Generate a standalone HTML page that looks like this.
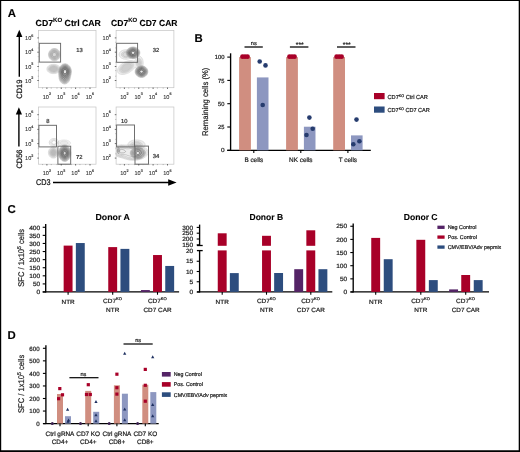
<!DOCTYPE html>
<html><head><meta charset="utf-8"><style>
html,body{margin:0;padding:0;background:#fff;}
body{width:520px;height:452px;overflow:hidden;}
svg{display:block;font-family:"Liberation Sans", sans-serif;text-rendering:geometricPrecision;will-change:transform;}
</style></head><body>
<svg width="520" height="452" viewBox="0 0 520 452" font-family='"Liberation Sans", sans-serif' fill="#1f1f1f">
<defs><filter id="soft" x="-2%" y="-2%" width="104%" height="104%" color-interpolation-filters="sRGB"><feGaussianBlur stdDeviation="0.3"/></filter></defs>
<g filter="url(#soft)">
<rect x="0" y="0" width="520" height="452" fill="#fff"/>
<text x="7.8" y="17.46" font-size="11.4" font-weight="bold" fill="#000" stroke="#000" stroke-width="0.1">A</text>
<text x="194.4" y="41.86" font-size="11.4" font-weight="bold" fill="#000" stroke="#000" stroke-width="0.1">B</text>
<text x="7.6" y="213.16" font-size="11.4" font-weight="bold" fill="#000" stroke="#000" stroke-width="0.1">C</text>
<text x="7.6" y="339.16" font-size="11.4" font-weight="bold" fill="#000" stroke="#000" stroke-width="0.1">D</text>
<text x="35.6" y="25.5" font-size="8.8" font-weight="bold" fill="#000" stroke="#000" stroke-width="0.1" textLength="65.3" lengthAdjust="spacingAndGlyphs">CD7<tspan font-size="6.16" dy="-3.52">KO</tspan><tspan dy="3.52"> Ctrl CAR</tspan></text>
<text x="111.1" y="25.5" font-size="8.8" font-weight="bold" fill="#000" stroke="#000" stroke-width="0.1" textLength="66.4" lengthAdjust="spacingAndGlyphs">CD7<tspan font-size="6.16" dy="-3.52">KO</tspan><tspan dy="3.52"> CD7 CAR</tspan></text>
<g fill="none" stroke-width="0.55" stroke-linejoin="round">
<path stroke="none" fill="#000" fill-opacity="0.09" d="M54.2 73.6 53.8 73.6 53.4 73.6 53.0 73.6 52.6 73.6 52.2 73.5 51.8 73.5 51.5 73.4 51.2 73.3 50.8 73.2 50.4 73.1 50.0 72.9 49.8 72.8 49.4 72.6 49.1 72.4 48.8 72.2 48.5 72.0 48.3 71.8 48.1 71.6 47.9 71.4 47.7 71.2 47.4 70.8 47.2 70.4 47.1 70.0 47.0 69.6 46.9 69.2 46.9 68.8 47.0 68.4 47.1 68.0 47.2 67.6 47.3 67.4 47.6 67.0 47.8 66.7 48.0 66.5 48.2 66.3 48.4 66.1 48.6 65.9 49.0 65.6 49.4 65.4 49.8 65.2 50.0 65.1 50.4 64.9 50.8 64.8 51.2 64.7 51.5 64.6 51.8 64.5 52.2 64.5 52.6 64.4 53.0 64.4 53.4 64.4 53.8 64.4 54.2 64.4 54.6 64.4 55.0 64.5 55.4 64.5 55.7 64.6 56.0 64.7 56.4 64.8 56.8 64.9 57.2 65.1 57.4 65.2 57.8 65.4 58.1 65.6 58.4 65.8 58.7 66.0 58.9 66.2 59.1 66.4 59.3 66.6 59.5 66.8 59.8 67.2 60.0 67.6 60.1 68.0 60.2 68.4 60.3 68.8 60.3 69.2 60.2 69.6 60.1 70.0 60.0 70.4 59.9 70.6 59.6 71.0 59.4 71.3 59.2 71.5 59.0 71.7 58.8 71.9 58.6 72.1 58.2 72.4 57.8 72.6 57.4 72.8 57.2 72.9 56.8 73.1 56.4 73.2 56.0 73.3 55.7 73.4 55.4 73.5 55.0 73.5 54.6 73.6Z"/>
<path stroke="none" fill="#000" fill-opacity="0.07" d="M54.2 72.6 53.8 72.6 53.4 72.6 53.0 72.6 52.6 72.6 52.2 72.5 51.8 72.4 51.4 72.3 51.1 72.2 50.8 72.1 50.4 71.9 50.0 71.6 49.7 71.4 49.4 71.2 49.2 71.0 49.0 70.8 48.9 70.6 48.6 70.2 48.5 69.8 48.4 69.5 48.4 69.2 48.4 68.8 48.4 68.5 48.5 68.2 48.6 67.9 48.8 67.6 49.0 67.2 49.2 67.0 49.4 66.8 49.6 66.6 49.8 66.5 50.2 66.2 50.6 66.0 51.0 65.8 51.4 65.7 51.7 65.6 52.0 65.5 52.4 65.5 52.8 65.4 53.2 65.4 53.6 65.4 54.0 65.4 54.3 65.4 54.6 65.4 55.0 65.5 55.4 65.6 55.8 65.7 56.1 65.8 56.4 65.9 56.8 66.1 57.2 66.4 57.5 66.6 57.8 66.8 58.0 67.0 58.2 67.2 58.3 67.4 58.6 67.8 58.7 68.2 58.8 68.5 58.8 68.8 58.8 69.2 58.8 69.5 58.7 69.8 58.6 70.1 58.4 70.4 58.2 70.8 58.0 71.0 57.8 71.2 57.6 71.4 57.4 71.5 57.0 71.8 56.6 72.0 56.2 72.2 55.8 72.3 55.5 72.4 55.2 72.5 54.8 72.5 54.4 72.6Z"/>
<path stroke="none" fill="#000" fill-opacity="0.06" d="M54.0 72.0 53.6 72.0 53.2 72.0 52.8 72.0 52.4 71.9 52.0 71.8 51.6 71.7 51.4 71.6 51.0 71.4 50.6 71.2 50.3 71.0 50.1 70.8 49.9 70.6 49.7 70.4 49.5 70.0 49.3 69.6 49.2 69.2 49.2 68.8 49.3 68.4 49.5 68.0 49.6 67.8 49.8 67.5 50.0 67.3 50.2 67.1 50.4 66.9 50.8 66.7 51.2 66.5 51.6 66.3 51.9 66.2 52.2 66.1 52.6 66.1 53.0 66.0 53.4 66.0 53.8 66.0 54.2 66.0 54.6 66.1 55.0 66.1 55.3 66.2 55.6 66.3 55.8 66.4 56.2 66.6 56.6 66.8 56.9 67.0 57.1 67.2 57.3 67.4 57.5 67.6 57.7 68.0 57.9 68.4 58.0 68.8 58.0 69.2 57.9 69.6 57.7 70.0 57.6 70.2 57.4 70.5 57.2 70.7 57.0 70.9 56.8 71.1 56.4 71.3 56.0 71.5 55.6 71.7 55.3 71.8 55.0 71.9 54.6 71.9 54.2 72.0Z"/>
<path stroke="none" fill="#000" fill-opacity="0.04" d="M54.0 71.4 53.6 71.4 53.2 71.4 52.8 71.4 52.4 71.3 52.1 71.2 51.8 71.1 51.4 70.9 51.0 70.6 50.8 70.5 50.6 70.3 50.4 70.0 50.2 69.6 50.1 69.2 50.1 68.8 50.2 68.4 50.4 68.0 50.5 67.8 50.7 67.6 51.0 67.4 51.2 67.2 51.6 67.0 52.0 66.8 52.4 66.7 52.8 66.6 53.1 66.6 53.4 66.6 53.8 66.6 54.1 66.6 54.4 66.6 54.8 66.7 55.1 66.8 55.4 66.9 55.8 67.1 56.2 67.4 56.4 67.5 56.6 67.7 56.8 68.0 57.0 68.4 57.1 68.8 57.1 69.2 57.0 69.6 56.8 70.0 56.7 70.2 56.5 70.4 56.2 70.6 56.0 70.8 55.6 71.0 55.2 71.2 54.8 71.3 54.4 71.4 54.1 71.4Z"/>
<path stroke="#c6c6c6" d="M54.2 73.6 53.8 73.6 53.4 73.6 53.0 73.6 52.6 73.6 52.2 73.5 51.8 73.5 51.5 73.4 51.2 73.3 50.8 73.2 50.4 73.1 50.0 72.9 49.8 72.8 49.4 72.6 49.1 72.4 48.8 72.2 48.5 72.0 48.3 71.8 48.1 71.6 47.9 71.4 47.7 71.2 47.4 70.8 47.2 70.4 47.1 70.0 47.0 69.6 46.9 69.2 46.9 68.8 47.0 68.4 47.1 68.0 47.2 67.6 47.3 67.4 47.6 67.0 47.8 66.7 48.0 66.5 48.2 66.3 48.4 66.1 48.6 65.9 49.0 65.6 49.4 65.4 49.8 65.2 50.0 65.1 50.4 64.9 50.8 64.8 51.2 64.7 51.5 64.6 51.8 64.5 52.2 64.5 52.6 64.4 53.0 64.4 53.4 64.4 53.8 64.4 54.2 64.4 54.6 64.4 55.0 64.5 55.4 64.5 55.7 64.6 56.0 64.7 56.4 64.8 56.8 64.9 57.2 65.1 57.4 65.2 57.8 65.4 58.1 65.6 58.4 65.8 58.7 66.0 58.9 66.2 59.1 66.4 59.3 66.6 59.5 66.8 59.8 67.2 60.0 67.6 60.1 68.0 60.2 68.4 60.3 68.8 60.3 69.2 60.2 69.6 60.1 70.0 60.0 70.4 59.9 70.6 59.6 71.0 59.4 71.3 59.2 71.5 59.0 71.7 58.8 71.9 58.6 72.1 58.2 72.4 57.8 72.6 57.4 72.8 57.2 72.9 56.8 73.1 56.4 73.2 56.0 73.3 55.7 73.4 55.4 73.5 55.0 73.5 54.6 73.6Z"/>
<path stroke="#c3c3c3" d="M54.2 72.6 53.8 72.6 53.4 72.6 53.0 72.6 52.6 72.6 52.2 72.5 51.8 72.4 51.4 72.3 51.1 72.2 50.8 72.1 50.4 71.9 50.0 71.6 49.7 71.4 49.4 71.2 49.2 71.0 49.0 70.8 48.9 70.6 48.6 70.2 48.5 69.8 48.4 69.5 48.4 69.2 48.4 68.8 48.4 68.5 48.5 68.2 48.6 67.9 48.8 67.6 49.0 67.2 49.2 67.0 49.4 66.8 49.6 66.6 49.8 66.5 50.2 66.2 50.6 66.0 51.0 65.8 51.4 65.7 51.7 65.6 52.0 65.5 52.4 65.5 52.8 65.4 53.2 65.4 53.6 65.4 54.0 65.4 54.3 65.4 54.6 65.4 55.0 65.5 55.4 65.6 55.8 65.7 56.1 65.8 56.4 65.9 56.8 66.1 57.2 66.4 57.5 66.6 57.8 66.8 58.0 67.0 58.2 67.2 58.3 67.4 58.6 67.8 58.7 68.2 58.8 68.5 58.8 68.8 58.8 69.2 58.8 69.5 58.7 69.8 58.6 70.1 58.4 70.4 58.2 70.8 58.0 71.0 57.8 71.2 57.6 71.4 57.4 71.5 57.0 71.8 56.6 72.0 56.2 72.2 55.8 72.3 55.5 72.4 55.2 72.5 54.8 72.5 54.4 72.6Z"/>
<path stroke="#c1c1c1" d="M54.0 72.0 53.6 72.0 53.2 72.0 52.8 72.0 52.4 71.9 52.0 71.8 51.6 71.7 51.4 71.6 51.0 71.4 50.6 71.2 50.3 71.0 50.1 70.8 49.9 70.6 49.7 70.4 49.5 70.0 49.3 69.6 49.2 69.2 49.2 68.8 49.3 68.4 49.5 68.0 49.6 67.8 49.8 67.5 50.0 67.3 50.2 67.1 50.4 66.9 50.8 66.7 51.2 66.5 51.6 66.3 51.9 66.2 52.2 66.1 52.6 66.1 53.0 66.0 53.4 66.0 53.8 66.0 54.2 66.0 54.6 66.1 55.0 66.1 55.3 66.2 55.6 66.3 55.8 66.4 56.2 66.6 56.6 66.8 56.9 67.0 57.1 67.2 57.3 67.4 57.5 67.6 57.7 68.0 57.9 68.4 58.0 68.8 58.0 69.2 57.9 69.6 57.7 70.0 57.6 70.2 57.4 70.5 57.2 70.7 57.0 70.9 56.8 71.1 56.4 71.3 56.0 71.5 55.6 71.7 55.3 71.8 55.0 71.9 54.6 71.9 54.2 72.0Z"/>
<path stroke="#bebebe" d="M54.0 71.4 53.6 71.4 53.2 71.4 52.8 71.4 52.4 71.3 52.1 71.2 51.8 71.1 51.4 70.9 51.0 70.6 50.8 70.5 50.6 70.3 50.4 70.0 50.2 69.6 50.1 69.2 50.1 68.8 50.2 68.4 50.4 68.0 50.5 67.8 50.7 67.6 51.0 67.4 51.2 67.2 51.6 67.0 52.0 66.8 52.4 66.7 52.8 66.6 53.1 66.6 53.4 66.6 53.8 66.6 54.1 66.6 54.4 66.6 54.8 66.7 55.1 66.8 55.4 66.9 55.8 67.1 56.2 67.4 56.4 67.5 56.6 67.7 56.8 68.0 57.0 68.4 57.1 68.8 57.1 69.2 57.0 69.6 56.8 70.0 56.7 70.2 56.5 70.4 56.2 70.6 56.0 70.8 55.6 71.0 55.2 71.2 54.8 71.3 54.4 71.4 54.1 71.4Z"/>
<path stroke="none" fill="#000" fill-opacity="0.06" d="M55.4 60.6 55.0 60.7 54.6 60.7 54.2 60.7 53.8 60.7 53.4 60.6 53.0 60.5 52.6 60.4 52.2 60.3 51.8 60.1 51.4 59.9 51.0 59.6 50.8 59.4 50.6 59.3 50.4 59.1 50.2 58.9 50.0 58.7 49.8 58.4 49.6 58.2 49.4 57.8 49.2 57.4 49.1 57.2 48.9 56.8 48.8 56.4 48.7 56.2 48.6 55.8 48.6 55.4 48.5 55.0 48.5 54.6 48.5 54.2 48.6 53.8 48.6 53.4 48.7 53.0 48.8 52.8 48.9 52.4 49.1 52.0 49.2 51.8 49.4 51.4 49.6 51.1 49.8 50.8 50.0 50.6 50.1 50.4 50.3 50.2 50.5 50.0 50.8 49.8 51.0 49.6 51.3 49.4 51.6 49.2 52.0 49.0 52.4 48.8 52.8 48.7 53.2 48.6 53.6 48.5 54.0 48.5 54.4 48.5 54.8 48.5 55.2 48.5 55.6 48.6 55.8 48.7 56.2 48.8 56.6 48.9 57.0 49.1 57.4 49.3 57.8 49.6 58.0 49.8 58.2 49.9 58.4 50.1 58.6 50.3 58.8 50.5 59.0 50.8 59.2 51.0 59.4 51.4 59.6 51.8 59.7 52.0 59.9 52.4 60.0 52.8 60.1 53.0 60.2 53.4 60.2 53.8 60.3 54.2 60.3 54.6 60.3 55.0 60.2 55.4 60.2 55.8 60.1 56.2 60.0 56.4 59.9 56.8 59.7 57.2 59.6 57.4 59.4 57.8 59.2 58.1 59.0 58.4 58.8 58.6 58.7 58.8 58.5 59.0 58.3 59.2 58.0 59.4 57.8 59.6 57.5 59.8 57.2 60.0 56.8 60.2 56.4 60.4 56.0 60.5 55.6 60.6Z"/>
<path stroke="none" fill="#000" fill-opacity="0.06" d="M55.6 60.0 55.2 60.1 54.8 60.1 54.4 60.2 54.0 60.1 53.6 60.1 53.2 60.0 52.8 59.9 52.5 59.8 52.2 59.7 51.8 59.5 51.4 59.2 51.2 59.0 51.0 58.9 50.8 58.7 50.6 58.5 50.4 58.3 50.2 58.0 50.0 57.8 49.8 57.4 49.6 57.0 49.4 56.6 49.3 56.2 49.2 55.8 49.1 55.4 49.1 55.0 49.1 54.6 49.1 54.2 49.1 53.8 49.2 53.4 49.3 53.0 49.4 52.7 49.5 52.4 49.7 52.0 49.9 51.6 50.2 51.2 50.3 51.0 50.5 50.8 50.7 50.6 50.9 50.4 51.1 50.2 51.4 50.0 51.7 49.8 52.0 49.6 52.4 49.4 52.8 49.3 53.2 49.2 53.4 49.1 53.8 49.1 54.2 49.0 54.6 49.0 55.0 49.1 55.4 49.1 55.6 49.2 56.0 49.3 56.3 49.4 56.6 49.5 57.0 49.7 57.4 50.0 57.6 50.2 57.8 50.3 58.0 50.5 58.2 50.7 58.4 50.9 58.6 51.2 58.8 51.4 59.0 51.8 59.2 52.2 59.4 52.6 59.5 53.0 59.6 53.4 59.7 53.8 59.7 54.2 59.7 54.6 59.7 55.0 59.7 55.4 59.6 55.8 59.5 56.2 59.4 56.5 59.3 56.8 59.1 57.2 58.9 57.6 58.6 58.0 58.5 58.2 58.3 58.4 58.1 58.6 57.9 58.8 57.7 59.0 57.4 59.2 57.1 59.4 56.8 59.6 56.4 59.8 56.0 59.9 55.6 60.0Z"/>
<path stroke="none" fill="#000" fill-opacity="0.06" d="M55.4 59.4 55.0 59.5 54.6 59.5 54.2 59.5 53.8 59.5 53.4 59.4 53.0 59.3 52.7 59.2 52.4 59.1 52.0 58.8 51.6 58.6 51.4 58.4 51.2 58.2 51.0 58.0 50.8 57.8 50.6 57.6 50.4 57.2 50.3 57.0 50.1 56.6 49.9 56.2 49.8 55.8 49.7 55.4 49.7 55.0 49.7 54.6 49.7 54.2 49.7 53.8 49.8 53.5 49.9 53.2 50.0 52.8 50.2 52.4 50.4 52.0 50.6 51.7 50.8 51.4 51.0 51.2 51.2 51.0 51.4 50.8 51.6 50.6 51.9 50.4 52.2 50.2 52.6 50.0 53.0 49.9 53.3 49.8 53.6 49.7 54.0 49.7 54.4 49.7 54.8 49.7 55.2 49.7 55.5 49.8 55.8 49.9 56.1 50.0 56.4 50.1 56.8 50.4 57.2 50.6 57.4 50.8 57.6 51.0 57.8 51.2 58.0 51.4 58.2 51.6 58.4 52.0 58.5 52.2 58.7 52.6 58.9 53.0 59.0 53.4 59.1 53.8 59.1 54.2 59.1 54.6 59.1 55.0 59.1 55.4 59.0 55.7 58.9 56.0 58.8 56.4 58.6 56.8 58.4 57.2 58.2 57.5 58.0 57.8 57.8 58.0 57.6 58.2 57.4 58.4 57.2 58.6 56.9 58.8 56.6 59.0 56.2 59.2 55.8 59.3 55.5 59.4Z"/>
<path stroke="none" fill="#000" fill-opacity="0.05" d="M54.4 58.8 54.0 58.8 53.6 58.7 53.2 58.6 52.8 58.5 52.4 58.2 52.0 58.0 51.8 57.8 51.6 57.6 51.4 57.4 51.2 57.2 51.0 56.9 50.9 56.6 50.7 56.2 50.5 55.8 50.4 55.4 50.4 55.1 50.4 54.8 50.4 54.4 50.4 54.1 50.4 53.8 50.5 53.4 50.7 53.0 50.8 52.7 51.0 52.4 51.2 52.0 51.4 51.8 51.6 51.6 51.8 51.4 52.0 51.2 52.3 51.0 52.6 50.8 53.0 50.7 53.4 50.5 53.8 50.4 54.2 50.4 54.5 50.4 54.8 50.4 55.2 50.5 55.6 50.6 56.0 50.7 56.4 51.0 56.8 51.2 57.0 51.4 57.2 51.6 57.4 51.8 57.6 52.0 57.8 52.3 57.9 52.6 58.1 53.0 58.3 53.4 58.4 53.8 58.4 54.1 58.4 54.4 58.4 54.8 58.4 55.1 58.4 55.4 58.3 55.8 58.1 56.2 58.0 56.5 57.8 56.8 57.6 57.2 57.4 57.4 57.2 57.6 57.0 57.8 56.8 58.0 56.5 58.2 56.2 58.4 55.8 58.5 55.4 58.7 55.0 58.8 54.6 58.8Z"/>
<path stroke="none" fill="#fff" fill-opacity="0.3" d="M54.8 56.4 54.4 56.5 54.0 56.4 53.6 56.3 53.2 56.0 53.0 55.8 52.8 55.4 52.7 55.0 52.6 54.6 52.7 54.2 52.8 53.8 53.0 53.5 53.2 53.2 53.4 53.1 53.8 52.9 54.2 52.8 54.6 52.8 55.0 52.9 55.3 53.0 55.6 53.2 55.8 53.4 56.0 53.8 56.1 54.2 56.2 54.6 56.1 55.0 56.0 55.4 55.8 55.7 55.6 56.0 55.4 56.1 55.0 56.3Z"/>
<path stroke="#b8b8b8" d="M55.4 60.6 55.0 60.7 54.6 60.7 54.2 60.7 53.8 60.7 53.4 60.6 53.0 60.5 52.6 60.4 52.2 60.3 51.8 60.1 51.4 59.9 51.0 59.6 50.8 59.4 50.6 59.3 50.4 59.1 50.2 58.9 50.0 58.7 49.8 58.4 49.6 58.2 49.4 57.8 49.2 57.4 49.1 57.2 48.9 56.8 48.8 56.4 48.7 56.2 48.6 55.8 48.6 55.4 48.5 55.0 48.5 54.6 48.5 54.2 48.6 53.8 48.6 53.4 48.7 53.0 48.8 52.8 48.9 52.4 49.1 52.0 49.2 51.8 49.4 51.4 49.6 51.1 49.8 50.8 50.0 50.6 50.1 50.4 50.3 50.2 50.5 50.0 50.8 49.8 51.0 49.6 51.3 49.4 51.6 49.2 52.0 49.0 52.4 48.8 52.8 48.7 53.2 48.6 53.6 48.5 54.0 48.5 54.4 48.5 54.8 48.5 55.2 48.5 55.6 48.6 55.8 48.7 56.2 48.8 56.6 48.9 57.0 49.1 57.4 49.3 57.8 49.6 58.0 49.8 58.2 49.9 58.4 50.1 58.6 50.3 58.8 50.5 59.0 50.8 59.2 51.0 59.4 51.4 59.6 51.8 59.7 52.0 59.9 52.4 60.0 52.8 60.1 53.0 60.2 53.4 60.2 53.8 60.3 54.2 60.3 54.6 60.3 55.0 60.2 55.4 60.2 55.8 60.1 56.2 60.0 56.4 59.9 56.8 59.7 57.2 59.6 57.4 59.4 57.8 59.2 58.1 59.0 58.4 58.8 58.6 58.7 58.8 58.5 59.0 58.3 59.2 58.0 59.4 57.8 59.6 57.5 59.8 57.2 60.0 56.8 60.2 56.4 60.4 56.0 60.5 55.6 60.6Z"/>
<path stroke="#b0b0b0" d="M55.6 60.0 55.2 60.1 54.8 60.1 54.4 60.2 54.0 60.1 53.6 60.1 53.2 60.0 52.8 59.9 52.5 59.8 52.2 59.7 51.8 59.5 51.4 59.2 51.2 59.0 51.0 58.9 50.8 58.7 50.6 58.5 50.4 58.3 50.2 58.0 50.0 57.8 49.8 57.4 49.6 57.0 49.4 56.6 49.3 56.2 49.2 55.8 49.1 55.4 49.1 55.0 49.1 54.6 49.1 54.2 49.1 53.8 49.2 53.4 49.3 53.0 49.4 52.7 49.5 52.4 49.7 52.0 49.9 51.6 50.2 51.2 50.3 51.0 50.5 50.8 50.7 50.6 50.9 50.4 51.1 50.2 51.4 50.0 51.7 49.8 52.0 49.6 52.4 49.4 52.8 49.3 53.2 49.2 53.4 49.1 53.8 49.1 54.2 49.0 54.6 49.0 55.0 49.1 55.4 49.1 55.6 49.2 56.0 49.3 56.3 49.4 56.6 49.5 57.0 49.7 57.4 50.0 57.6 50.2 57.8 50.3 58.0 50.5 58.2 50.7 58.4 50.9 58.6 51.2 58.8 51.4 59.0 51.8 59.2 52.2 59.4 52.6 59.5 53.0 59.6 53.4 59.7 53.8 59.7 54.2 59.7 54.6 59.7 55.0 59.7 55.4 59.6 55.8 59.5 56.2 59.4 56.5 59.3 56.8 59.1 57.2 58.9 57.6 58.6 58.0 58.5 58.2 58.3 58.4 58.1 58.6 57.9 58.8 57.7 59.0 57.4 59.2 57.1 59.4 56.8 59.6 56.4 59.8 56.0 59.9 55.6 60.0Z"/>
<path stroke="#a8a8a8" d="M55.4 59.4 55.0 59.5 54.6 59.5 54.2 59.5 53.8 59.5 53.4 59.4 53.0 59.3 52.7 59.2 52.4 59.1 52.0 58.8 51.6 58.6 51.4 58.4 51.2 58.2 51.0 58.0 50.8 57.8 50.6 57.6 50.4 57.2 50.3 57.0 50.1 56.6 49.9 56.2 49.8 55.8 49.7 55.4 49.7 55.0 49.7 54.6 49.7 54.2 49.7 53.8 49.8 53.5 49.9 53.2 50.0 52.8 50.2 52.4 50.4 52.0 50.6 51.7 50.8 51.4 51.0 51.2 51.2 51.0 51.4 50.8 51.6 50.6 51.9 50.4 52.2 50.2 52.6 50.0 53.0 49.9 53.3 49.8 53.6 49.7 54.0 49.7 54.4 49.7 54.8 49.7 55.2 49.7 55.5 49.8 55.8 49.9 56.1 50.0 56.4 50.1 56.8 50.4 57.2 50.6 57.4 50.8 57.6 51.0 57.8 51.2 58.0 51.4 58.2 51.6 58.4 52.0 58.5 52.2 58.7 52.6 58.9 53.0 59.0 53.4 59.1 53.8 59.1 54.2 59.1 54.6 59.1 55.0 59.1 55.4 59.0 55.7 58.9 56.0 58.8 56.4 58.6 56.8 58.4 57.2 58.2 57.5 58.0 57.8 57.8 58.0 57.6 58.2 57.4 58.4 57.2 58.6 56.9 58.8 56.6 59.0 56.2 59.2 55.8 59.3 55.5 59.4Z"/>
<path stroke="#a0a0a0" d="M54.4 58.8 54.0 58.8 53.6 58.7 53.2 58.6 52.8 58.5 52.4 58.2 52.0 58.0 51.8 57.8 51.6 57.6 51.4 57.4 51.2 57.2 51.0 56.9 50.9 56.6 50.7 56.2 50.5 55.8 50.4 55.4 50.4 55.1 50.4 54.8 50.4 54.4 50.4 54.1 50.4 53.8 50.5 53.4 50.7 53.0 50.8 52.7 51.0 52.4 51.2 52.0 51.4 51.8 51.6 51.6 51.8 51.4 52.0 51.2 52.3 51.0 52.6 50.8 53.0 50.7 53.4 50.5 53.8 50.4 54.2 50.4 54.5 50.4 54.8 50.4 55.2 50.5 55.6 50.6 56.0 50.7 56.4 51.0 56.8 51.2 57.0 51.4 57.2 51.6 57.4 51.8 57.6 52.0 57.8 52.3 57.9 52.6 58.1 53.0 58.3 53.4 58.4 53.8 58.4 54.1 58.4 54.4 58.4 54.8 58.4 55.1 58.4 55.4 58.3 55.8 58.1 56.2 58.0 56.5 57.8 56.8 57.6 57.2 57.4 57.4 57.2 57.6 57.0 57.8 56.8 58.0 56.5 58.2 56.2 58.4 55.8 58.5 55.4 58.7 55.0 58.8 54.6 58.8Z"/>
<path stroke="#989898" d="M55.2 57.8 54.8 57.9 54.4 57.9 54.0 57.9 53.6 57.8 53.2 57.7 52.8 57.5 52.4 57.2 52.2 57.0 52.0 56.8 51.8 56.6 51.6 56.2 51.4 55.8 51.3 55.4 51.2 55.0 51.2 54.6 51.2 54.2 51.3 53.8 51.4 53.5 51.5 53.2 51.7 52.8 52.0 52.4 52.2 52.2 52.4 52.0 52.6 51.9 53.0 51.6 53.4 51.4 53.8 51.3 54.2 51.3 54.6 51.3 55.0 51.3 55.3 51.4 55.6 51.5 56.0 51.7 56.4 52.0 56.6 52.2 56.8 52.4 57.0 52.6 57.2 53.0 57.4 53.4 57.5 53.8 57.6 54.2 57.6 54.6 57.6 55.0 57.5 55.4 57.4 55.7 57.3 56.0 57.1 56.4 56.8 56.8 56.6 57.0 56.4 57.2 56.2 57.3 55.8 57.6 55.4 57.8Z"/>
<path stroke="#909090" d="M55.0 56.6 54.6 56.7 54.2 56.7 53.8 56.6 53.4 56.4 53.1 56.2 52.9 56.0 52.7 55.8 52.6 55.6 52.5 55.2 52.4 54.9 52.4 54.6 52.4 54.3 52.5 54.0 52.6 53.6 52.7 53.4 52.9 53.2 53.1 53.0 53.3 52.8 53.6 52.7 54.0 52.5 54.4 52.5 54.8 52.5 55.0 52.6 55.4 52.8 55.7 53.0 55.9 53.2 56.1 53.4 56.2 53.6 56.3 54.0 56.4 54.3 56.4 54.6 56.4 54.9 56.3 55.2 56.2 55.6 56.1 55.8 55.9 56.0 55.7 56.2 55.5 56.4 55.2 56.5Z"/>
<path stroke="none" fill="#000" fill-opacity="0.04" d="M65.8 83.8 65.4 83.9 65.0 84.0 64.6 84.0 64.2 84.0 63.8 83.9 63.4 83.8 63.0 83.7 62.7 83.6 62.4 83.4 62.0 83.2 61.8 83.1 61.6 82.9 61.4 82.7 61.2 82.6 61.0 82.4 60.8 82.1 60.6 81.9 60.4 81.6 60.3 81.4 60.0 81.0 59.8 80.6 59.6 80.2 59.5 79.8 59.4 79.5 59.3 79.2 59.2 78.8 59.1 78.4 59.1 78.0 59.0 77.6 59.0 77.2 58.9 76.8 58.9 76.4 58.9 76.0 58.8 75.6 58.8 75.3 58.8 75.0 58.7 74.6 58.7 74.2 58.7 73.8 58.6 73.4 58.6 73.0 58.6 72.6 58.6 72.2 58.6 71.9 58.6 71.6 58.6 71.2 58.7 70.8 58.7 70.4 58.8 70.0 58.8 69.6 58.9 69.2 59.0 68.8 59.2 68.4 59.3 68.0 59.5 67.6 59.7 67.2 60.0 66.8 60.2 66.4 60.4 66.2 60.5 66.0 60.7 65.8 60.9 65.6 61.1 65.4 61.3 65.2 61.6 65.0 61.8 64.8 62.1 64.6 62.4 64.4 62.8 64.2 63.2 64.1 63.5 64.0 63.8 63.9 64.2 63.8 64.6 63.8 65.0 63.8 65.4 63.8 65.8 63.8 66.2 63.9 66.5 64.0 66.8 64.1 67.1 64.2 67.4 64.3 67.8 64.6 68.2 64.8 68.4 65.0 68.6 65.1 68.8 65.3 69.0 65.5 69.2 65.7 69.4 65.9 69.6 66.2 69.8 66.4 70.0 66.7 70.2 67.0 70.4 67.4 70.6 67.8 70.7 68.2 70.9 68.6 71.0 69.0 71.1 69.4 71.2 69.8 71.3 70.2 71.3 70.6 71.3 71.0 71.4 71.4 71.4 71.8 71.3 72.2 71.3 72.6 71.3 73.0 71.2 73.4 71.2 73.8 71.1 74.2 71.0 74.6 70.9 75.0 70.8 75.4 70.8 75.8 70.7 76.2 70.6 76.5 70.5 76.8 70.4 77.2 70.4 77.6 70.3 78.0 70.2 78.3 70.1 78.6 70.0 79.0 69.9 79.4 69.8 79.6 69.7 80.0 69.5 80.4 69.3 80.8 69.1 81.2 68.8 81.6 68.6 81.9 68.4 82.1 68.2 82.4 68.0 82.6 67.8 82.7 67.6 82.9 67.4 83.1 67.0 83.3 66.6 83.5 66.2 83.7 65.9 83.8Z"/>
<path stroke="none" fill="#000" fill-opacity="0.05" d="M65.8 83.2 65.4 83.3 65.0 83.4 64.6 83.4 64.2 83.4 63.8 83.3 63.4 83.2 63.0 83.1 62.6 82.9 62.2 82.7 61.9 82.4 61.6 82.2 61.4 82.0 61.2 81.8 61.1 81.6 60.9 81.4 60.6 81.0 60.4 80.6 60.2 80.2 60.0 79.8 59.9 79.4 59.8 79.1 59.7 78.8 59.6 78.4 59.5 78.0 59.5 77.6 59.4 77.2 59.4 76.8 59.3 76.4 59.3 76.0 59.3 75.6 59.2 75.2 59.2 74.8 59.1 74.4 59.1 74.0 59.1 73.6 59.0 73.2 59.0 72.8 59.0 72.4 59.0 72.0 59.0 71.6 59.0 71.2 59.0 70.8 59.1 70.4 59.2 70.0 59.2 69.6 59.3 69.2 59.5 68.8 59.6 68.4 59.8 68.0 60.0 67.6 60.2 67.2 60.4 66.9 60.6 66.6 60.7 66.4 60.9 66.2 61.1 66.0 61.3 65.8 61.5 65.6 61.8 65.4 62.0 65.2 62.3 65.0 62.6 64.8 63.0 64.7 63.4 64.5 63.7 64.4 64.0 64.3 64.4 64.3 64.8 64.2 65.2 64.2 65.6 64.3 66.0 64.3 66.3 64.4 66.6 64.5 66.9 64.6 67.2 64.7 67.6 65.0 68.0 65.2 68.2 65.4 68.4 65.5 68.6 65.7 68.8 65.9 69.0 66.1 69.2 66.3 69.4 66.6 69.6 66.8 69.8 67.2 70.0 67.5 70.1 67.8 70.3 68.2 70.5 68.6 70.6 69.0 70.7 69.4 70.8 69.8 70.9 70.2 70.9 70.6 71.0 71.0 71.0 71.4 71.0 71.8 71.0 72.2 70.9 72.6 70.9 73.0 70.8 73.4 70.8 73.8 70.7 74.2 70.6 74.6 70.5 75.0 70.4 75.4 70.3 75.8 70.2 76.2 70.1 76.6 70.0 77.0 69.9 77.4 69.8 77.8 69.7 78.2 69.6 78.6 69.5 79.0 69.4 79.3 69.3 79.6 69.2 79.8 69.0 80.2 68.8 80.6 68.6 81.0 68.4 81.3 68.2 81.6 68.0 81.8 67.8 82.0 67.6 82.2 67.4 82.4 67.2 82.5 66.8 82.8 66.4 83.0 66.0 83.2Z"/>
<path stroke="none" fill="#000" fill-opacity="0.06" d="M65.6 82.6 65.2 82.7 64.8 82.7 64.4 82.7 64.0 82.7 63.6 82.6 63.2 82.5 62.8 82.3 62.4 82.0 62.1 81.8 61.9 81.6 61.7 81.4 61.5 81.2 61.3 81.0 61.0 80.6 60.8 80.2 60.6 79.8 60.5 79.4 60.3 79.0 60.2 78.6 60.1 78.2 60.0 77.8 60.0 77.4 59.9 77.0 59.8 76.6 59.8 76.2 59.7 75.8 59.7 75.4 59.7 75.0 59.6 74.6 59.6 74.2 59.5 73.8 59.5 73.4 59.4 73.0 59.4 72.6 59.4 72.2 59.4 71.8 59.4 71.4 59.4 71.0 59.5 70.6 59.5 70.2 59.6 69.9 59.7 69.6 59.8 69.2 59.9 68.8 60.0 68.6 60.1 68.2 60.3 67.8 60.6 67.4 60.8 67.1 61.0 66.8 61.2 66.6 61.3 66.4 61.5 66.2 61.8 66.0 62.0 65.8 62.2 65.7 62.6 65.4 63.0 65.2 63.2 65.1 63.5 65.0 63.8 64.9 64.2 64.8 64.6 64.7 65.0 64.7 65.4 64.7 65.8 64.8 66.2 64.9 66.5 65.0 66.8 65.1 67.0 65.2 67.4 65.4 67.7 65.6 68.0 65.8 68.2 66.0 68.4 66.1 68.6 66.3 68.8 66.6 69.0 66.8 69.1 67.0 69.4 67.4 69.5 67.6 69.8 68.0 69.9 68.4 70.1 68.8 70.2 69.1 70.3 69.4 70.4 69.8 70.4 70.2 70.5 70.6 70.5 71.0 70.6 71.4 70.6 71.8 70.5 72.2 70.5 72.6 70.5 73.0 70.4 73.4 70.3 73.8 70.3 74.2 70.2 74.6 70.1 75.0 70.0 75.2 69.9 75.6 69.8 76.0 69.7 76.4 69.6 76.8 69.5 77.2 69.4 77.5 69.3 77.8 69.2 78.2 69.1 78.6 69.0 78.9 68.9 79.2 68.7 79.6 68.6 79.8 68.4 80.2 68.2 80.6 68.0 80.8 67.8 81.1 67.6 81.3 67.4 81.5 67.2 81.7 67.0 81.9 66.6 82.2 66.2 82.4 65.8 82.5Z"/>
<path stroke="none" fill="#000" fill-opacity="0.07" d="M65.6 81.8 65.2 81.9 64.8 82.0 64.4 82.0 64.0 81.9 63.6 81.8 63.2 81.7 62.8 81.4 62.5 81.2 62.2 81.0 62.0 80.8 61.9 80.6 61.7 80.4 61.4 80.0 61.2 79.6 61.0 79.2 60.9 78.8 60.8 78.5 60.7 78.2 60.6 77.8 60.5 77.4 60.5 77.0 60.4 76.6 60.3 76.2 60.3 75.8 60.2 75.4 60.1 75.0 60.1 74.6 60.0 74.2 60.0 73.9 60.0 73.6 59.9 73.2 59.9 72.8 59.9 72.4 59.8 72.0 59.8 71.6 59.9 71.2 59.9 70.8 60.0 70.4 60.0 70.0 60.1 69.6 60.2 69.4 60.3 69.0 60.5 68.6 60.6 68.3 60.8 68.0 61.0 67.6 61.2 67.4 61.4 67.1 61.6 66.8 61.8 66.6 62.0 66.5 62.2 66.3 62.4 66.1 62.8 65.9 63.2 65.7 63.6 65.5 64.0 65.4 64.4 65.3 64.8 65.3 65.2 65.3 65.6 65.3 66.0 65.4 66.4 65.5 66.6 65.6 67.0 65.8 67.4 66.0 67.7 66.2 67.9 66.4 68.2 66.6 68.4 66.8 68.5 67.0 68.7 67.2 69.0 67.6 69.2 68.0 69.3 68.2 69.5 68.6 69.7 69.0 69.8 69.4 69.9 69.8 70.0 70.2 70.1 70.6 70.1 71.0 70.1 71.4 70.1 71.8 70.1 72.2 70.1 72.6 70.0 73.0 69.9 73.4 69.9 73.8 69.8 74.1 69.7 74.4 69.6 74.8 69.5 75.2 69.4 75.6 69.3 76.0 69.2 76.3 69.1 76.6 69.0 77.0 68.9 77.4 68.8 77.6 68.7 78.0 68.6 78.3 68.5 78.6 68.3 79.0 68.2 79.3 68.0 79.6 67.8 80.0 67.6 80.3 67.4 80.6 67.2 80.8 67.0 81.0 66.8 81.2 66.6 81.3 66.2 81.6 65.8 81.8Z"/>
<path stroke="none" fill="#000" fill-opacity="0.07" d="M65.2 81.0 64.8 81.1 64.4 81.1 64.0 81.0 63.6 80.9 63.2 80.7 62.8 80.4 62.6 80.2 62.4 80.0 62.2 79.8 62.0 79.5 61.8 79.2 61.6 78.8 61.5 78.4 61.4 78.1 61.3 77.8 61.2 77.4 61.1 77.0 61.0 76.6 60.9 76.2 60.9 75.8 60.8 75.5 60.7 75.2 60.7 74.8 60.6 74.4 60.5 74.0 60.5 73.6 60.4 73.2 60.4 72.8 60.3 72.4 60.3 72.0 60.3 71.6 60.4 71.2 60.4 70.8 60.5 70.4 60.5 70.0 60.6 69.8 60.7 69.4 60.8 69.1 60.9 68.8 61.1 68.4 61.4 68.0 61.6 67.7 61.8 67.4 62.0 67.2 62.2 67.0 62.4 66.8 62.6 66.7 63.0 66.4 63.4 66.2 63.8 66.1 64.2 65.9 64.6 65.9 65.0 65.9 65.4 65.9 65.8 65.9 66.2 66.1 66.6 66.2 67.0 66.4 67.2 66.5 67.6 66.8 67.8 67.0 68.0 67.2 68.2 67.4 68.3 67.6 68.6 68.0 68.7 68.2 69.0 68.6 69.1 69.0 69.3 69.4 69.4 69.8 69.5 70.2 69.6 70.6 69.6 71.0 69.6 71.4 69.6 71.8 69.6 72.2 69.6 72.6 69.5 73.0 69.4 73.4 69.4 73.8 69.3 74.2 69.1 74.6 69.0 75.0 68.9 75.4 68.8 75.7 68.7 76.0 68.6 76.3 68.5 76.6 68.4 76.9 68.3 77.2 68.2 77.5 68.1 77.8 67.9 78.2 67.8 78.5 67.6 78.8 67.4 79.2 67.2 79.6 67.0 79.8 66.9 80.0 66.7 80.2 66.4 80.4 66.2 80.6 65.8 80.8 65.6 80.9 65.3 81.0Z"/>
<path stroke="none" fill="#000" fill-opacity="0.08" d="M65.4 79.8 65.0 79.9 64.6 80.0 64.2 79.9 63.8 79.8 63.5 79.6 63.2 79.4 63.0 79.2 62.8 79.0 62.6 78.7 62.4 78.4 62.2 78.0 62.1 77.6 61.9 77.2 61.8 76.8 61.7 76.4 61.6 76.0 61.5 75.6 61.4 75.2 61.3 74.8 61.2 74.4 61.1 74.0 61.0 73.6 61.0 73.3 61.0 73.0 60.9 72.6 60.9 72.2 60.9 71.8 60.9 71.4 60.9 71.0 61.0 70.6 61.1 70.2 61.2 69.8 61.3 69.4 61.4 69.2 61.6 68.8 61.8 68.4 61.9 68.2 62.1 68.0 62.3 67.8 62.5 67.6 62.7 67.4 62.9 67.2 63.2 67.0 63.6 66.8 64.0 66.7 64.3 66.6 64.6 66.5 65.0 66.5 65.4 66.5 65.7 66.6 66.0 66.7 66.3 66.8 66.6 66.9 67.0 67.2 67.3 67.4 67.5 67.6 67.7 67.8 67.9 68.0 68.0 68.2 68.2 68.4 68.4 68.8 68.5 69.0 68.7 69.4 68.8 69.7 68.9 70.0 69.0 70.4 69.0 70.8 69.1 71.2 69.1 71.6 69.1 72.0 69.0 72.4 69.0 72.7 69.0 73.0 68.9 73.4 68.8 73.7 68.7 74.0 68.6 74.4 68.5 74.8 68.3 75.2 68.2 75.5 68.1 75.8 67.9 76.2 67.8 76.5 67.7 76.8 67.5 77.2 67.3 77.6 67.2 77.8 67.0 78.2 66.8 78.5 66.6 78.8 66.5 79.0 66.3 79.2 66.1 79.4 65.8 79.6 65.4 79.8Z"/>
<path stroke="none" fill="#000" fill-opacity="0.09" d="M65.2 78.2 64.8 78.3 64.4 78.3 64.1 78.2 63.8 78.0 63.6 77.9 63.4 77.7 63.2 77.4 63.0 77.1 62.9 76.8 62.7 76.4 62.5 76.0 62.4 75.7 62.3 75.4 62.1 75.0 62.0 74.6 61.9 74.2 61.8 73.9 61.7 73.6 61.6 73.2 61.6 72.8 61.5 72.4 61.5 72.0 61.5 71.6 61.5 71.2 61.6 70.8 61.7 70.4 61.8 70.0 61.9 69.6 62.1 69.2 62.4 68.8 62.6 68.5 62.8 68.3 63.0 68.1 63.2 67.9 63.6 67.7 64.0 67.5 64.4 67.4 64.8 67.3 65.2 67.3 65.6 67.4 66.0 67.5 66.3 67.6 66.6 67.8 66.9 68.0 67.1 68.2 67.3 68.4 67.5 68.6 67.8 69.0 68.0 69.4 68.1 69.8 68.3 70.2 68.4 70.6 68.4 71.0 68.5 71.4 68.5 71.8 68.4 72.2 68.4 72.5 68.3 72.8 68.3 73.2 68.2 73.6 68.0 74.0 67.9 74.4 67.7 74.8 67.5 75.2 67.4 75.4 67.2 75.8 67.0 76.2 66.9 76.4 66.6 76.8 66.4 77.1 66.2 77.4 66.0 77.6 65.8 77.8 65.6 78.0 65.4 78.1Z"/>
<path stroke="none" fill="#fff" fill-opacity="0.75" d="M65.4 73.4 65.0 73.5 64.6 73.5 64.2 73.2 64.1 73.0 63.8 72.6 63.7 72.2 63.7 71.8 63.7 71.4 63.8 71.0 64.0 70.6 64.2 70.3 64.4 70.1 64.7 70.0 65.0 70.0 65.3 70.0 65.6 70.1 65.8 70.3 66.0 70.6 66.1 70.8 66.3 71.2 66.3 71.6 66.3 72.0 66.2 72.3 66.1 72.6 65.9 73.0 65.7 73.2 65.4 73.4Z"/>
<path stroke="#b8b8b8" d="M65.8 83.8 65.4 83.9 65.0 84.0 64.6 84.0 64.2 84.0 63.8 83.9 63.4 83.8 63.0 83.7 62.7 83.6 62.4 83.4 62.0 83.2 61.8 83.1 61.6 82.9 61.4 82.7 61.2 82.6 61.0 82.4 60.8 82.1 60.6 81.9 60.4 81.6 60.3 81.4 60.0 81.0 59.8 80.6 59.6 80.2 59.5 79.8 59.4 79.5 59.3 79.2 59.2 78.8 59.1 78.4 59.1 78.0 59.0 77.6 59.0 77.2 58.9 76.8 58.9 76.4 58.9 76.0 58.8 75.6 58.8 75.3 58.8 75.0 58.7 74.6 58.7 74.2 58.7 73.8 58.6 73.4 58.6 73.0 58.6 72.6 58.6 72.2 58.6 71.9 58.6 71.6 58.6 71.2 58.7 70.8 58.7 70.4 58.8 70.0 58.8 69.6 58.9 69.2 59.0 68.8 59.2 68.4 59.3 68.0 59.5 67.6 59.7 67.2 60.0 66.8 60.2 66.4 60.4 66.2 60.5 66.0 60.7 65.8 60.9 65.6 61.1 65.4 61.3 65.2 61.6 65.0 61.8 64.8 62.1 64.6 62.4 64.4 62.8 64.2 63.2 64.1 63.5 64.0 63.8 63.9 64.2 63.8 64.6 63.8 65.0 63.8 65.4 63.8 65.8 63.8 66.2 63.9 66.5 64.0 66.8 64.1 67.1 64.2 67.4 64.3 67.8 64.6 68.2 64.8 68.4 65.0 68.6 65.1 68.8 65.3 69.0 65.5 69.2 65.7 69.4 65.9 69.6 66.2 69.8 66.4 70.0 66.7 70.2 67.0 70.4 67.4 70.6 67.8 70.7 68.2 70.9 68.6 71.0 69.0 71.1 69.4 71.2 69.8 71.3 70.2 71.3 70.6 71.3 71.0 71.4 71.4 71.4 71.8 71.3 72.2 71.3 72.6 71.3 73.0 71.2 73.4 71.2 73.8 71.1 74.2 71.0 74.6 70.9 75.0 70.8 75.4 70.8 75.8 70.7 76.2 70.6 76.5 70.5 76.8 70.4 77.2 70.4 77.6 70.3 78.0 70.2 78.3 70.1 78.6 70.0 79.0 69.9 79.4 69.8 79.6 69.7 80.0 69.5 80.4 69.3 80.8 69.1 81.2 68.8 81.6 68.6 81.9 68.4 82.1 68.2 82.4 68.0 82.6 67.8 82.7 67.6 82.9 67.4 83.1 67.0 83.3 66.6 83.5 66.2 83.7 65.9 83.8Z"/>
<path stroke="#a8a8a8" d="M65.8 83.2 65.4 83.3 65.0 83.4 64.6 83.4 64.2 83.4 63.8 83.3 63.4 83.2 63.0 83.1 62.6 82.9 62.2 82.7 61.9 82.4 61.6 82.2 61.4 82.0 61.2 81.8 61.1 81.6 60.9 81.4 60.6 81.0 60.4 80.6 60.2 80.2 60.0 79.8 59.9 79.4 59.8 79.1 59.7 78.8 59.6 78.4 59.5 78.0 59.5 77.6 59.4 77.2 59.4 76.8 59.3 76.4 59.3 76.0 59.3 75.6 59.2 75.2 59.2 74.8 59.1 74.4 59.1 74.0 59.1 73.6 59.0 73.2 59.0 72.8 59.0 72.4 59.0 72.0 59.0 71.6 59.0 71.2 59.0 70.8 59.1 70.4 59.2 70.0 59.2 69.6 59.3 69.2 59.5 68.8 59.6 68.4 59.8 68.0 60.0 67.6 60.2 67.2 60.4 66.9 60.6 66.6 60.7 66.4 60.9 66.2 61.1 66.0 61.3 65.8 61.5 65.6 61.8 65.4 62.0 65.2 62.3 65.0 62.6 64.8 63.0 64.7 63.4 64.5 63.7 64.4 64.0 64.3 64.4 64.3 64.8 64.2 65.2 64.2 65.6 64.3 66.0 64.3 66.3 64.4 66.6 64.5 66.9 64.6 67.2 64.7 67.6 65.0 68.0 65.2 68.2 65.4 68.4 65.5 68.6 65.7 68.8 65.9 69.0 66.1 69.2 66.3 69.4 66.6 69.6 66.8 69.8 67.2 70.0 67.5 70.1 67.8 70.3 68.2 70.5 68.6 70.6 69.0 70.7 69.4 70.8 69.8 70.9 70.2 70.9 70.6 71.0 71.0 71.0 71.4 71.0 71.8 71.0 72.2 70.9 72.6 70.9 73.0 70.8 73.4 70.8 73.8 70.7 74.2 70.6 74.6 70.5 75.0 70.4 75.4 70.3 75.8 70.2 76.2 70.1 76.6 70.0 77.0 69.9 77.4 69.8 77.8 69.7 78.2 69.6 78.6 69.5 79.0 69.4 79.3 69.3 79.6 69.2 79.8 69.0 80.2 68.8 80.6 68.6 81.0 68.4 81.3 68.2 81.6 68.0 81.8 67.8 82.0 67.6 82.2 67.4 82.4 67.2 82.5 66.8 82.8 66.4 83.0 66.0 83.2Z"/>
<path stroke="#999999" d="M65.6 82.6 65.2 82.7 64.8 82.7 64.4 82.7 64.0 82.7 63.6 82.6 63.2 82.5 62.8 82.3 62.4 82.0 62.1 81.8 61.9 81.6 61.7 81.4 61.5 81.2 61.3 81.0 61.0 80.6 60.8 80.2 60.6 79.8 60.5 79.4 60.3 79.0 60.2 78.6 60.1 78.2 60.0 77.8 60.0 77.4 59.9 77.0 59.8 76.6 59.8 76.2 59.7 75.8 59.7 75.4 59.7 75.0 59.6 74.6 59.6 74.2 59.5 73.8 59.5 73.4 59.4 73.0 59.4 72.6 59.4 72.2 59.4 71.8 59.4 71.4 59.4 71.0 59.5 70.6 59.5 70.2 59.6 69.9 59.7 69.6 59.8 69.2 59.9 68.8 60.0 68.6 60.1 68.2 60.3 67.8 60.6 67.4 60.8 67.1 61.0 66.8 61.2 66.6 61.3 66.4 61.5 66.2 61.8 66.0 62.0 65.8 62.2 65.7 62.6 65.4 63.0 65.2 63.2 65.1 63.5 65.0 63.8 64.9 64.2 64.8 64.6 64.7 65.0 64.7 65.4 64.7 65.8 64.8 66.2 64.9 66.5 65.0 66.8 65.1 67.0 65.2 67.4 65.4 67.7 65.6 68.0 65.8 68.2 66.0 68.4 66.1 68.6 66.3 68.8 66.6 69.0 66.8 69.1 67.0 69.4 67.4 69.5 67.6 69.8 68.0 69.9 68.4 70.1 68.8 70.2 69.1 70.3 69.4 70.4 69.8 70.4 70.2 70.5 70.6 70.5 71.0 70.6 71.4 70.6 71.8 70.5 72.2 70.5 72.6 70.5 73.0 70.4 73.4 70.3 73.8 70.3 74.2 70.2 74.6 70.1 75.0 70.0 75.2 69.9 75.6 69.8 76.0 69.7 76.4 69.6 76.8 69.5 77.2 69.4 77.5 69.3 77.8 69.2 78.2 69.1 78.6 69.0 78.9 68.9 79.2 68.7 79.6 68.6 79.8 68.4 80.2 68.2 80.6 68.0 80.8 67.8 81.1 67.6 81.3 67.4 81.5 67.2 81.7 67.0 81.9 66.6 82.2 66.2 82.4 65.8 82.5Z"/>
<path stroke="#8a8a8a" d="M65.6 81.8 65.2 81.9 64.8 82.0 64.4 82.0 64.0 81.9 63.6 81.8 63.2 81.7 62.8 81.4 62.5 81.2 62.2 81.0 62.0 80.8 61.9 80.6 61.7 80.4 61.4 80.0 61.2 79.6 61.0 79.2 60.9 78.8 60.8 78.5 60.7 78.2 60.6 77.8 60.5 77.4 60.5 77.0 60.4 76.6 60.3 76.2 60.3 75.8 60.2 75.4 60.1 75.0 60.1 74.6 60.0 74.2 60.0 73.9 60.0 73.6 59.9 73.2 59.9 72.8 59.9 72.4 59.8 72.0 59.8 71.6 59.9 71.2 59.9 70.8 60.0 70.4 60.0 70.0 60.1 69.6 60.2 69.4 60.3 69.0 60.5 68.6 60.6 68.3 60.8 68.0 61.0 67.6 61.2 67.4 61.4 67.1 61.6 66.8 61.8 66.6 62.0 66.5 62.2 66.3 62.4 66.1 62.8 65.9 63.2 65.7 63.6 65.5 64.0 65.4 64.4 65.3 64.8 65.3 65.2 65.3 65.6 65.3 66.0 65.4 66.4 65.5 66.6 65.6 67.0 65.8 67.4 66.0 67.7 66.2 67.9 66.4 68.2 66.6 68.4 66.8 68.5 67.0 68.7 67.2 69.0 67.6 69.2 68.0 69.3 68.2 69.5 68.6 69.7 69.0 69.8 69.4 69.9 69.8 70.0 70.2 70.1 70.6 70.1 71.0 70.1 71.4 70.1 71.8 70.1 72.2 70.1 72.6 70.0 73.0 69.9 73.4 69.9 73.8 69.8 74.1 69.7 74.4 69.6 74.8 69.5 75.2 69.4 75.6 69.3 76.0 69.2 76.3 69.1 76.6 69.0 77.0 68.9 77.4 68.8 77.6 68.7 78.0 68.6 78.3 68.5 78.6 68.3 79.0 68.2 79.3 68.0 79.6 67.8 80.0 67.6 80.3 67.4 80.6 67.2 80.8 67.0 81.0 66.8 81.2 66.6 81.3 66.2 81.6 65.8 81.8Z"/>
<path stroke="#7a7a7a" d="M65.2 81.0 64.8 81.1 64.4 81.1 64.0 81.0 63.6 80.9 63.2 80.7 62.8 80.4 62.6 80.2 62.4 80.0 62.2 79.8 62.0 79.5 61.8 79.2 61.6 78.8 61.5 78.4 61.4 78.1 61.3 77.8 61.2 77.4 61.1 77.0 61.0 76.6 60.9 76.2 60.9 75.8 60.8 75.5 60.7 75.2 60.7 74.8 60.6 74.4 60.5 74.0 60.5 73.6 60.4 73.2 60.4 72.8 60.3 72.4 60.3 72.0 60.3 71.6 60.4 71.2 60.4 70.8 60.5 70.4 60.5 70.0 60.6 69.8 60.7 69.4 60.8 69.1 60.9 68.8 61.1 68.4 61.4 68.0 61.6 67.7 61.8 67.4 62.0 67.2 62.2 67.0 62.4 66.8 62.6 66.7 63.0 66.4 63.4 66.2 63.8 66.1 64.2 65.9 64.6 65.9 65.0 65.9 65.4 65.9 65.8 65.9 66.2 66.1 66.6 66.2 67.0 66.4 67.2 66.5 67.6 66.8 67.8 67.0 68.0 67.2 68.2 67.4 68.3 67.6 68.6 68.0 68.7 68.2 69.0 68.6 69.1 69.0 69.3 69.4 69.4 69.8 69.5 70.2 69.6 70.6 69.6 71.0 69.6 71.4 69.6 71.8 69.6 72.2 69.6 72.6 69.5 73.0 69.4 73.4 69.4 73.8 69.3 74.2 69.1 74.6 69.0 75.0 68.9 75.4 68.8 75.7 68.7 76.0 68.6 76.3 68.5 76.6 68.4 76.9 68.3 77.2 68.2 77.5 68.1 77.8 67.9 78.2 67.8 78.5 67.6 78.8 67.4 79.2 67.2 79.6 67.0 79.8 66.9 80.0 66.7 80.2 66.4 80.4 66.2 80.6 65.8 80.8 65.6 80.9 65.3 81.0Z"/>
<path stroke="#6a6a6a" d="M65.4 79.8 65.0 79.9 64.6 80.0 64.2 79.9 63.8 79.8 63.5 79.6 63.2 79.4 63.0 79.2 62.8 79.0 62.6 78.7 62.4 78.4 62.2 78.0 62.1 77.6 61.9 77.2 61.8 76.8 61.7 76.4 61.6 76.0 61.5 75.6 61.4 75.2 61.3 74.8 61.2 74.4 61.1 74.0 61.0 73.6 61.0 73.3 61.0 73.0 60.9 72.6 60.9 72.2 60.9 71.8 60.9 71.4 60.9 71.0 61.0 70.6 61.1 70.2 61.2 69.8 61.3 69.4 61.4 69.2 61.6 68.8 61.8 68.4 61.9 68.2 62.1 68.0 62.3 67.8 62.5 67.6 62.7 67.4 62.9 67.2 63.2 67.0 63.6 66.8 64.0 66.7 64.3 66.6 64.6 66.5 65.0 66.5 65.4 66.5 65.7 66.6 66.0 66.7 66.3 66.8 66.6 66.9 67.0 67.2 67.3 67.4 67.5 67.6 67.7 67.8 67.9 68.0 68.0 68.2 68.2 68.4 68.4 68.8 68.5 69.0 68.7 69.4 68.8 69.7 68.9 70.0 69.0 70.4 69.0 70.8 69.1 71.2 69.1 71.6 69.1 72.0 69.0 72.4 69.0 72.7 69.0 73.0 68.9 73.4 68.8 73.7 68.7 74.0 68.6 74.4 68.5 74.8 68.3 75.2 68.2 75.5 68.1 75.8 67.9 76.2 67.8 76.5 67.7 76.8 67.5 77.2 67.3 77.6 67.2 77.8 67.0 78.2 66.8 78.5 66.6 78.8 66.5 79.0 66.3 79.2 66.1 79.4 65.8 79.6 65.4 79.8Z"/>
<path stroke="#5b5b5b" d="M65.2 78.2 64.8 78.3 64.4 78.3 64.1 78.2 63.8 78.0 63.6 77.9 63.4 77.7 63.2 77.4 63.0 77.1 62.9 76.8 62.7 76.4 62.5 76.0 62.4 75.7 62.3 75.4 62.1 75.0 62.0 74.6 61.9 74.2 61.8 73.9 61.7 73.6 61.6 73.2 61.6 72.8 61.5 72.4 61.5 72.0 61.5 71.6 61.5 71.2 61.6 70.8 61.7 70.4 61.8 70.0 61.9 69.6 62.1 69.2 62.4 68.8 62.6 68.5 62.8 68.3 63.0 68.1 63.2 67.9 63.6 67.7 64.0 67.5 64.4 67.4 64.8 67.3 65.2 67.3 65.6 67.4 66.0 67.5 66.3 67.6 66.6 67.8 66.9 68.0 67.1 68.2 67.3 68.4 67.5 68.6 67.8 69.0 68.0 69.4 68.1 69.8 68.3 70.2 68.4 70.6 68.4 71.0 68.5 71.4 68.5 71.8 68.4 72.2 68.4 72.5 68.3 72.8 68.3 73.2 68.2 73.6 68.0 74.0 67.9 74.4 67.7 74.8 67.5 75.2 67.4 75.4 67.2 75.8 67.0 76.2 66.9 76.4 66.6 76.8 66.4 77.1 66.2 77.4 66.0 77.6 65.8 77.8 65.6 78.0 65.4 78.1Z"/>
<path stroke="#4c4c4c" d="M65.2 76.1 64.8 76.1 64.4 76.1 64.0 75.8 63.8 75.7 63.6 75.5 63.4 75.2 63.3 75.0 63.0 74.6 62.8 74.2 62.7 73.8 62.5 73.4 62.4 73.0 62.3 72.6 62.3 72.2 62.3 71.8 62.3 71.4 62.3 71.0 62.4 70.7 62.5 70.4 62.6 70.0 62.7 69.8 62.9 69.4 63.1 69.2 63.3 69.0 63.5 68.8 63.8 68.6 64.0 68.5 64.4 68.3 64.8 68.2 65.2 68.2 65.6 68.3 66.0 68.5 66.2 68.6 66.5 68.8 66.7 69.0 66.9 69.2 67.0 69.4 67.2 69.7 67.4 70.0 67.5 70.4 67.6 70.7 67.6 71.0 67.7 71.4 67.7 71.8 67.7 72.2 67.6 72.6 67.5 73.0 67.4 73.3 67.3 73.6 67.1 74.0 66.9 74.4 66.6 74.8 66.4 75.1 66.2 75.3 66.0 75.6 65.8 75.7 65.4 76.0Z"/>
<path stroke="#3c3c3c" d="M65.4 73.9 65.0 74.0 64.6 73.9 64.4 73.8 64.1 73.6 63.9 73.4 63.7 73.0 63.5 72.6 63.4 72.2 63.4 71.8 63.4 71.4 63.5 71.0 63.6 70.6 63.7 70.4 64.0 70.0 64.2 69.9 64.6 69.7 65.0 69.6 65.4 69.7 65.7 69.8 65.9 70.0 66.1 70.2 66.4 70.6 66.5 71.0 66.6 71.4 66.6 71.8 66.5 72.2 66.4 72.6 66.2 73.0 66.0 73.4 65.8 73.6 65.6 73.7Z"/>
<path stroke="none" fill="#000" fill-opacity="0.07" d="M123.5 74.4 123.1 74.5 122.7 74.5 122.3 74.5 121.9 74.5 121.5 74.4 121.1 74.4 120.7 74.3 120.3 74.2 119.9 74.1 119.5 73.9 119.3 73.8 118.9 73.6 118.7 73.4 118.5 73.2 118.3 73.0 118.1 72.8 118.0 72.6 117.7 72.2 117.6 71.8 117.5 71.4 117.4 71.0 117.4 70.6 117.5 70.2 117.5 69.9 117.6 69.6 117.7 69.2 117.8 68.8 117.9 68.6 118.1 68.2 118.3 67.8 118.5 67.4 118.7 67.1 118.9 66.8 119.1 66.5 119.3 66.3 119.5 66.0 119.7 65.8 119.9 65.6 120.1 65.4 120.2 65.2 120.5 65.0 120.7 64.8 120.9 64.6 121.1 64.4 121.3 64.2 121.5 64.1 121.7 63.9 121.9 63.8 122.1 63.6 122.4 63.4 122.7 63.2 123.0 63.0 123.3 62.8 123.7 62.6 123.9 62.5 124.3 62.2 124.7 62.0 125.1 61.9 125.5 61.7 125.9 61.5 126.2 61.4 126.5 61.3 126.8 61.2 127.1 61.1 127.4 61.0 127.7 60.9 128.1 60.8 128.5 60.7 128.9 60.7 129.3 60.6 129.7 60.6 130.1 60.5 130.5 60.5 130.9 60.5 131.3 60.5 131.7 60.6 132.1 60.6 132.5 60.7 132.9 60.8 133.3 60.9 133.7 61.0 134.1 61.0 134.5 60.9 134.7 60.7 134.9 60.4 135.0 60.2 135.2 59.8 135.4 59.4 135.5 59.1 135.7 58.8 135.9 58.4 136.1 58.0 136.3 57.7 136.5 57.4 136.7 57.2 136.9 57.0 137.1 56.8 137.3 56.6 137.7 56.4 137.9 56.3 138.3 56.1 138.7 56.1 139.1 56.0 139.5 56.1 139.9 56.2 140.3 56.4 140.6 56.6 140.9 56.8 141.1 57.0 141.3 57.2 141.5 57.4 141.6 57.6 141.9 58.0 142.1 58.3 142.2 58.6 142.4 59.0 142.6 59.4 142.7 59.8 142.8 60.2 142.9 60.5 143.0 60.8 143.0 61.2 143.1 61.6 143.1 62.0 143.2 62.4 143.2 62.8 143.2 63.2 143.2 63.6 143.1 64.0 143.1 64.3 143.1 64.6 143.0 65.0 142.9 65.4 142.8 65.8 142.7 66.2 142.6 66.6 142.4 67.0 142.3 67.3 142.1 67.6 141.9 68.0 141.7 68.3 141.5 68.6 141.3 68.8 141.1 69.0 140.9 69.2 140.7 69.4 140.3 69.6 140.1 69.7 139.7 69.9 139.3 69.9 138.9 70.0 138.5 69.9 138.1 69.8 137.7 69.6 137.4 69.4 137.1 69.2 136.9 69.0 136.7 68.8 136.5 68.6 136.3 68.4 136.2 68.2 136.0 68.0 135.8 67.8 135.6 67.6 135.3 67.5 134.9 67.6 134.6 67.8 134.4 68.0 134.2 68.2 134.0 68.4 133.9 68.6 133.7 68.8 133.5 69.0 133.3 69.2 133.1 69.4 133.0 69.6 132.8 69.8 132.6 70.0 132.3 70.2 132.1 70.4 131.9 70.6 131.7 70.8 131.5 70.9 131.3 71.1 131.1 71.2 130.9 71.4 130.6 71.6 130.3 71.8 130.0 72.0 129.7 72.2 129.3 72.4 129.1 72.5 128.7 72.8 128.3 73.0 127.9 73.1 127.5 73.3 127.1 73.5 126.8 73.6 126.5 73.7 126.2 73.8 125.9 73.9 125.6 74.0 125.3 74.1 124.9 74.2 124.5 74.3 124.1 74.3 123.7 74.4Z"/>
<path stroke="none" fill="#000" fill-opacity="0.06" d="M139.7 67.5 139.3 67.6 138.9 67.6 138.5 67.5 138.2 67.4 137.9 67.2 137.7 67.1 137.5 66.9 137.3 66.6 137.1 66.4 136.9 66.1 136.8 65.8 136.6 65.4 136.4 65.0 136.3 64.6 136.2 64.4 136.2 64.0 136.1 63.6 136.1 63.2 136.1 62.8 136.2 62.4 136.2 62.0 136.3 61.7 136.4 61.4 136.5 61.0 136.6 60.6 136.8 60.2 137.0 59.8 137.3 59.4 137.4 59.2 137.6 59.0 137.9 58.8 138.1 58.6 138.5 58.5 138.9 58.4 139.3 58.4 139.7 58.5 140.1 58.8 140.3 58.9 140.5 59.1 140.7 59.4 140.9 59.6 141.1 60.0 141.3 60.4 141.4 60.8 141.5 61.0 141.6 61.4 141.7 61.8 141.7 62.2 141.8 62.6 141.8 63.0 141.8 63.4 141.7 63.8 141.7 64.2 141.6 64.6 141.5 65.0 141.4 65.2 141.3 65.5 141.2 65.8 141.0 66.2 140.7 66.6 140.6 66.8 140.4 67.0 140.1 67.2 139.9 67.4Z"/>
<path stroke="none" fill="#000" fill-opacity="0.06" d="M124.9 72.8 124.5 72.9 124.1 72.9 123.7 73.0 123.3 73.0 122.9 73.0 122.5 72.9 122.1 72.9 121.7 72.8 121.3 72.7 120.9 72.5 120.5 72.2 120.3 72.1 120.1 71.9 119.9 71.7 119.7 71.4 119.5 71.0 119.4 70.6 119.4 70.2 119.4 69.8 119.4 69.4 119.5 69.1 119.6 68.8 119.7 68.4 119.8 68.2 120.0 67.8 120.2 67.4 120.5 67.0 120.7 66.7 120.9 66.5 121.1 66.2 121.3 66.0 121.5 65.8 121.7 65.6 121.9 65.4 122.1 65.2 122.3 65.0 122.5 64.9 122.7 64.7 122.9 64.6 123.1 64.4 123.4 64.2 123.7 64.0 124.0 63.8 124.3 63.6 124.7 63.4 125.1 63.2 125.5 63.0 125.9 62.9 126.3 62.7 126.6 62.6 126.9 62.5 127.2 62.4 127.5 62.3 127.9 62.2 128.3 62.1 128.7 62.1 129.1 62.0 129.5 62.0 129.9 62.0 130.3 62.0 130.7 62.1 131.1 62.2 131.5 62.3 131.9 62.4 132.1 62.5 132.5 62.7 132.7 62.9 132.9 63.1 133.1 63.3 133.3 63.6 133.4 63.8 133.6 64.2 133.7 64.6 133.7 65.0 133.6 65.4 133.6 65.8 133.5 66.2 133.3 66.6 133.1 67.0 132.9 67.4 132.7 67.7 132.5 68.0 132.3 68.3 132.1 68.5 131.9 68.8 131.7 69.0 131.5 69.2 131.3 69.4 131.1 69.6 130.9 69.8 130.7 70.0 130.5 70.1 130.3 70.3 130.1 70.4 129.9 70.6 129.6 70.8 129.3 71.0 129.0 71.2 128.7 71.4 128.3 71.6 127.9 71.8 127.5 72.0 127.1 72.1 126.7 72.3 126.4 72.4 126.1 72.5 125.8 72.6 125.5 72.7 125.1 72.8Z"/>
<path stroke="none" fill="#000" fill-opacity="0.04" d="M139.3 66.2 138.9 66.3 138.6 66.2 138.3 66.1 138.0 65.8 137.8 65.6 137.5 65.2 137.3 64.8 137.2 64.4 137.1 64.1 137.1 63.8 137.0 63.4 137.0 63.0 137.0 62.6 137.1 62.2 137.1 61.8 137.3 61.4 137.4 61.0 137.7 60.6 137.9 60.3 138.1 60.1 138.5 59.8 138.9 59.7 139.3 59.8 139.7 59.9 140.0 60.2 140.2 60.4 140.5 60.8 140.6 61.2 140.8 61.6 140.9 62.0 140.9 62.4 141.0 62.8 141.0 63.2 140.9 63.6 140.9 63.9 140.8 64.2 140.7 64.6 140.6 65.0 140.3 65.4 140.1 65.7 139.9 65.9 139.5 66.2Z"/>
<path stroke="none" fill="#000" fill-opacity="0.04" d="M124.7 72.0 124.3 72.0 123.9 72.1 123.5 72.1 123.1 72.0 122.7 72.0 122.3 71.8 121.9 71.7 121.5 71.4 121.3 71.3 121.1 71.1 120.9 70.8 120.7 70.4 120.6 70.0 120.6 69.6 120.6 69.2 120.7 68.8 120.8 68.4 120.9 68.1 121.1 67.8 121.3 67.4 121.5 67.1 121.7 66.8 121.9 66.6 122.0 66.4 122.2 66.2 122.4 66.0 122.6 65.8 122.8 65.6 123.1 65.4 123.3 65.2 123.5 65.1 123.9 64.8 124.1 64.6 124.5 64.4 124.7 64.3 125.1 64.1 125.5 63.9 125.9 63.7 126.3 63.5 126.6 63.4 126.9 63.3 127.3 63.2 127.7 63.1 128.1 63.0 128.5 63.0 128.9 62.9 129.3 62.9 129.7 63.0 130.0 63.0 130.3 63.0 130.7 63.2 131.1 63.3 131.5 63.6 131.7 63.7 131.9 63.9 132.1 64.2 132.3 64.6 132.4 65.0 132.4 65.4 132.4 65.8 132.3 66.2 132.2 66.6 132.1 66.9 131.9 67.2 131.7 67.6 131.5 67.9 131.3 68.2 131.1 68.4 131.0 68.6 130.8 68.8 130.6 69.0 130.4 69.2 130.2 69.4 129.9 69.6 129.7 69.8 129.5 69.9 129.1 70.2 128.9 70.4 128.5 70.6 128.3 70.7 127.9 70.9 127.5 71.1 127.1 71.3 126.7 71.5 126.4 71.6 126.1 71.7 125.7 71.8 125.3 71.9 124.9 72.0Z"/>
<path stroke="none" fill="#000" fill-opacity="0.03" d="M139.1 65.1 138.7 65.0 138.4 64.8 138.2 64.6 138.0 64.2 137.9 63.8 137.8 63.4 137.8 63.0 137.8 62.6 137.9 62.2 138.0 61.8 138.2 61.4 138.4 61.2 138.7 61.0 139.1 60.9 139.5 61.1 139.7 61.3 139.9 61.6 140.1 62.0 140.2 62.4 140.2 62.8 140.2 63.2 140.2 63.6 140.1 63.9 140.0 64.2 139.8 64.6 139.6 64.8 139.3 65.0Z"/>
<path stroke="none" fill="#000" fill-opacity="0.03" d="M125.5 71.0 125.1 71.1 124.7 71.1 124.3 71.2 123.9 71.1 123.5 71.1 123.2 71.0 122.9 70.9 122.5 70.7 122.3 70.5 122.1 70.3 121.9 70.0 121.8 69.6 121.7 69.2 121.8 68.8 121.9 68.4 122.0 68.0 122.2 67.6 122.5 67.2 122.7 66.9 122.9 66.6 123.1 66.4 123.3 66.2 123.5 66.0 123.7 65.9 123.9 65.7 124.1 65.5 124.5 65.3 124.9 65.0 125.2 64.8 125.5 64.7 125.9 64.5 126.3 64.3 126.6 64.2 126.9 64.1 127.3 64.0 127.7 63.9 128.1 63.9 128.5 63.8 128.9 63.8 129.3 63.9 129.7 64.0 130.1 64.1 130.5 64.3 130.7 64.5 130.9 64.7 131.1 65.0 131.2 65.4 131.3 65.8 131.2 66.2 131.1 66.6 131.0 67.0 130.8 67.4 130.5 67.8 130.3 68.1 130.1 68.4 129.9 68.6 129.7 68.8 129.5 69.0 129.3 69.1 129.1 69.3 128.9 69.5 128.5 69.7 128.1 70.0 127.8 70.2 127.5 70.3 127.1 70.5 126.7 70.7 126.4 70.8 126.1 70.9 125.7 71.0Z"/>
<path stroke="#cccccc" d="M123.5 74.4 123.1 74.5 122.7 74.5 122.3 74.5 121.9 74.5 121.5 74.4 121.1 74.4 120.7 74.3 120.3 74.2 119.9 74.1 119.5 73.9 119.3 73.8 118.9 73.6 118.7 73.4 118.5 73.2 118.3 73.0 118.1 72.8 118.0 72.6 117.7 72.2 117.6 71.8 117.5 71.4 117.4 71.0 117.4 70.6 117.5 70.2 117.5 69.9 117.6 69.6 117.7 69.2 117.8 68.8 117.9 68.6 118.1 68.2 118.3 67.8 118.5 67.4 118.7 67.1 118.9 66.8 119.1 66.5 119.3 66.3 119.5 66.0 119.7 65.8 119.9 65.6 120.1 65.4 120.2 65.2 120.5 65.0 120.7 64.8 120.9 64.6 121.1 64.4 121.3 64.2 121.5 64.1 121.7 63.9 121.9 63.8 122.1 63.6 122.4 63.4 122.7 63.2 123.0 63.0 123.3 62.8 123.7 62.6 123.9 62.5 124.3 62.2 124.7 62.0 125.1 61.9 125.5 61.7 125.9 61.5 126.2 61.4 126.5 61.3 126.8 61.2 127.1 61.1 127.4 61.0 127.7 60.9 128.1 60.8 128.5 60.7 128.9 60.7 129.3 60.6 129.7 60.6 130.1 60.5 130.5 60.5 130.9 60.5 131.3 60.5 131.7 60.6 132.1 60.6 132.5 60.7 132.9 60.8 133.3 60.9 133.7 61.0 134.1 61.0 134.5 60.9 134.7 60.7 134.9 60.4 135.0 60.2 135.2 59.8 135.4 59.4 135.5 59.1 135.7 58.8 135.9 58.4 136.1 58.0 136.3 57.7 136.5 57.4 136.7 57.2 136.9 57.0 137.1 56.8 137.3 56.6 137.7 56.4 137.9 56.3 138.3 56.1 138.7 56.1 139.1 56.0 139.5 56.1 139.9 56.2 140.3 56.4 140.6 56.6 140.9 56.8 141.1 57.0 141.3 57.2 141.5 57.4 141.6 57.6 141.9 58.0 142.1 58.3 142.2 58.6 142.4 59.0 142.6 59.4 142.7 59.8 142.8 60.2 142.9 60.5 143.0 60.8 143.0 61.2 143.1 61.6 143.1 62.0 143.2 62.4 143.2 62.8 143.2 63.2 143.2 63.6 143.1 64.0 143.1 64.3 143.1 64.6 143.0 65.0 142.9 65.4 142.8 65.8 142.7 66.2 142.6 66.6 142.4 67.0 142.3 67.3 142.1 67.6 141.9 68.0 141.7 68.3 141.5 68.6 141.3 68.8 141.1 69.0 140.9 69.2 140.7 69.4 140.3 69.6 140.1 69.7 139.7 69.9 139.3 69.9 138.9 70.0 138.5 69.9 138.1 69.8 137.7 69.6 137.4 69.4 137.1 69.2 136.9 69.0 136.7 68.8 136.5 68.6 136.3 68.4 136.2 68.2 136.0 68.0 135.8 67.8 135.6 67.6 135.3 67.5 134.9 67.6 134.6 67.8 134.4 68.0 134.2 68.2 134.0 68.4 133.9 68.6 133.7 68.8 133.5 69.0 133.3 69.2 133.1 69.4 133.0 69.6 132.8 69.8 132.6 70.0 132.3 70.2 132.1 70.4 131.9 70.6 131.7 70.8 131.5 70.9 131.3 71.1 131.1 71.2 130.9 71.4 130.6 71.6 130.3 71.8 130.0 72.0 129.7 72.2 129.3 72.4 129.1 72.5 128.7 72.8 128.3 73.0 127.9 73.1 127.5 73.3 127.1 73.5 126.8 73.6 126.5 73.7 126.2 73.8 125.9 73.9 125.6 74.0 125.3 74.1 124.9 74.2 124.5 74.3 124.1 74.3 123.7 74.4Z"/>
<path stroke="#c9c9c9" d="M139.7 67.5 139.3 67.6 138.9 67.6 138.5 67.5 138.2 67.4 137.9 67.2 137.7 67.1 137.5 66.9 137.3 66.6 137.1 66.4 136.9 66.1 136.8 65.8 136.6 65.4 136.4 65.0 136.3 64.6 136.2 64.4 136.2 64.0 136.1 63.6 136.1 63.2 136.1 62.8 136.2 62.4 136.2 62.0 136.3 61.7 136.4 61.4 136.5 61.0 136.6 60.6 136.8 60.2 137.0 59.8 137.3 59.4 137.4 59.2 137.6 59.0 137.9 58.8 138.1 58.6 138.5 58.5 138.9 58.4 139.3 58.4 139.7 58.5 140.1 58.8 140.3 58.9 140.5 59.1 140.7 59.4 140.9 59.6 141.1 60.0 141.3 60.4 141.4 60.8 141.5 61.0 141.6 61.4 141.7 61.8 141.7 62.2 141.8 62.6 141.8 63.0 141.8 63.4 141.7 63.8 141.7 64.2 141.6 64.6 141.5 65.0 141.4 65.2 141.3 65.5 141.2 65.8 141.0 66.2 140.7 66.6 140.6 66.8 140.4 67.0 140.1 67.2 139.9 67.4Z"/>
<path stroke="#c9c9c9" d="M124.9 72.8 124.5 72.9 124.1 72.9 123.7 73.0 123.3 73.0 122.9 73.0 122.5 72.9 122.1 72.9 121.7 72.8 121.3 72.7 120.9 72.5 120.5 72.2 120.3 72.1 120.1 71.9 119.9 71.7 119.7 71.4 119.5 71.0 119.4 70.6 119.4 70.2 119.4 69.8 119.4 69.4 119.5 69.1 119.6 68.8 119.7 68.4 119.8 68.2 120.0 67.8 120.2 67.4 120.5 67.0 120.7 66.7 120.9 66.5 121.1 66.2 121.3 66.0 121.5 65.8 121.7 65.6 121.9 65.4 122.1 65.2 122.3 65.0 122.5 64.9 122.7 64.7 122.9 64.6 123.1 64.4 123.4 64.2 123.7 64.0 124.0 63.8 124.3 63.6 124.7 63.4 125.1 63.2 125.5 63.0 125.9 62.9 126.3 62.7 126.6 62.6 126.9 62.5 127.2 62.4 127.5 62.3 127.9 62.2 128.3 62.1 128.7 62.1 129.1 62.0 129.5 62.0 129.9 62.0 130.3 62.0 130.7 62.1 131.1 62.2 131.5 62.3 131.9 62.4 132.1 62.5 132.5 62.7 132.7 62.9 132.9 63.1 133.1 63.3 133.3 63.6 133.4 63.8 133.6 64.2 133.7 64.6 133.7 65.0 133.6 65.4 133.6 65.8 133.5 66.2 133.3 66.6 133.1 67.0 132.9 67.4 132.7 67.7 132.5 68.0 132.3 68.3 132.1 68.5 131.9 68.8 131.7 69.0 131.5 69.2 131.3 69.4 131.1 69.6 130.9 69.8 130.7 70.0 130.5 70.1 130.3 70.3 130.1 70.4 129.9 70.6 129.6 70.8 129.3 71.0 129.0 71.2 128.7 71.4 128.3 71.6 127.9 71.8 127.5 72.0 127.1 72.1 126.7 72.3 126.4 72.4 126.1 72.5 125.8 72.6 125.5 72.7 125.1 72.8Z"/>
<path stroke="#c7c7c7" d="M139.3 66.2 138.9 66.3 138.6 66.2 138.3 66.1 138.0 65.8 137.8 65.6 137.5 65.2 137.3 64.8 137.2 64.4 137.1 64.1 137.1 63.8 137.0 63.4 137.0 63.0 137.0 62.6 137.1 62.2 137.1 61.8 137.3 61.4 137.4 61.0 137.7 60.6 137.9 60.3 138.1 60.1 138.5 59.8 138.9 59.7 139.3 59.8 139.7 59.9 140.0 60.2 140.2 60.4 140.5 60.8 140.6 61.2 140.8 61.6 140.9 62.0 140.9 62.4 141.0 62.8 141.0 63.2 140.9 63.6 140.9 63.9 140.8 64.2 140.7 64.6 140.6 65.0 140.3 65.4 140.1 65.7 139.9 65.9 139.5 66.2Z"/>
<path stroke="#c7c7c7" d="M124.7 72.0 124.3 72.0 123.9 72.1 123.5 72.1 123.1 72.0 122.7 72.0 122.3 71.8 121.9 71.7 121.5 71.4 121.3 71.3 121.1 71.1 120.9 70.8 120.7 70.4 120.6 70.0 120.6 69.6 120.6 69.2 120.7 68.8 120.8 68.4 120.9 68.1 121.1 67.8 121.3 67.4 121.5 67.1 121.7 66.8 121.9 66.6 122.0 66.4 122.2 66.2 122.4 66.0 122.6 65.8 122.8 65.6 123.1 65.4 123.3 65.2 123.5 65.1 123.9 64.8 124.1 64.6 124.5 64.4 124.7 64.3 125.1 64.1 125.5 63.9 125.9 63.7 126.3 63.5 126.6 63.4 126.9 63.3 127.3 63.2 127.7 63.1 128.1 63.0 128.5 63.0 128.9 62.9 129.3 62.9 129.7 63.0 130.0 63.0 130.3 63.0 130.7 63.2 131.1 63.3 131.5 63.6 131.7 63.7 131.9 63.9 132.1 64.2 132.3 64.6 132.4 65.0 132.4 65.4 132.4 65.8 132.3 66.2 132.2 66.6 132.1 66.9 131.9 67.2 131.7 67.6 131.5 67.9 131.3 68.2 131.1 68.4 131.0 68.6 130.8 68.8 130.6 69.0 130.4 69.2 130.2 69.4 129.9 69.6 129.7 69.8 129.5 69.9 129.1 70.2 128.9 70.4 128.5 70.6 128.3 70.7 127.9 70.9 127.5 71.1 127.1 71.3 126.7 71.5 126.4 71.6 126.1 71.7 125.7 71.8 125.3 71.9 124.9 72.0Z"/>
<path stroke="#c4c4c4" d="M139.1 65.1 138.7 65.0 138.4 64.8 138.2 64.6 138.0 64.2 137.9 63.8 137.8 63.4 137.8 63.0 137.8 62.6 137.9 62.2 138.0 61.8 138.2 61.4 138.4 61.2 138.7 61.0 139.1 60.9 139.5 61.1 139.7 61.3 139.9 61.6 140.1 62.0 140.2 62.4 140.2 62.8 140.2 63.2 140.2 63.6 140.1 63.9 140.0 64.2 139.8 64.6 139.6 64.8 139.3 65.0Z"/>
<path stroke="#c4c4c4" d="M125.5 71.0 125.1 71.1 124.7 71.1 124.3 71.2 123.9 71.1 123.5 71.1 123.2 71.0 122.9 70.9 122.5 70.7 122.3 70.5 122.1 70.3 121.9 70.0 121.8 69.6 121.7 69.2 121.8 68.8 121.9 68.4 122.0 68.0 122.2 67.6 122.5 67.2 122.7 66.9 122.9 66.6 123.1 66.4 123.3 66.2 123.5 66.0 123.7 65.9 123.9 65.7 124.1 65.5 124.5 65.3 124.9 65.0 125.2 64.8 125.5 64.7 125.9 64.5 126.3 64.3 126.6 64.2 126.9 64.1 127.3 64.0 127.7 63.9 128.1 63.9 128.5 63.8 128.9 63.8 129.3 63.9 129.7 64.0 130.1 64.1 130.5 64.3 130.7 64.5 130.9 64.7 131.1 65.0 131.2 65.4 131.3 65.8 131.2 66.2 131.1 66.6 131.0 67.0 130.8 67.4 130.5 67.8 130.3 68.1 130.1 68.4 129.9 68.6 129.7 68.8 129.5 69.0 129.3 69.1 129.1 69.3 128.9 69.5 128.5 69.7 128.1 70.0 127.8 70.2 127.5 70.3 127.1 70.5 126.7 70.7 126.4 70.8 126.1 70.9 125.7 71.0Z"/>
<path stroke="none" fill="#000" fill-opacity="0.06" d="M126.5 59.2 126.1 59.2 125.7 59.2 125.3 59.2 124.9 59.2 124.5 59.1 124.1 59.0 123.7 59.0 123.3 58.8 122.9 58.7 122.6 58.6 122.3 58.5 121.9 58.3 121.5 58.1 121.1 57.8 120.8 57.6 120.6 57.4 120.4 57.2 120.2 57.0 120.0 56.8 119.8 56.6 119.7 56.4 119.5 56.0 119.4 55.8 119.3 55.5 119.2 55.2 119.1 54.8 119.1 54.4 119.2 54.0 119.3 53.6 119.4 53.2 119.5 53.0 119.7 52.6 119.8 52.4 120.0 52.2 120.2 52.0 120.4 51.8 120.6 51.6 120.8 51.4 121.1 51.2 121.3 51.1 121.7 50.8 122.1 50.6 122.5 50.4 122.9 50.3 123.2 50.2 123.5 50.1 123.9 50.0 124.3 49.9 124.7 49.9 125.1 49.8 125.5 49.8 125.9 49.8 126.3 49.8 126.7 49.8 127.1 49.8 127.5 49.9 127.9 50.0 128.3 50.0 128.7 50.2 129.1 50.3 129.4 50.4 129.7 50.5 130.1 50.7 130.5 50.9 130.9 51.2 131.2 51.4 131.4 51.6 131.6 51.8 131.8 52.0 132.0 52.2 132.2 52.4 132.3 52.6 132.5 53.0 132.6 53.2 132.7 53.5 132.8 53.8 132.9 54.2 132.9 54.6 132.8 55.0 132.7 55.4 132.6 55.8 132.5 56.0 132.3 56.4 132.2 56.6 132.0 56.8 131.8 57.0 131.6 57.2 131.4 57.4 131.2 57.6 130.9 57.8 130.7 57.9 130.3 58.2 129.9 58.4 129.5 58.6 129.1 58.7 128.8 58.8 128.5 58.9 128.1 59.0 127.7 59.1 127.3 59.1 126.9 59.2Z"/>
<path stroke="none" fill="#000" fill-opacity="0.05" d="M126.9 57.6 126.5 57.7 126.1 57.7 125.7 57.7 125.3 57.7 124.9 57.6 124.5 57.5 124.1 57.4 123.7 57.3 123.3 57.1 122.9 56.9 122.5 56.6 122.3 56.4 122.1 56.2 121.9 56.0 121.7 55.7 121.5 55.4 121.4 55.0 121.4 54.6 121.4 54.2 121.5 53.8 121.6 53.4 121.9 53.0 122.1 52.8 122.3 52.6 122.5 52.4 122.8 52.2 123.1 52.0 123.5 51.8 123.9 51.7 124.3 51.5 124.7 51.4 125.1 51.4 125.5 51.3 125.9 51.3 126.3 51.3 126.7 51.3 127.1 51.4 127.5 51.5 127.9 51.6 128.3 51.7 128.7 51.9 129.1 52.1 129.5 52.4 129.7 52.6 129.9 52.8 130.1 53.0 130.3 53.3 130.5 53.6 130.6 54.0 130.6 54.4 130.6 54.8 130.5 55.2 130.4 55.6 130.1 56.0 129.9 56.2 129.7 56.4 129.5 56.6 129.2 56.8 128.9 57.0 128.5 57.2 128.1 57.3 127.7 57.5 127.3 57.6Z"/>
<path stroke="none" fill="#000" fill-opacity="0.04" d="M126.9 56.6 126.5 56.7 126.1 56.7 125.7 56.7 125.3 56.7 124.9 56.6 124.5 56.5 124.1 56.3 123.7 56.1 123.5 55.9 123.3 55.7 123.1 55.5 122.9 55.2 122.8 54.8 122.8 54.4 122.8 54.0 123.0 53.6 123.3 53.3 123.5 53.1 123.7 52.9 124.1 52.7 124.5 52.5 124.9 52.4 125.3 52.3 125.7 52.3 126.1 52.3 126.5 52.3 126.9 52.4 127.3 52.5 127.7 52.6 128.1 52.8 128.4 53.0 128.6 53.2 128.8 53.4 129.1 53.8 129.2 54.2 129.2 54.6 129.2 55.0 129.0 55.4 128.7 55.7 128.5 55.9 128.3 56.1 127.9 56.3 127.5 56.5 127.1 56.6Z"/>
<path stroke="#c4c4c4" d="M126.5 59.2 126.1 59.2 125.7 59.2 125.3 59.2 124.9 59.2 124.5 59.1 124.1 59.0 123.7 59.0 123.3 58.8 122.9 58.7 122.6 58.6 122.3 58.5 121.9 58.3 121.5 58.1 121.1 57.8 120.8 57.6 120.6 57.4 120.4 57.2 120.2 57.0 120.0 56.8 119.8 56.6 119.7 56.4 119.5 56.0 119.4 55.8 119.3 55.5 119.2 55.2 119.1 54.8 119.1 54.4 119.2 54.0 119.3 53.6 119.4 53.2 119.5 53.0 119.7 52.6 119.8 52.4 120.0 52.2 120.2 52.0 120.4 51.8 120.6 51.6 120.8 51.4 121.1 51.2 121.3 51.1 121.7 50.8 122.1 50.6 122.5 50.4 122.9 50.3 123.2 50.2 123.5 50.1 123.9 50.0 124.3 49.9 124.7 49.9 125.1 49.8 125.5 49.8 125.9 49.8 126.3 49.8 126.7 49.8 127.1 49.8 127.5 49.9 127.9 50.0 128.3 50.0 128.7 50.2 129.1 50.3 129.4 50.4 129.7 50.5 130.1 50.7 130.5 50.9 130.9 51.2 131.2 51.4 131.4 51.6 131.6 51.8 131.8 52.0 132.0 52.2 132.2 52.4 132.3 52.6 132.5 53.0 132.6 53.2 132.7 53.5 132.8 53.8 132.9 54.2 132.9 54.6 132.8 55.0 132.7 55.4 132.6 55.8 132.5 56.0 132.3 56.4 132.2 56.6 132.0 56.8 131.8 57.0 131.6 57.2 131.4 57.4 131.2 57.6 130.9 57.8 130.7 57.9 130.3 58.2 129.9 58.4 129.5 58.6 129.1 58.7 128.8 58.8 128.5 58.9 128.1 59.0 127.7 59.1 127.3 59.1 126.9 59.2Z"/>
<path stroke="#bcbcbc" d="M126.9 57.6 126.5 57.7 126.1 57.7 125.7 57.7 125.3 57.7 124.9 57.6 124.5 57.5 124.1 57.4 123.7 57.3 123.3 57.1 122.9 56.9 122.5 56.6 122.3 56.4 122.1 56.2 121.9 56.0 121.7 55.7 121.5 55.4 121.4 55.0 121.4 54.6 121.4 54.2 121.5 53.8 121.6 53.4 121.9 53.0 122.1 52.8 122.3 52.6 122.5 52.4 122.8 52.2 123.1 52.0 123.5 51.8 123.9 51.7 124.3 51.5 124.7 51.4 125.1 51.4 125.5 51.3 125.9 51.3 126.3 51.3 126.7 51.3 127.1 51.4 127.5 51.5 127.9 51.6 128.3 51.7 128.7 51.9 129.1 52.1 129.5 52.4 129.7 52.6 129.9 52.8 130.1 53.0 130.3 53.3 130.5 53.6 130.6 54.0 130.6 54.4 130.6 54.8 130.5 55.2 130.4 55.6 130.1 56.0 129.9 56.2 129.7 56.4 129.5 56.6 129.2 56.8 128.9 57.0 128.5 57.2 128.1 57.3 127.7 57.5 127.3 57.6Z"/>
<path stroke="#b4b4b4" d="M126.9 56.6 126.5 56.7 126.1 56.7 125.7 56.7 125.3 56.7 124.9 56.6 124.5 56.5 124.1 56.3 123.7 56.1 123.5 55.9 123.3 55.7 123.1 55.5 122.9 55.2 122.8 54.8 122.8 54.4 122.8 54.0 123.0 53.6 123.3 53.3 123.5 53.1 123.7 52.9 124.1 52.7 124.5 52.5 124.9 52.4 125.3 52.3 125.7 52.3 126.1 52.3 126.5 52.3 126.9 52.4 127.3 52.5 127.7 52.6 128.1 52.8 128.4 53.0 128.6 53.2 128.8 53.4 129.1 53.8 129.2 54.2 129.2 54.6 129.2 55.0 129.0 55.4 128.7 55.7 128.5 55.9 128.3 56.1 127.9 56.3 127.5 56.5 127.1 56.6Z"/>
<path stroke="none" fill="#000" fill-opacity="0.05" d="M133.7 58.6 133.3 58.6 132.9 58.6 132.5 58.6 132.2 58.6 131.9 58.6 131.5 58.5 131.1 58.4 130.7 58.3 130.4 58.2 130.1 58.1 129.7 57.9 129.5 57.8 129.1 57.6 128.8 57.4 128.5 57.2 128.3 57.0 128.1 56.9 127.9 56.7 127.7 56.5 127.5 56.3 127.3 56.0 127.1 55.8 126.9 55.5 126.8 55.2 126.6 54.8 126.4 54.4 126.3 54.0 126.2 53.6 126.2 53.2 126.1 52.8 126.2 52.4 126.2 52.0 126.3 51.6 126.4 51.2 126.5 51.0 126.7 50.6 126.9 50.2 127.1 49.8 127.3 49.6 127.4 49.4 127.6 49.2 127.8 49.0 128.0 48.8 128.2 48.6 128.5 48.4 128.8 48.2 129.1 48.0 129.5 47.8 129.7 47.7 130.1 47.5 130.4 47.4 130.7 47.3 131.1 47.2 131.5 47.1 131.9 47.0 132.2 47.0 132.5 47.0 132.9 47.0 133.3 47.0 133.7 47.0 134.1 47.0 134.5 47.1 134.9 47.2 135.3 47.3 135.6 47.4 135.9 47.5 136.3 47.7 136.5 47.8 136.9 48.0 137.2 48.2 137.5 48.4 137.7 48.6 137.9 48.7 138.1 48.9 138.3 49.1 138.5 49.3 138.7 49.6 138.9 49.8 139.1 50.1 139.2 50.4 139.4 50.8 139.6 51.2 139.7 51.6 139.8 52.0 139.8 52.4 139.9 52.8 139.8 53.2 139.8 53.6 139.7 54.0 139.6 54.4 139.5 54.6 139.3 55.0 139.1 55.4 138.9 55.8 138.7 56.0 138.6 56.2 138.4 56.4 138.2 56.6 138.0 56.8 137.8 57.0 137.5 57.2 137.2 57.4 136.9 57.6 136.5 57.8 136.3 57.9 135.9 58.1 135.6 58.2 135.3 58.3 134.9 58.4 134.5 58.5 134.1 58.6 133.8 58.6Z"/>
<path stroke="none" fill="#000" fill-opacity="0.06" d="M133.7 58.2 133.3 58.2 132.9 58.2 132.5 58.2 132.1 58.2 131.7 58.1 131.3 58.0 130.9 57.9 130.5 57.8 130.1 57.6 129.7 57.5 129.3 57.2 129.0 57.0 128.7 56.8 128.5 56.7 128.3 56.5 128.1 56.3 127.9 56.1 127.7 55.8 127.5 55.6 127.3 55.2 127.2 55.0 127.0 54.6 126.8 54.2 126.7 53.8 126.7 53.4 126.6 53.0 126.6 52.6 126.7 52.2 126.7 51.9 126.8 51.6 126.9 51.2 127.1 50.8 127.3 50.4 127.5 50.0 127.7 49.8 127.8 49.6 128.0 49.4 128.2 49.2 128.4 49.0 128.7 48.8 128.9 48.6 129.3 48.4 129.5 48.3 129.9 48.0 130.3 47.9 130.7 47.7 131.1 47.6 131.5 47.5 131.9 47.4 132.3 47.4 132.7 47.4 133.1 47.4 133.5 47.4 133.9 47.4 134.3 47.5 134.7 47.6 135.1 47.7 135.5 47.8 135.9 48.0 136.3 48.1 136.7 48.4 137.0 48.6 137.3 48.8 137.5 48.9 137.7 49.1 137.9 49.3 138.1 49.5 138.3 49.8 138.5 50.0 138.7 50.4 138.8 50.6 139.0 51.0 139.2 51.4 139.3 51.8 139.3 52.2 139.4 52.6 139.4 53.0 139.3 53.4 139.3 53.7 139.2 54.0 139.1 54.4 138.9 54.8 138.7 55.2 138.5 55.6 138.3 55.8 138.2 56.0 138.0 56.2 137.8 56.4 137.6 56.6 137.3 56.8 137.1 57.0 136.7 57.2 136.5 57.3 136.1 57.6 135.7 57.7 135.3 57.9 134.9 58.0 134.5 58.1 134.1 58.2 133.7 58.2Z"/>
<path stroke="none" fill="#000" fill-opacity="0.06" d="M133.1 57.8 132.7 57.8 132.3 57.8 131.9 57.7 131.5 57.6 131.1 57.5 130.7 57.4 130.3 57.2 129.9 57.0 129.5 56.8 129.2 56.6 128.9 56.4 128.7 56.2 128.5 56.0 128.3 55.8 128.1 55.6 128.0 55.4 127.7 55.0 127.5 54.6 127.4 54.2 127.2 53.8 127.2 53.4 127.1 53.0 127.1 52.6 127.2 52.2 127.2 51.8 127.4 51.4 127.5 51.1 127.6 50.8 127.8 50.4 128.1 50.0 128.3 49.8 128.5 49.6 128.7 49.4 128.9 49.2 129.1 49.1 129.5 48.8 129.7 48.7 130.1 48.4 130.5 48.3 130.9 48.1 131.3 48.0 131.7 47.9 132.1 47.9 132.5 47.8 132.9 47.8 133.3 47.8 133.7 47.8 134.1 47.9 134.5 48.0 134.9 48.1 135.3 48.2 135.7 48.4 136.1 48.6 136.5 48.8 136.8 49.0 137.1 49.2 137.3 49.4 137.5 49.6 137.7 49.8 137.9 50.0 138.0 50.2 138.3 50.6 138.5 51.0 138.6 51.4 138.8 51.8 138.8 52.2 138.9 52.6 138.9 53.0 138.8 53.4 138.8 53.8 138.6 54.2 138.5 54.5 138.4 54.8 138.2 55.2 137.9 55.6 137.7 55.8 137.5 56.0 137.3 56.2 137.1 56.4 136.9 56.5 136.5 56.8 136.3 56.9 135.9 57.2 135.5 57.3 135.1 57.5 134.7 57.6 134.3 57.7 133.9 57.7 133.5 57.8 133.1 57.8Z"/>
<path stroke="none" fill="#000" fill-opacity="0.07" d="M134.1 57.2 133.7 57.3 133.3 57.3 132.9 57.3 132.5 57.3 132.1 57.3 131.8 57.2 131.5 57.1 131.1 57.0 130.7 56.9 130.3 56.7 129.9 56.5 129.5 56.2 129.3 56.0 129.1 55.9 128.9 55.7 128.7 55.5 128.5 55.2 128.4 55.0 128.1 54.6 127.9 54.2 127.8 53.8 127.7 53.4 127.7 53.1 127.7 52.8 127.7 52.5 127.7 52.2 127.8 51.8 127.9 51.5 128.0 51.2 128.2 50.8 128.5 50.4 128.7 50.2 128.8 50.0 129.0 49.8 129.2 49.6 129.5 49.4 129.7 49.3 130.1 49.0 130.5 48.8 130.9 48.6 131.3 48.5 131.7 48.4 132.1 48.3 132.5 48.3 132.9 48.3 133.3 48.3 133.7 48.3 134.1 48.4 134.5 48.5 134.9 48.6 135.3 48.7 135.7 48.9 136.1 49.1 136.5 49.4 136.7 49.6 136.9 49.7 137.1 49.9 137.3 50.1 137.5 50.4 137.6 50.6 137.9 51.0 138.1 51.4 138.2 51.8 138.3 52.2 138.3 52.5 138.3 52.8 138.3 53.1 138.3 53.4 138.2 53.8 138.1 54.1 138.0 54.4 137.8 54.8 137.5 55.2 137.3 55.4 137.2 55.6 137.0 55.8 136.8 56.0 136.5 56.2 136.3 56.3 135.9 56.6 135.5 56.8 135.1 57.0 134.7 57.1 134.3 57.2Z"/>
<path stroke="none" fill="#000" fill-opacity="0.08" d="M134.3 56.6 133.9 56.7 133.5 56.8 133.1 56.8 132.7 56.8 132.3 56.8 131.9 56.7 131.6 56.6 131.3 56.5 131.0 56.4 130.7 56.3 130.3 56.1 129.9 55.8 129.7 55.6 129.5 55.5 129.3 55.3 129.1 55.0 128.9 54.8 128.7 54.4 128.5 54.0 128.4 53.6 128.3 53.2 128.3 52.8 128.3 52.4 128.4 52.0 128.5 51.7 128.6 51.4 128.8 51.0 129.1 50.6 129.3 50.4 129.4 50.2 129.7 50.0 129.9 49.8 130.2 49.6 130.5 49.4 130.9 49.2 131.3 49.1 131.6 49.0 131.9 48.9 132.3 48.8 132.7 48.8 133.1 48.8 133.5 48.8 133.9 48.9 134.3 49.0 134.7 49.1 135.0 49.2 135.3 49.3 135.7 49.5 136.1 49.8 136.3 50.0 136.5 50.1 136.7 50.3 136.9 50.6 137.1 50.8 137.3 51.2 137.5 51.6 137.6 52.0 137.7 52.4 137.7 52.8 137.7 53.2 137.6 53.6 137.5 53.9 137.4 54.2 137.2 54.6 136.9 55.0 136.7 55.2 136.6 55.4 136.3 55.6 136.1 55.8 135.8 56.0 135.5 56.2 135.1 56.4 134.7 56.5 134.4 56.6Z"/>
<path stroke="none" fill="#000" fill-opacity="0.09" d="M134.1 56.0 133.7 56.1 133.3 56.2 132.9 56.2 132.5 56.2 132.1 56.1 131.7 56.0 131.3 55.9 130.9 55.7 130.5 55.4 130.2 55.2 130.0 55.0 129.8 54.8 129.6 54.6 129.5 54.4 129.3 54.0 129.1 53.6 129.1 53.2 129.0 52.8 129.1 52.4 129.1 52.0 129.3 51.6 129.5 51.2 129.6 51.0 129.8 50.8 130.0 50.6 130.2 50.4 130.5 50.2 130.7 50.0 131.1 49.8 131.5 49.7 131.9 49.6 132.3 49.5 132.7 49.4 133.1 49.4 133.5 49.4 133.9 49.5 134.3 49.6 134.7 49.7 135.1 49.9 135.5 50.2 135.8 50.4 136.0 50.6 136.2 50.8 136.4 51.0 136.5 51.2 136.7 51.6 136.9 52.0 136.9 52.4 137.0 52.8 136.9 53.2 136.9 53.6 136.7 54.0 136.5 54.4 136.4 54.6 136.2 54.8 136.0 55.0 135.8 55.2 135.5 55.4 135.3 55.6 134.9 55.8 134.5 55.9Z"/>
<path stroke="none" fill="#fff" fill-opacity="0.75" d="M133.3 54.0 132.9 54.1 132.5 54.0 132.1 53.8 131.9 53.6 131.7 53.4 131.5 53.0 131.5 52.6 131.7 52.2 131.9 52.0 132.1 51.8 132.5 51.6 132.9 51.5 133.3 51.6 133.7 51.7 134.1 52.0 134.3 52.2 134.5 52.6 134.5 53.0 134.3 53.4 134.1 53.6 133.9 53.8 133.5 54.0Z"/>
<path stroke="#b4b4b4" d="M133.7 58.6 133.3 58.6 132.9 58.6 132.5 58.6 132.2 58.6 131.9 58.6 131.5 58.5 131.1 58.4 130.7 58.3 130.4 58.2 130.1 58.1 129.7 57.9 129.5 57.8 129.1 57.6 128.8 57.4 128.5 57.2 128.3 57.0 128.1 56.9 127.9 56.7 127.7 56.5 127.5 56.3 127.3 56.0 127.1 55.8 126.9 55.5 126.8 55.2 126.6 54.8 126.4 54.4 126.3 54.0 126.2 53.6 126.2 53.2 126.1 52.8 126.2 52.4 126.2 52.0 126.3 51.6 126.4 51.2 126.5 51.0 126.7 50.6 126.9 50.2 127.1 49.8 127.3 49.6 127.4 49.4 127.6 49.2 127.8 49.0 128.0 48.8 128.2 48.6 128.5 48.4 128.8 48.2 129.1 48.0 129.5 47.8 129.7 47.7 130.1 47.5 130.4 47.4 130.7 47.3 131.1 47.2 131.5 47.1 131.9 47.0 132.2 47.0 132.5 47.0 132.9 47.0 133.3 47.0 133.7 47.0 134.1 47.0 134.5 47.1 134.9 47.2 135.3 47.3 135.6 47.4 135.9 47.5 136.3 47.7 136.5 47.8 136.9 48.0 137.2 48.2 137.5 48.4 137.7 48.6 137.9 48.7 138.1 48.9 138.3 49.1 138.5 49.3 138.7 49.6 138.9 49.8 139.1 50.1 139.2 50.4 139.4 50.8 139.6 51.2 139.7 51.6 139.8 52.0 139.8 52.4 139.9 52.8 139.8 53.2 139.8 53.6 139.7 54.0 139.6 54.4 139.5 54.6 139.3 55.0 139.1 55.4 138.9 55.8 138.7 56.0 138.6 56.2 138.4 56.4 138.2 56.6 138.0 56.8 137.8 57.0 137.5 57.2 137.2 57.4 136.9 57.6 136.5 57.8 136.3 57.9 135.9 58.1 135.6 58.2 135.3 58.3 134.9 58.4 134.5 58.5 134.1 58.6 133.8 58.6Z"/>
<path stroke="#a3a3a3" d="M133.7 58.2 133.3 58.2 132.9 58.2 132.5 58.2 132.1 58.2 131.7 58.1 131.3 58.0 130.9 57.9 130.5 57.8 130.1 57.6 129.7 57.5 129.3 57.2 129.0 57.0 128.7 56.8 128.5 56.7 128.3 56.5 128.1 56.3 127.9 56.1 127.7 55.8 127.5 55.6 127.3 55.2 127.2 55.0 127.0 54.6 126.8 54.2 126.7 53.8 126.7 53.4 126.6 53.0 126.6 52.6 126.7 52.2 126.7 51.9 126.8 51.6 126.9 51.2 127.1 50.8 127.3 50.4 127.5 50.0 127.7 49.8 127.8 49.6 128.0 49.4 128.2 49.2 128.4 49.0 128.7 48.8 128.9 48.6 129.3 48.4 129.5 48.3 129.9 48.0 130.3 47.9 130.7 47.7 131.1 47.6 131.5 47.5 131.9 47.4 132.3 47.4 132.7 47.4 133.1 47.4 133.5 47.4 133.9 47.4 134.3 47.5 134.7 47.6 135.1 47.7 135.5 47.8 135.9 48.0 136.3 48.1 136.7 48.4 137.0 48.6 137.3 48.8 137.5 48.9 137.7 49.1 137.9 49.3 138.1 49.5 138.3 49.8 138.5 50.0 138.7 50.4 138.8 50.6 139.0 51.0 139.2 51.4 139.3 51.8 139.3 52.2 139.4 52.6 139.4 53.0 139.3 53.4 139.3 53.7 139.2 54.0 139.1 54.4 138.9 54.8 138.7 55.2 138.5 55.6 138.3 55.8 138.2 56.0 138.0 56.2 137.8 56.4 137.6 56.6 137.3 56.8 137.1 57.0 136.7 57.2 136.5 57.3 136.1 57.6 135.7 57.7 135.3 57.9 134.9 58.0 134.5 58.1 134.1 58.2 133.7 58.2Z"/>
<path stroke="#939393" d="M133.1 57.8 132.7 57.8 132.3 57.8 131.9 57.7 131.5 57.6 131.1 57.5 130.7 57.4 130.3 57.2 129.9 57.0 129.5 56.8 129.2 56.6 128.9 56.4 128.7 56.2 128.5 56.0 128.3 55.8 128.1 55.6 128.0 55.4 127.7 55.0 127.5 54.6 127.4 54.2 127.2 53.8 127.2 53.4 127.1 53.0 127.1 52.6 127.2 52.2 127.2 51.8 127.4 51.4 127.5 51.1 127.6 50.8 127.8 50.4 128.1 50.0 128.3 49.8 128.5 49.6 128.7 49.4 128.9 49.2 129.1 49.1 129.5 48.8 129.7 48.7 130.1 48.4 130.5 48.3 130.9 48.1 131.3 48.0 131.7 47.9 132.1 47.9 132.5 47.8 132.9 47.8 133.3 47.8 133.7 47.8 134.1 47.9 134.5 48.0 134.9 48.1 135.3 48.2 135.7 48.4 136.1 48.6 136.5 48.8 136.8 49.0 137.1 49.2 137.3 49.4 137.5 49.6 137.7 49.8 137.9 50.0 138.0 50.2 138.3 50.6 138.5 51.0 138.6 51.4 138.8 51.8 138.8 52.2 138.9 52.6 138.9 53.0 138.8 53.4 138.8 53.8 138.6 54.2 138.5 54.5 138.4 54.8 138.2 55.2 137.9 55.6 137.7 55.8 137.5 56.0 137.3 56.2 137.1 56.4 136.9 56.5 136.5 56.8 136.3 56.9 135.9 57.2 135.5 57.3 135.1 57.5 134.7 57.6 134.3 57.7 133.9 57.7 133.5 57.8 133.1 57.8Z"/>
<path stroke="#828282" d="M134.1 57.2 133.7 57.3 133.3 57.3 132.9 57.3 132.5 57.3 132.1 57.3 131.8 57.2 131.5 57.1 131.1 57.0 130.7 56.9 130.3 56.7 129.9 56.5 129.5 56.2 129.3 56.0 129.1 55.9 128.9 55.7 128.7 55.5 128.5 55.2 128.4 55.0 128.1 54.6 127.9 54.2 127.8 53.8 127.7 53.4 127.7 53.1 127.7 52.8 127.7 52.5 127.7 52.2 127.8 51.8 127.9 51.5 128.0 51.2 128.2 50.8 128.5 50.4 128.7 50.2 128.8 50.0 129.0 49.8 129.2 49.6 129.5 49.4 129.7 49.3 130.1 49.0 130.5 48.8 130.9 48.6 131.3 48.5 131.7 48.4 132.1 48.3 132.5 48.3 132.9 48.3 133.3 48.3 133.7 48.3 134.1 48.4 134.5 48.5 134.9 48.6 135.3 48.7 135.7 48.9 136.1 49.1 136.5 49.4 136.7 49.6 136.9 49.7 137.1 49.9 137.3 50.1 137.5 50.4 137.6 50.6 137.9 51.0 138.1 51.4 138.2 51.8 138.3 52.2 138.3 52.5 138.3 52.8 138.3 53.1 138.3 53.4 138.2 53.8 138.1 54.1 138.0 54.4 137.8 54.8 137.5 55.2 137.3 55.4 137.2 55.6 137.0 55.8 136.8 56.0 136.5 56.2 136.3 56.3 135.9 56.6 135.5 56.8 135.1 57.0 134.7 57.1 134.3 57.2Z"/>
<path stroke="#727272" d="M134.3 56.6 133.9 56.7 133.5 56.8 133.1 56.8 132.7 56.8 132.3 56.8 131.9 56.7 131.6 56.6 131.3 56.5 131.0 56.4 130.7 56.3 130.3 56.1 129.9 55.8 129.7 55.6 129.5 55.5 129.3 55.3 129.1 55.0 128.9 54.8 128.7 54.4 128.5 54.0 128.4 53.6 128.3 53.2 128.3 52.8 128.3 52.4 128.4 52.0 128.5 51.7 128.6 51.4 128.8 51.0 129.1 50.6 129.3 50.4 129.4 50.2 129.7 50.0 129.9 49.8 130.2 49.6 130.5 49.4 130.9 49.2 131.3 49.1 131.6 49.0 131.9 48.9 132.3 48.8 132.7 48.8 133.1 48.8 133.5 48.8 133.9 48.9 134.3 49.0 134.7 49.1 135.0 49.2 135.3 49.3 135.7 49.5 136.1 49.8 136.3 50.0 136.5 50.1 136.7 50.3 136.9 50.6 137.1 50.8 137.3 51.2 137.5 51.6 137.6 52.0 137.7 52.4 137.7 52.8 137.7 53.2 137.6 53.6 137.5 53.9 137.4 54.2 137.2 54.6 136.9 55.0 136.7 55.2 136.6 55.4 136.3 55.6 136.1 55.8 135.8 56.0 135.5 56.2 135.1 56.4 134.7 56.5 134.4 56.6Z"/>
<path stroke="#616161" d="M134.1 56.0 133.7 56.1 133.3 56.2 132.9 56.2 132.5 56.2 132.1 56.1 131.7 56.0 131.3 55.9 130.9 55.7 130.5 55.4 130.2 55.2 130.0 55.0 129.8 54.8 129.6 54.6 129.5 54.4 129.3 54.0 129.1 53.6 129.1 53.2 129.0 52.8 129.1 52.4 129.1 52.0 129.3 51.6 129.5 51.2 129.6 51.0 129.8 50.8 130.0 50.6 130.2 50.4 130.5 50.2 130.7 50.0 131.1 49.8 131.5 49.7 131.9 49.6 132.3 49.5 132.7 49.4 133.1 49.4 133.5 49.4 133.9 49.5 134.3 49.6 134.7 49.7 135.1 49.9 135.5 50.2 135.8 50.4 136.0 50.6 136.2 50.8 136.4 51.0 136.5 51.2 136.7 51.6 136.9 52.0 136.9 52.4 137.0 52.8 136.9 53.2 136.9 53.6 136.7 54.0 136.5 54.4 136.4 54.6 136.2 54.8 136.0 55.0 135.8 55.2 135.5 55.4 135.3 55.6 134.9 55.8 134.5 55.9Z"/>
<path stroke="#515151" d="M133.3 55.4 132.9 55.4 132.6 55.4 132.3 55.4 131.9 55.3 131.5 55.1 131.1 54.9 130.8 54.6 130.6 54.4 130.4 54.2 130.1 53.8 130.0 53.4 129.9 53.0 129.9 52.6 130.0 52.2 130.1 51.9 130.3 51.6 130.5 51.3 130.7 51.1 130.9 50.9 131.3 50.6 131.7 50.4 132.1 50.3 132.5 50.2 132.9 50.2 133.3 50.2 133.7 50.2 134.1 50.3 134.5 50.5 134.9 50.7 135.2 51.0 135.4 51.2 135.6 51.4 135.9 51.8 136.0 52.2 136.1 52.6 136.1 53.0 136.0 53.4 135.9 53.7 135.7 54.0 135.5 54.3 135.3 54.5 135.1 54.7 134.7 55.0 134.3 55.2 133.9 55.3 133.5 55.4Z"/>
<path stroke="#404040" d="M133.7 54.2 133.3 54.3 132.9 54.3 132.5 54.3 132.3 54.2 131.9 54.0 131.7 53.9 131.5 53.7 131.3 53.4 131.2 53.0 131.2 52.6 131.3 52.3 131.5 52.0 131.6 51.8 131.9 51.6 132.1 51.5 132.5 51.3 132.9 51.3 133.3 51.3 133.7 51.4 134.1 51.6 134.3 51.7 134.5 51.9 134.7 52.2 134.8 52.6 134.8 53.0 134.7 53.3 134.5 53.6 134.4 53.8 134.1 54.0 133.9 54.1Z"/>
<path stroke="none" fill="#000" fill-opacity="0.05" d="M142.1 77.4 141.7 77.4 141.3 77.4 140.9 77.4 140.5 77.4 140.1 77.3 139.7 77.2 139.3 77.1 138.9 76.9 138.6 76.8 138.3 76.6 137.9 76.4 137.6 76.2 137.3 76.0 137.1 75.8 136.9 75.6 136.7 75.4 136.5 75.2 136.3 75.0 136.2 74.8 135.9 74.4 135.7 74.0 135.5 73.6 135.4 73.2 135.3 72.8 135.2 72.4 135.2 72.0 135.2 71.6 135.2 71.2 135.2 70.8 135.3 70.4 135.4 70.0 135.5 69.7 135.6 69.4 135.8 69.0 136.1 68.6 136.3 68.3 136.5 68.0 136.7 67.8 136.9 67.6 137.1 67.4 137.3 67.2 137.5 67.1 137.9 66.8 138.2 66.6 138.5 66.5 138.9 66.3 139.3 66.1 139.7 66.0 140.1 65.9 140.5 65.8 140.8 65.8 141.1 65.8 141.5 65.8 141.9 65.8 142.2 65.8 142.5 65.8 142.9 65.9 143.3 66.0 143.7 66.1 144.1 66.3 144.4 66.4 144.7 66.6 145.1 66.8 145.4 67.0 145.7 67.2 145.9 67.4 146.1 67.6 146.3 67.8 146.5 68.0 146.7 68.2 146.8 68.4 147.1 68.8 147.3 69.2 147.5 69.6 147.6 70.0 147.7 70.4 147.8 70.8 147.8 71.2 147.8 71.6 147.8 72.0 147.8 72.4 147.7 72.8 147.6 73.2 147.5 73.5 147.4 73.8 147.2 74.2 146.9 74.6 146.7 74.9 146.5 75.2 146.3 75.4 146.1 75.6 145.9 75.8 145.7 76.0 145.5 76.1 145.1 76.4 144.8 76.6 144.5 76.7 144.1 76.9 143.7 77.1 143.3 77.2 142.9 77.3 142.5 77.4 142.2 77.4Z"/>
<path stroke="none" fill="#000" fill-opacity="0.06" d="M142.1 77.0 141.7 77.0 141.3 77.0 140.9 77.0 140.5 77.0 140.1 76.9 139.8 76.8 139.5 76.7 139.2 76.6 138.9 76.5 138.5 76.3 138.1 76.0 137.8 75.8 137.5 75.6 137.3 75.4 137.1 75.2 136.9 75.0 136.7 74.8 136.6 74.6 136.3 74.2 136.1 73.8 135.9 73.4 135.8 73.0 135.7 72.6 135.6 72.2 135.6 71.8 135.6 71.4 135.6 71.0 135.7 70.6 135.8 70.2 135.9 69.9 136.0 69.6 136.2 69.2 136.4 68.8 136.7 68.4 136.9 68.2 137.1 68.0 137.3 67.8 137.5 67.6 137.7 67.4 138.0 67.2 138.3 67.0 138.7 66.8 139.1 66.6 139.5 66.5 139.8 66.4 140.1 66.3 140.5 66.2 140.8 66.2 141.1 66.2 141.5 66.2 141.9 66.2 142.2 66.2 142.5 66.2 142.9 66.3 143.2 66.4 143.5 66.5 143.8 66.6 144.1 66.7 144.5 66.9 144.9 67.2 145.2 67.4 145.5 67.6 145.7 67.8 145.9 68.0 146.1 68.2 146.3 68.4 146.4 68.6 146.7 69.0 146.9 69.4 147.1 69.8 147.2 70.2 147.3 70.6 147.4 71.0 147.4 71.4 147.4 71.8 147.4 72.2 147.3 72.6 147.2 73.0 147.1 73.3 147.0 73.6 146.8 74.0 146.6 74.4 146.3 74.8 146.1 75.0 145.9 75.2 145.7 75.4 145.5 75.6 145.3 75.8 145.0 76.0 144.7 76.2 144.3 76.4 143.9 76.6 143.5 76.7 143.2 76.8 142.9 76.9 142.5 77.0 142.2 77.0Z"/>
<path stroke="none" fill="#000" fill-opacity="0.06" d="M141.5 76.6 141.1 76.6 140.7 76.5 140.3 76.5 140.0 76.4 139.7 76.3 139.4 76.2 139.1 76.1 138.7 75.9 138.3 75.6 138.0 75.4 137.7 75.2 137.5 75.0 137.3 74.8 137.2 74.6 137.0 74.4 136.7 74.0 136.5 73.6 136.3 73.2 136.2 72.8 136.1 72.4 136.1 72.0 136.1 71.6 136.1 71.2 136.1 70.8 136.2 70.4 136.3 70.1 136.4 69.8 136.6 69.4 136.9 69.0 137.1 68.7 137.3 68.4 137.5 68.2 137.7 68.0 137.9 67.9 138.1 67.7 138.5 67.4 138.9 67.2 139.3 67.0 139.7 66.9 140.0 66.8 140.3 66.7 140.7 66.7 141.1 66.6 141.5 66.6 141.9 66.6 142.3 66.7 142.7 66.7 143.0 66.8 143.3 66.9 143.6 67.0 143.9 67.1 144.3 67.3 144.7 67.6 145.0 67.8 145.3 68.0 145.5 68.2 145.7 68.4 145.8 68.6 146.0 68.8 146.3 69.2 146.5 69.6 146.7 70.0 146.8 70.4 146.9 70.8 146.9 71.2 146.9 71.6 146.9 72.0 146.9 72.4 146.8 72.8 146.7 73.1 146.6 73.4 146.4 73.8 146.1 74.2 145.9 74.5 145.7 74.8 145.5 75.0 145.3 75.2 145.1 75.3 144.9 75.5 144.5 75.8 144.1 76.0 143.7 76.2 143.3 76.3 143.0 76.4 142.7 76.5 142.3 76.5 141.9 76.6 141.5 76.6Z"/>
<path stroke="none" fill="#000" fill-opacity="0.07" d="M142.5 76.0 142.1 76.1 141.7 76.1 141.3 76.1 140.9 76.1 140.5 76.0 140.1 75.9 139.7 75.8 139.3 75.6 138.9 75.4 138.5 75.2 138.3 75.0 138.1 74.9 137.9 74.7 137.7 74.5 137.5 74.2 137.3 74.0 137.1 73.6 136.9 73.2 136.8 72.8 136.7 72.4 136.6 72.0 136.6 71.6 136.6 71.2 136.7 70.8 136.8 70.4 136.9 70.0 137.1 69.6 137.3 69.2 137.5 69.0 137.6 68.8 137.8 68.6 138.0 68.4 138.3 68.2 138.5 68.0 138.8 67.8 139.1 67.6 139.5 67.5 139.9 67.3 140.3 67.2 140.7 67.1 141.1 67.1 141.5 67.1 141.9 67.1 142.3 67.1 142.6 67.2 142.9 67.3 143.3 67.4 143.7 67.6 144.1 67.8 144.5 68.0 144.7 68.2 144.9 68.3 145.1 68.5 145.3 68.7 145.5 69.0 145.7 69.2 145.9 69.6 146.1 70.0 146.2 70.4 146.3 70.8 146.4 71.2 146.4 71.6 146.4 72.0 146.3 72.4 146.2 72.8 146.1 73.2 145.9 73.6 145.7 74.0 145.5 74.2 145.4 74.4 145.2 74.6 145.0 74.8 144.7 75.0 144.5 75.2 144.2 75.4 143.9 75.6 143.5 75.7 143.1 75.9 142.7 76.0Z"/>
<path stroke="none" fill="#000" fill-opacity="0.08" d="M142.7 75.4 142.3 75.5 141.9 75.6 141.5 75.6 141.1 75.6 140.7 75.5 140.3 75.4 139.9 75.3 139.6 75.2 139.3 75.0 138.9 74.8 138.7 74.7 138.5 74.5 138.3 74.3 138.1 74.1 137.9 73.8 137.7 73.6 137.5 73.2 137.4 72.8 137.2 72.4 137.2 72.0 137.2 71.6 137.2 71.2 137.2 70.8 137.4 70.4 137.5 70.1 137.6 69.8 137.9 69.4 138.0 69.2 138.2 69.0 138.4 68.8 138.6 68.6 138.9 68.4 139.2 68.2 139.5 68.1 139.9 67.9 140.2 67.8 140.5 67.7 140.9 67.6 141.3 67.6 141.7 67.6 142.1 67.6 142.5 67.7 142.8 67.8 143.1 67.9 143.4 68.0 143.7 68.2 144.1 68.4 144.3 68.5 144.5 68.7 144.7 68.9 144.9 69.1 145.1 69.4 145.3 69.6 145.5 70.0 145.6 70.4 145.8 70.8 145.8 71.2 145.8 71.6 145.8 72.0 145.8 72.4 145.6 72.8 145.5 73.1 145.4 73.4 145.1 73.8 145.0 74.0 144.8 74.2 144.6 74.4 144.4 74.6 144.1 74.8 143.8 75.0 143.5 75.1 143.1 75.3 142.8 75.4Z"/>
<path stroke="none" fill="#000" fill-opacity="0.09" d="M142.5 74.9 142.1 74.9 141.7 75.0 141.3 75.0 140.9 74.9 140.5 74.9 140.1 74.7 139.8 74.6 139.5 74.4 139.2 74.2 138.9 74.0 138.7 73.8 138.5 73.6 138.3 73.3 138.2 73.0 138.0 72.6 137.9 72.3 137.9 72.0 137.8 71.6 137.9 71.2 137.9 70.9 138.0 70.6 138.1 70.3 138.3 70.0 138.5 69.7 138.7 69.4 138.9 69.2 139.1 69.0 139.4 68.8 139.7 68.7 140.1 68.5 140.5 68.3 140.9 68.3 141.3 68.2 141.7 68.2 142.1 68.3 142.5 68.3 142.9 68.5 143.2 68.6 143.5 68.8 143.8 69.0 144.1 69.2 144.3 69.4 144.5 69.6 144.7 69.9 144.8 70.2 145.0 70.6 145.1 70.9 145.1 71.2 145.2 71.6 145.1 72.0 145.1 72.3 145.0 72.6 144.9 72.9 144.7 73.2 144.5 73.5 144.3 73.8 144.1 74.0 143.9 74.2 143.6 74.4 143.3 74.5 142.9 74.7Z"/>
<path stroke="none" fill="#fff" fill-opacity="0.75" d="M141.9 72.8 141.5 72.9 141.1 72.8 140.7 72.6 140.5 72.5 140.3 72.2 140.1 71.8 140.1 71.4 140.3 71.0 140.5 70.7 140.7 70.6 141.1 70.4 141.5 70.3 141.9 70.4 142.3 70.6 142.5 70.7 142.7 71.0 142.9 71.4 142.9 71.8 142.7 72.2 142.5 72.5 142.3 72.6 141.9 72.8Z"/>
<path stroke="#b4b4b4" d="M142.1 77.4 141.7 77.4 141.3 77.4 140.9 77.4 140.5 77.4 140.1 77.3 139.7 77.2 139.3 77.1 138.9 76.9 138.6 76.8 138.3 76.6 137.9 76.4 137.6 76.2 137.3 76.0 137.1 75.8 136.9 75.6 136.7 75.4 136.5 75.2 136.3 75.0 136.2 74.8 135.9 74.4 135.7 74.0 135.5 73.6 135.4 73.2 135.3 72.8 135.2 72.4 135.2 72.0 135.2 71.6 135.2 71.2 135.2 70.8 135.3 70.4 135.4 70.0 135.5 69.7 135.6 69.4 135.8 69.0 136.1 68.6 136.3 68.3 136.5 68.0 136.7 67.8 136.9 67.6 137.1 67.4 137.3 67.2 137.5 67.1 137.9 66.8 138.2 66.6 138.5 66.5 138.9 66.3 139.3 66.1 139.7 66.0 140.1 65.9 140.5 65.8 140.8 65.8 141.1 65.8 141.5 65.8 141.9 65.8 142.2 65.8 142.5 65.8 142.9 65.9 143.3 66.0 143.7 66.1 144.1 66.3 144.4 66.4 144.7 66.6 145.1 66.8 145.4 67.0 145.7 67.2 145.9 67.4 146.1 67.6 146.3 67.8 146.5 68.0 146.7 68.2 146.8 68.4 147.1 68.8 147.3 69.2 147.5 69.6 147.6 70.0 147.7 70.4 147.8 70.8 147.8 71.2 147.8 71.6 147.8 72.0 147.8 72.4 147.7 72.8 147.6 73.2 147.5 73.5 147.4 73.8 147.2 74.2 146.9 74.6 146.7 74.9 146.5 75.2 146.3 75.4 146.1 75.6 145.9 75.8 145.7 76.0 145.5 76.1 145.1 76.4 144.8 76.6 144.5 76.7 144.1 76.9 143.7 77.1 143.3 77.2 142.9 77.3 142.5 77.4 142.2 77.4Z"/>
<path stroke="#a4a4a4" d="M142.1 77.0 141.7 77.0 141.3 77.0 140.9 77.0 140.5 77.0 140.1 76.9 139.8 76.8 139.5 76.7 139.2 76.6 138.9 76.5 138.5 76.3 138.1 76.0 137.8 75.8 137.5 75.6 137.3 75.4 137.1 75.2 136.9 75.0 136.7 74.8 136.6 74.6 136.3 74.2 136.1 73.8 135.9 73.4 135.8 73.0 135.7 72.6 135.6 72.2 135.6 71.8 135.6 71.4 135.6 71.0 135.7 70.6 135.8 70.2 135.9 69.9 136.0 69.6 136.2 69.2 136.4 68.8 136.7 68.4 136.9 68.2 137.1 68.0 137.3 67.8 137.5 67.6 137.7 67.4 138.0 67.2 138.3 67.0 138.7 66.8 139.1 66.6 139.5 66.5 139.8 66.4 140.1 66.3 140.5 66.2 140.8 66.2 141.1 66.2 141.5 66.2 141.9 66.2 142.2 66.2 142.5 66.2 142.9 66.3 143.2 66.4 143.5 66.5 143.8 66.6 144.1 66.7 144.5 66.9 144.9 67.2 145.2 67.4 145.5 67.6 145.7 67.8 145.9 68.0 146.1 68.2 146.3 68.4 146.4 68.6 146.7 69.0 146.9 69.4 147.1 69.8 147.2 70.2 147.3 70.6 147.4 71.0 147.4 71.4 147.4 71.8 147.4 72.2 147.3 72.6 147.2 73.0 147.1 73.3 147.0 73.6 146.8 74.0 146.6 74.4 146.3 74.8 146.1 75.0 145.9 75.2 145.7 75.4 145.5 75.6 145.3 75.8 145.0 76.0 144.7 76.2 144.3 76.4 143.9 76.6 143.5 76.7 143.2 76.8 142.9 76.9 142.5 77.0 142.2 77.0Z"/>
<path stroke="#949494" d="M141.5 76.6 141.1 76.6 140.7 76.5 140.3 76.5 140.0 76.4 139.7 76.3 139.4 76.2 139.1 76.1 138.7 75.9 138.3 75.6 138.0 75.4 137.7 75.2 137.5 75.0 137.3 74.8 137.2 74.6 137.0 74.4 136.7 74.0 136.5 73.6 136.3 73.2 136.2 72.8 136.1 72.4 136.1 72.0 136.1 71.6 136.1 71.2 136.1 70.8 136.2 70.4 136.3 70.1 136.4 69.8 136.6 69.4 136.9 69.0 137.1 68.7 137.3 68.4 137.5 68.2 137.7 68.0 137.9 67.9 138.1 67.7 138.5 67.4 138.9 67.2 139.3 67.0 139.7 66.9 140.0 66.8 140.3 66.7 140.7 66.7 141.1 66.6 141.5 66.6 141.9 66.6 142.3 66.7 142.7 66.7 143.0 66.8 143.3 66.9 143.6 67.0 143.9 67.1 144.3 67.3 144.7 67.6 145.0 67.8 145.3 68.0 145.5 68.2 145.7 68.4 145.8 68.6 146.0 68.8 146.3 69.2 146.5 69.6 146.7 70.0 146.8 70.4 146.9 70.8 146.9 71.2 146.9 71.6 146.9 72.0 146.9 72.4 146.8 72.8 146.7 73.1 146.6 73.4 146.4 73.8 146.1 74.2 145.9 74.5 145.7 74.8 145.5 75.0 145.3 75.2 145.1 75.3 144.9 75.5 144.5 75.8 144.1 76.0 143.7 76.2 143.3 76.3 143.0 76.4 142.7 76.5 142.3 76.5 141.9 76.6 141.5 76.6Z"/>
<path stroke="#848484" d="M142.5 76.0 142.1 76.1 141.7 76.1 141.3 76.1 140.9 76.1 140.5 76.0 140.1 75.9 139.7 75.8 139.3 75.6 138.9 75.4 138.5 75.2 138.3 75.0 138.1 74.9 137.9 74.7 137.7 74.5 137.5 74.2 137.3 74.0 137.1 73.6 136.9 73.2 136.8 72.8 136.7 72.4 136.6 72.0 136.6 71.6 136.6 71.2 136.7 70.8 136.8 70.4 136.9 70.0 137.1 69.6 137.3 69.2 137.5 69.0 137.6 68.8 137.8 68.6 138.0 68.4 138.3 68.2 138.5 68.0 138.8 67.8 139.1 67.6 139.5 67.5 139.9 67.3 140.3 67.2 140.7 67.1 141.1 67.1 141.5 67.1 141.9 67.1 142.3 67.1 142.6 67.2 142.9 67.3 143.3 67.4 143.7 67.6 144.1 67.8 144.5 68.0 144.7 68.2 144.9 68.3 145.1 68.5 145.3 68.7 145.5 69.0 145.7 69.2 145.9 69.6 146.1 70.0 146.2 70.4 146.3 70.8 146.4 71.2 146.4 71.6 146.4 72.0 146.3 72.4 146.2 72.8 146.1 73.2 145.9 73.6 145.7 74.0 145.5 74.2 145.4 74.4 145.2 74.6 145.0 74.8 144.7 75.0 144.5 75.2 144.2 75.4 143.9 75.6 143.5 75.7 143.1 75.9 142.7 76.0Z"/>
<path stroke="#747474" d="M142.7 75.4 142.3 75.5 141.9 75.6 141.5 75.6 141.1 75.6 140.7 75.5 140.3 75.4 139.9 75.3 139.6 75.2 139.3 75.0 138.9 74.8 138.7 74.7 138.5 74.5 138.3 74.3 138.1 74.1 137.9 73.8 137.7 73.6 137.5 73.2 137.4 72.8 137.2 72.4 137.2 72.0 137.2 71.6 137.2 71.2 137.2 70.8 137.4 70.4 137.5 70.1 137.6 69.8 137.9 69.4 138.0 69.2 138.2 69.0 138.4 68.8 138.6 68.6 138.9 68.4 139.2 68.2 139.5 68.1 139.9 67.9 140.2 67.8 140.5 67.7 140.9 67.6 141.3 67.6 141.7 67.6 142.1 67.6 142.5 67.7 142.8 67.8 143.1 67.9 143.4 68.0 143.7 68.2 144.1 68.4 144.3 68.5 144.5 68.7 144.7 68.9 144.9 69.1 145.1 69.4 145.3 69.6 145.5 70.0 145.6 70.4 145.8 70.8 145.8 71.2 145.8 71.6 145.8 72.0 145.8 72.4 145.6 72.8 145.5 73.1 145.4 73.4 145.1 73.8 145.0 74.0 144.8 74.2 144.6 74.4 144.4 74.6 144.1 74.8 143.8 75.0 143.5 75.1 143.1 75.3 142.8 75.4Z"/>
<path stroke="#646464" d="M142.5 74.9 142.1 74.9 141.7 75.0 141.3 75.0 140.9 74.9 140.5 74.9 140.1 74.7 139.8 74.6 139.5 74.4 139.2 74.2 138.9 74.0 138.7 73.8 138.5 73.6 138.3 73.3 138.2 73.0 138.0 72.6 137.9 72.3 137.9 72.0 137.8 71.6 137.9 71.2 137.9 70.9 138.0 70.6 138.1 70.3 138.3 70.0 138.5 69.7 138.7 69.4 138.9 69.2 139.1 69.0 139.4 68.8 139.7 68.7 140.1 68.5 140.5 68.3 140.9 68.3 141.3 68.2 141.7 68.2 142.1 68.3 142.5 68.3 142.9 68.5 143.2 68.6 143.5 68.8 143.8 69.0 144.1 69.2 144.3 69.4 144.5 69.6 144.7 69.9 144.8 70.2 145.0 70.6 145.1 70.9 145.1 71.2 145.2 71.6 145.1 72.0 145.1 72.3 145.0 72.6 144.9 72.9 144.7 73.2 144.5 73.5 144.3 73.8 144.1 74.0 143.9 74.2 143.6 74.4 143.3 74.5 142.9 74.7Z"/>
<path stroke="#545454" d="M141.7 74.2 141.3 74.2 140.9 74.2 140.5 74.1 140.1 73.9 139.7 73.6 139.5 73.5 139.3 73.3 139.1 73.0 139.0 72.8 138.8 72.4 138.7 72.1 138.7 71.8 138.7 71.4 138.7 71.1 138.8 70.8 138.9 70.5 139.1 70.2 139.2 70.0 139.4 69.8 139.7 69.6 139.9 69.4 140.3 69.2 140.7 69.1 141.1 69.0 141.5 69.0 141.9 69.0 142.3 69.1 142.7 69.2 142.9 69.3 143.3 69.6 143.5 69.7 143.7 69.9 143.9 70.2 144.0 70.4 144.2 70.8 144.3 71.1 144.3 71.4 144.3 71.8 144.3 72.1 144.2 72.4 144.1 72.7 143.9 73.0 143.8 73.2 143.6 73.4 143.3 73.6 143.1 73.8 142.7 74.0 142.3 74.1 141.9 74.2Z"/>
<path stroke="#444444" d="M142.1 73.0 141.7 73.1 141.3 73.1 140.9 73.0 140.5 72.8 140.3 72.7 140.1 72.4 140.0 72.2 139.8 71.8 139.8 71.4 140.0 71.0 140.1 70.8 140.3 70.5 140.5 70.4 140.8 70.2 141.1 70.1 141.5 70.1 141.9 70.1 142.2 70.2 142.5 70.4 142.7 70.5 142.9 70.8 143.0 71.0 143.2 71.4 143.2 71.8 143.0 72.2 142.9 72.4 142.7 72.7 142.5 72.8 142.2 73.0Z"/>
<path stroke="none" fill="#000" fill-opacity="0.06" d="M65.4 146.0 65.0 146.0 64.6 146.1 64.2 146.1 63.8 146.1 63.4 146.1 63.0 146.0 62.6 146.0 62.2 146.0 61.8 145.9 61.4 145.8 61.0 145.7 60.6 145.6 60.2 145.5 60.0 145.4 59.6 145.3 59.2 145.1 58.8 144.8 58.5 144.6 58.2 144.4 58.0 144.2 57.9 144.0 57.6 143.6 57.5 143.2 57.5 142.8 57.6 142.5 57.7 142.2 58.0 141.8 58.2 141.6 58.4 141.5 58.6 141.3 59.0 141.0 59.4 140.8 59.8 140.7 60.2 140.5 60.5 140.4 60.8 140.3 61.2 140.2 61.6 140.1 62.0 140.1 62.4 140.0 62.8 140.0 63.2 139.9 63.6 139.9 64.0 139.9 64.4 139.9 64.8 139.9 65.2 140.0 65.6 140.0 66.0 140.1 66.4 140.1 66.7 140.2 67.0 140.3 67.4 140.4 67.8 140.5 68.0 140.6 68.4 140.7 68.8 140.9 69.2 141.2 69.5 141.4 69.8 141.6 70.0 141.8 70.1 142.0 70.4 142.4 70.5 142.8 70.5 143.2 70.4 143.5 70.3 143.8 70.0 144.2 69.8 144.4 69.6 144.5 69.4 144.7 69.0 145.0 68.6 145.2 68.2 145.3 67.8 145.5 67.5 145.6 67.2 145.7 66.8 145.8 66.4 145.9 66.0 145.9 65.6 146.0Z"/>
<path stroke="none" fill="#000" fill-opacity="0.03" d="M65.2 144.8 64.8 144.9 64.4 144.9 64.0 144.9 63.6 144.9 63.2 144.9 62.8 144.8 62.4 144.8 62.0 144.7 61.6 144.5 61.3 144.4 61.0 144.3 60.6 144.0 60.4 143.9 60.2 143.6 60.1 143.4 60.0 143.0 60.1 142.6 60.2 142.4 60.4 142.1 60.6 142.0 60.9 141.8 61.2 141.6 61.6 141.5 62.0 141.3 62.4 141.2 62.8 141.2 63.2 141.1 63.6 141.1 64.0 141.1 64.4 141.1 64.8 141.1 65.2 141.2 65.6 141.2 66.0 141.3 66.4 141.5 66.7 141.6 67.0 141.7 67.4 142.0 67.6 142.1 67.8 142.4 67.9 142.6 68.0 143.0 67.9 143.4 67.8 143.6 67.6 143.9 67.4 144.0 67.1 144.2 66.8 144.4 66.4 144.5 66.0 144.7 65.6 144.8Z"/>
<path stroke="#d8d8d8" d="M65.4 146.0 65.0 146.0 64.6 146.1 64.2 146.1 63.8 146.1 63.4 146.1 63.0 146.0 62.6 146.0 62.2 146.0 61.8 145.9 61.4 145.8 61.0 145.7 60.6 145.6 60.2 145.5 60.0 145.4 59.6 145.3 59.2 145.1 58.8 144.8 58.5 144.6 58.2 144.4 58.0 144.2 57.9 144.0 57.6 143.6 57.5 143.2 57.5 142.8 57.6 142.5 57.7 142.2 58.0 141.8 58.2 141.6 58.4 141.5 58.6 141.3 59.0 141.0 59.4 140.8 59.8 140.7 60.2 140.5 60.5 140.4 60.8 140.3 61.2 140.2 61.6 140.1 62.0 140.1 62.4 140.0 62.8 140.0 63.2 139.9 63.6 139.9 64.0 139.9 64.4 139.9 64.8 139.9 65.2 140.0 65.6 140.0 66.0 140.1 66.4 140.1 66.7 140.2 67.0 140.3 67.4 140.4 67.8 140.5 68.0 140.6 68.4 140.7 68.8 140.9 69.2 141.2 69.5 141.4 69.8 141.6 70.0 141.8 70.1 142.0 70.4 142.4 70.5 142.8 70.5 143.2 70.4 143.5 70.3 143.8 70.0 144.2 69.8 144.4 69.6 144.5 69.4 144.7 69.0 145.0 68.6 145.2 68.2 145.3 67.8 145.5 67.5 145.6 67.2 145.7 66.8 145.8 66.4 145.9 66.0 145.9 65.6 146.0Z"/>
<path stroke="#d4d4d4" d="M65.2 144.8 64.8 144.9 64.4 144.9 64.0 144.9 63.6 144.9 63.2 144.9 62.8 144.8 62.4 144.8 62.0 144.7 61.6 144.5 61.3 144.4 61.0 144.3 60.6 144.0 60.4 143.9 60.2 143.6 60.1 143.4 60.0 143.0 60.1 142.6 60.2 142.4 60.4 142.1 60.6 142.0 60.9 141.8 61.2 141.6 61.6 141.5 62.0 141.3 62.4 141.2 62.8 141.2 63.2 141.1 63.6 141.1 64.0 141.1 64.4 141.1 64.8 141.1 65.2 141.2 65.6 141.2 66.0 141.3 66.4 141.5 66.7 141.6 67.0 141.7 67.4 142.0 67.6 142.1 67.8 142.4 67.9 142.6 68.0 143.0 67.9 143.4 67.8 143.6 67.6 143.9 67.4 144.0 67.1 144.2 66.8 144.4 66.4 144.5 66.0 144.7 65.6 144.8Z"/>
<path stroke="none" fill="#000" fill-opacity="0.1" d="M54.4 158.0 54.0 158.1 53.6 158.1 53.2 158.1 52.8 158.1 52.4 158.0 52.0 157.9 51.7 157.8 51.4 157.7 51.0 157.4 50.7 157.2 50.4 157.0 50.2 156.8 50.0 156.6 49.8 156.4 49.6 156.2 49.5 156.0 49.2 155.6 49.0 155.2 48.8 154.8 48.7 154.4 48.6 154.1 48.5 153.8 48.5 153.4 48.4 153.0 48.4 152.6 48.4 152.2 48.5 151.8 48.5 151.4 48.6 151.1 48.7 150.8 48.8 150.5 48.9 150.2 49.1 149.8 49.3 149.4 49.6 149.0 49.8 148.8 50.0 148.6 50.2 148.4 50.4 148.2 50.6 148.0 50.9 147.8 51.2 147.6 51.6 147.5 52.0 147.3 52.4 147.2 52.8 147.1 53.2 147.1 53.6 147.1 54.0 147.1 54.4 147.2 54.8 147.3 55.1 147.4 55.4 147.5 55.8 147.8 56.1 148.0 56.4 148.2 56.6 148.4 56.8 148.6 57.0 148.8 57.2 149.0 57.3 149.2 57.6 149.6 57.8 150.0 58.0 150.4 58.1 150.8 58.2 151.1 58.3 151.4 58.3 151.8 58.4 152.2 58.4 152.6 58.4 153.0 58.3 153.4 58.3 153.8 58.2 154.1 58.1 154.4 58.0 154.7 57.9 155.0 57.7 155.4 57.5 155.8 57.2 156.2 57.0 156.4 56.8 156.6 56.6 156.8 56.4 157.0 56.2 157.2 55.9 157.4 55.6 157.6 55.2 157.7 54.8 157.9 54.4 158.0Z"/>
<path stroke="none" fill="#000" fill-opacity="0.08" d="M54.0 156.8 53.6 156.9 53.2 156.9 52.8 156.8 52.4 156.7 52.1 156.6 51.8 156.5 51.4 156.2 51.1 156.0 50.9 155.8 50.7 155.6 50.5 155.4 50.2 155.0 50.0 154.6 49.8 154.2 49.7 153.8 49.6 153.4 49.6 153.0 49.6 152.6 49.6 152.2 49.6 151.9 49.7 151.6 49.8 151.2 49.9 150.8 50.1 150.4 50.4 150.0 50.6 149.7 50.8 149.5 51.0 149.3 51.2 149.1 51.6 148.8 52.0 148.6 52.4 148.5 52.8 148.4 53.2 148.3 53.6 148.3 54.0 148.4 54.4 148.5 54.7 148.6 55.0 148.7 55.4 149.0 55.7 149.2 55.9 149.4 56.1 149.6 56.3 149.8 56.6 150.2 56.8 150.6 57.0 151.0 57.1 151.4 57.2 151.8 57.2 152.2 57.2 152.6 57.2 153.0 57.2 153.3 57.1 153.6 57.0 154.0 56.9 154.4 56.7 154.8 56.4 155.2 56.2 155.5 56.0 155.7 55.8 155.9 55.6 156.1 55.2 156.4 54.8 156.6 54.4 156.7 54.0 156.8Z"/>
<path stroke="none" fill="#000" fill-opacity="0.07" d="M54.0 156.0 53.6 156.1 53.2 156.1 52.8 156.0 52.4 155.9 52.1 155.8 51.8 155.6 51.5 155.4 51.3 155.2 51.1 155.0 50.9 154.8 50.8 154.6 50.6 154.2 50.4 153.8 50.3 153.4 50.3 153.0 50.2 152.6 50.3 152.2 50.3 151.8 50.4 151.5 50.5 151.2 50.7 150.8 50.9 150.4 51.1 150.2 51.3 150.0 51.5 149.8 51.8 149.6 52.0 149.5 52.4 149.3 52.7 149.2 53.0 149.1 53.4 149.1 53.8 149.1 54.1 149.2 54.4 149.3 54.7 149.4 55.0 149.6 55.3 149.8 55.5 150.0 55.7 150.2 55.9 150.4 56.0 150.6 56.2 151.0 56.4 151.4 56.5 151.8 56.5 152.2 56.6 152.6 56.5 153.0 56.5 153.4 56.4 153.7 56.3 154.0 56.1 154.4 55.9 154.8 55.7 155.0 55.5 155.2 55.3 155.4 55.0 155.6 54.8 155.7 54.4 155.9 54.1 156.0Z"/>
<path stroke="none" fill="#000" fill-opacity="0.05" d="M54.2 155.2 53.8 155.3 53.4 155.4 53.0 155.3 52.6 155.2 52.2 155.0 51.9 154.8 51.7 154.6 51.5 154.4 51.2 154.0 51.1 153.6 51.0 153.2 50.9 152.8 50.9 152.4 51.0 152.0 51.1 151.6 51.2 151.3 51.4 151.0 51.6 150.7 51.8 150.5 52.0 150.3 52.4 150.1 52.8 149.9 53.2 149.8 53.6 149.8 54.0 149.9 54.3 150.0 54.6 150.2 54.9 150.4 55.1 150.6 55.3 150.8 55.6 151.2 55.7 151.6 55.8 152.0 55.9 152.4 55.9 152.8 55.8 153.2 55.7 153.6 55.6 153.9 55.4 154.2 55.2 154.5 55.0 154.7 54.8 154.9 54.4 155.1Z"/>
<path stroke="#c8c8c8" d="M54.4 158.0 54.0 158.1 53.6 158.1 53.2 158.1 52.8 158.1 52.4 158.0 52.0 157.9 51.7 157.8 51.4 157.7 51.0 157.4 50.7 157.2 50.4 157.0 50.2 156.8 50.0 156.6 49.8 156.4 49.6 156.2 49.5 156.0 49.2 155.6 49.0 155.2 48.8 154.8 48.7 154.4 48.6 154.1 48.5 153.8 48.5 153.4 48.4 153.0 48.4 152.6 48.4 152.2 48.5 151.8 48.5 151.4 48.6 151.1 48.7 150.8 48.8 150.5 48.9 150.2 49.1 149.8 49.3 149.4 49.6 149.0 49.8 148.8 50.0 148.6 50.2 148.4 50.4 148.2 50.6 148.0 50.9 147.8 51.2 147.6 51.6 147.5 52.0 147.3 52.4 147.2 52.8 147.1 53.2 147.1 53.6 147.1 54.0 147.1 54.4 147.2 54.8 147.3 55.1 147.4 55.4 147.5 55.8 147.8 56.1 148.0 56.4 148.2 56.6 148.4 56.8 148.6 57.0 148.8 57.2 149.0 57.3 149.2 57.6 149.6 57.8 150.0 58.0 150.4 58.1 150.8 58.2 151.1 58.3 151.4 58.3 151.8 58.4 152.2 58.4 152.6 58.4 153.0 58.3 153.4 58.3 153.8 58.2 154.1 58.1 154.4 58.0 154.7 57.9 155.0 57.7 155.4 57.5 155.8 57.2 156.2 57.0 156.4 56.8 156.6 56.6 156.8 56.4 157.0 56.2 157.2 55.9 157.4 55.6 157.6 55.2 157.7 54.8 157.9 54.4 158.0Z"/>
<path stroke="#c5c5c5" d="M54.0 156.8 53.6 156.9 53.2 156.9 52.8 156.8 52.4 156.7 52.1 156.6 51.8 156.5 51.4 156.2 51.1 156.0 50.9 155.8 50.7 155.6 50.5 155.4 50.2 155.0 50.0 154.6 49.8 154.2 49.7 153.8 49.6 153.4 49.6 153.0 49.6 152.6 49.6 152.2 49.6 151.9 49.7 151.6 49.8 151.2 49.9 150.8 50.1 150.4 50.4 150.0 50.6 149.7 50.8 149.5 51.0 149.3 51.2 149.1 51.6 148.8 52.0 148.6 52.4 148.5 52.8 148.4 53.2 148.3 53.6 148.3 54.0 148.4 54.4 148.5 54.7 148.6 55.0 148.7 55.4 149.0 55.7 149.2 55.9 149.4 56.1 149.6 56.3 149.8 56.6 150.2 56.8 150.6 57.0 151.0 57.1 151.4 57.2 151.8 57.2 152.2 57.2 152.6 57.2 153.0 57.2 153.3 57.1 153.6 57.0 154.0 56.9 154.4 56.7 154.8 56.4 155.2 56.2 155.5 56.0 155.7 55.8 155.9 55.6 156.1 55.2 156.4 54.8 156.6 54.4 156.7 54.0 156.8Z"/>
<path stroke="#c3c3c3" d="M54.0 156.0 53.6 156.1 53.2 156.1 52.8 156.0 52.4 155.9 52.1 155.8 51.8 155.6 51.5 155.4 51.3 155.2 51.1 155.0 50.9 154.8 50.8 154.6 50.6 154.2 50.4 153.8 50.3 153.4 50.3 153.0 50.2 152.6 50.3 152.2 50.3 151.8 50.4 151.5 50.5 151.2 50.7 150.8 50.9 150.4 51.1 150.2 51.3 150.0 51.5 149.8 51.8 149.6 52.0 149.5 52.4 149.3 52.7 149.2 53.0 149.1 53.4 149.1 53.8 149.1 54.1 149.2 54.4 149.3 54.7 149.4 55.0 149.6 55.3 149.8 55.5 150.0 55.7 150.2 55.9 150.4 56.0 150.6 56.2 151.0 56.4 151.4 56.5 151.8 56.5 152.2 56.6 152.6 56.5 153.0 56.5 153.4 56.4 153.7 56.3 154.0 56.1 154.4 55.9 154.8 55.7 155.0 55.5 155.2 55.3 155.4 55.0 155.6 54.8 155.7 54.4 155.9 54.1 156.0Z"/>
<path stroke="#c0c0c0" d="M54.2 155.2 53.8 155.3 53.4 155.4 53.0 155.3 52.6 155.2 52.2 155.0 51.9 154.8 51.7 154.6 51.5 154.4 51.2 154.0 51.1 153.6 51.0 153.2 50.9 152.8 50.9 152.4 51.0 152.0 51.1 151.6 51.2 151.3 51.4 151.0 51.6 150.7 51.8 150.5 52.0 150.3 52.4 150.1 52.8 149.9 53.2 149.8 53.6 149.8 54.0 149.9 54.3 150.0 54.6 150.2 54.9 150.4 55.1 150.6 55.3 150.8 55.6 151.2 55.7 151.6 55.8 152.0 55.9 152.4 55.9 152.8 55.8 153.2 55.7 153.6 55.6 153.9 55.4 154.2 55.2 154.5 55.0 154.7 54.8 154.9 54.4 155.1Z"/>
<path stroke="#b8b8b8" d="M54.6 146.4 54.2 146.4 53.8 146.4 53.4 146.4 53.0 146.4 52.6 146.3 52.2 146.1 51.8 146.0 51.6 145.9 51.2 145.7 50.8 145.4 50.6 145.2 50.4 145.0 50.2 144.8 50.0 144.6 49.8 144.2 49.6 143.8 49.5 143.4 49.4 143.0 49.3 142.6 49.3 142.2 49.4 141.8 49.5 141.4 49.7 141.0 49.9 140.6 50.2 140.2 50.4 140.0 50.6 139.8 50.8 139.6 51.0 139.5 51.4 139.2 51.8 139.0 52.2 138.9 52.6 138.7 53.0 138.6 53.3 138.6 53.6 138.6 54.0 138.5 54.4 138.6 54.7 138.6 55.0 138.6 55.4 138.7 55.8 138.9 56.2 139.0 56.4 139.1 56.8 139.3 57.2 139.6 57.4 139.8 57.6 140.0 57.8 140.2 58.0 140.4 58.2 140.8 58.4 141.2 58.5 141.6 58.6 142.0 58.7 142.4 58.7 142.8 58.6 143.2 58.5 143.6 58.3 144.0 58.1 144.4 57.8 144.8 57.6 145.0 57.4 145.2 57.2 145.4 57.0 145.5 56.6 145.8 56.2 146.0 55.8 146.1 55.4 146.3 55.0 146.4 54.7 146.4Z"/>
<path stroke="#b4b4b4" d="M54.6 145.2 54.2 145.3 53.8 145.3 53.4 145.2 53.0 145.2 52.6 145.0 52.2 144.8 51.8 144.6 51.6 144.4 51.4 144.2 51.2 144.0 51.0 143.6 50.9 143.4 50.8 143.1 50.7 142.8 50.7 142.4 50.8 142.0 50.9 141.6 51.0 141.4 51.2 141.0 51.4 140.8 51.6 140.6 51.8 140.4 52.2 140.2 52.4 140.1 52.8 139.9 53.2 139.8 53.6 139.7 54.0 139.7 54.4 139.7 54.8 139.8 55.2 139.9 55.4 140.0 55.8 140.2 56.2 140.4 56.4 140.6 56.6 140.8 56.8 141.0 57.0 141.4 57.1 141.6 57.2 141.9 57.3 142.2 57.3 142.6 57.2 143.0 57.1 143.4 57.0 143.6 56.8 144.0 56.6 144.2 56.4 144.4 56.2 144.6 55.8 144.8 55.6 144.9 55.2 145.1 54.8 145.2Z"/>
<path stroke="#b0b0b0" d="M54.8 144.2 54.4 144.3 54.0 144.4 53.6 144.3 53.2 144.2 52.8 144.1 52.4 143.8 52.2 143.6 52.1 143.4 51.9 143.0 51.8 142.6 51.8 142.2 52.0 141.8 52.2 141.4 52.4 141.2 52.6 141.1 53.0 140.8 53.4 140.7 53.8 140.6 54.2 140.6 54.6 140.7 54.9 140.8 55.2 140.9 55.6 141.2 55.8 141.4 55.9 141.6 56.1 142.0 56.2 142.4 56.2 142.8 56.0 143.2 55.8 143.6 55.6 143.8 55.4 143.9 55.0 144.2Z"/>
<path stroke="none" fill="#000" fill-opacity="0.05" d="M65.0 161.4 64.6 161.4 64.2 161.4 63.8 161.3 63.4 161.2 63.0 161.1 62.6 160.9 62.2 160.7 61.8 160.4 61.6 160.3 61.4 160.1 61.2 159.9 61.0 159.7 60.8 159.5 60.6 159.3 60.4 159.0 60.2 158.8 60.0 158.4 59.9 158.2 59.7 157.8 59.5 157.4 59.3 157.0 59.2 156.7 59.1 156.4 59.0 156.1 58.9 155.8 58.8 155.4 58.8 155.0 58.7 154.6 58.6 154.2 58.6 153.8 58.6 153.4 58.6 153.0 58.6 152.6 58.6 152.2 58.7 151.8 58.8 151.4 58.8 151.0 58.9 150.6 59.0 150.3 59.1 150.0 59.2 149.7 59.3 149.4 59.4 149.2 59.6 148.8 59.8 148.4 60.0 148.0 60.2 147.7 60.4 147.4 60.5 147.2 60.7 147.0 60.9 146.8 61.1 146.6 61.3 146.4 61.5 146.2 61.8 146.0 62.0 145.8 62.4 145.6 62.8 145.4 63.2 145.2 63.6 145.1 64.0 145.0 64.4 145.0 64.8 145.0 65.2 145.0 65.6 145.1 66.0 145.2 66.4 145.3 66.8 145.5 67.2 145.7 67.6 146.0 67.8 146.1 68.0 146.3 68.2 146.5 68.4 146.7 68.6 146.9 68.8 147.1 69.0 147.4 69.2 147.6 69.4 148.0 69.5 148.2 69.7 148.6 69.9 149.0 70.1 149.4 70.2 149.7 70.3 150.0 70.4 150.3 70.5 150.6 70.6 151.0 70.6 151.4 70.7 151.8 70.8 152.2 70.8 152.6 70.8 153.0 70.8 153.4 70.8 153.8 70.8 154.2 70.7 154.6 70.6 155.0 70.6 155.4 70.5 155.8 70.4 156.1 70.3 156.4 70.2 156.7 70.1 157.0 70.0 157.2 69.8 157.6 69.6 158.0 69.4 158.4 69.2 158.7 69.0 159.0 68.9 159.2 68.7 159.4 68.5 159.6 68.3 159.8 68.1 160.0 67.9 160.2 67.6 160.4 67.4 160.6 67.0 160.8 66.6 161.0 66.2 161.2 65.8 161.3 65.4 161.4 65.0 161.4Z"/>
<path stroke="none" fill="#000" fill-opacity="0.06" d="M65.6 160.8 65.2 160.9 64.8 160.9 64.4 160.9 64.0 160.9 63.7 160.8 63.4 160.7 63.1 160.6 62.8 160.5 62.4 160.3 62.0 160.0 61.8 159.8 61.6 159.7 61.4 159.5 61.2 159.3 61.0 159.1 60.8 158.8 60.6 158.6 60.4 158.3 60.2 158.0 60.0 157.6 59.8 157.2 59.6 156.8 59.5 156.4 59.4 156.1 59.3 155.8 59.2 155.4 59.1 155.0 59.1 154.6 59.0 154.2 59.0 153.9 59.0 153.6 59.0 153.2 59.0 152.8 59.0 152.5 59.0 152.2 59.1 151.8 59.1 151.4 59.2 151.1 59.3 150.8 59.4 150.4 59.5 150.0 59.6 149.7 59.7 149.4 59.9 149.0 60.1 148.6 60.3 148.2 60.6 147.8 60.8 147.6 60.9 147.4 61.1 147.2 61.3 147.0 61.5 146.8 61.7 146.6 62.0 146.4 62.3 146.2 62.6 146.0 63.0 145.8 63.4 145.7 63.7 145.6 64.0 145.5 64.4 145.5 64.8 145.5 65.2 145.5 65.6 145.6 66.0 145.7 66.3 145.8 66.6 145.9 67.0 146.1 67.4 146.4 67.6 146.6 67.8 146.7 68.0 146.9 68.2 147.1 68.4 147.3 68.6 147.6 68.8 147.8 69.0 148.1 69.2 148.4 69.4 148.8 69.6 149.2 69.8 149.6 69.9 150.0 70.0 150.3 70.1 150.6 70.2 151.0 70.3 151.4 70.3 151.8 70.4 152.2 70.4 152.5 70.4 152.8 70.4 153.2 70.4 153.6 70.4 153.9 70.4 154.2 70.3 154.6 70.3 155.0 70.2 155.3 70.1 155.6 70.0 156.0 69.9 156.4 69.8 156.7 69.7 157.0 69.5 157.4 69.3 157.8 69.1 158.2 68.8 158.6 68.6 158.8 68.5 159.0 68.3 159.2 68.1 159.4 67.9 159.6 67.7 159.8 67.4 160.0 67.1 160.2 66.8 160.4 66.4 160.6 66.0 160.7 65.7 160.8Z"/>
<path stroke="none" fill="#000" fill-opacity="0.06" d="M65.8 160.2 65.4 160.3 65.0 160.4 64.6 160.4 64.2 160.3 63.8 160.3 63.5 160.2 63.2 160.1 62.8 159.9 62.4 159.7 62.0 159.4 61.8 159.2 61.6 159.0 61.4 158.8 61.2 158.6 61.0 158.4 60.9 158.2 60.6 157.8 60.4 157.4 60.3 157.2 60.1 156.8 59.9 156.4 59.8 156.0 59.7 155.6 59.6 155.3 59.5 155.0 59.5 154.6 59.4 154.2 59.4 153.9 59.4 153.6 59.4 153.2 59.4 152.8 59.4 152.5 59.4 152.2 59.5 151.8 59.5 151.4 59.6 151.1 59.7 150.8 59.8 150.4 59.9 150.0 60.1 149.6 60.2 149.4 60.4 149.0 60.6 148.6 60.7 148.4 61.0 148.0 61.2 147.8 61.4 147.6 61.6 147.4 61.8 147.2 62.0 147.0 62.2 146.9 62.6 146.6 63.0 146.4 63.4 146.2 63.8 146.1 64.2 146.1 64.6 146.0 65.0 146.0 65.4 146.1 65.8 146.2 66.2 146.3 66.6 146.5 67.0 146.7 67.4 147.0 67.6 147.2 67.8 147.4 68.0 147.6 68.2 147.8 68.4 148.0 68.5 148.2 68.8 148.6 69.0 149.0 69.1 149.2 69.3 149.6 69.5 150.0 69.6 150.4 69.7 150.8 69.8 151.1 69.9 151.4 69.9 151.8 70.0 152.2 70.0 152.5 70.0 152.8 70.0 153.2 70.0 153.6 70.0 153.9 70.0 154.2 69.9 154.6 69.9 155.0 69.8 155.3 69.7 155.6 69.6 156.0 69.5 156.4 69.3 156.8 69.2 157.0 69.0 157.4 68.8 157.8 68.7 158.0 68.4 158.4 68.2 158.6 68.0 158.8 67.8 159.0 67.6 159.2 67.4 159.4 67.2 159.5 66.8 159.8 66.4 160.0 66.0 160.2Z"/>
<path stroke="none" fill="#000" fill-opacity="0.07" d="M65.8 159.6 65.4 159.7 65.0 159.8 64.6 159.8 64.2 159.8 63.8 159.7 63.5 159.6 63.2 159.5 62.8 159.3 62.4 159.0 62.2 158.9 62.0 158.7 61.8 158.5 61.6 158.3 61.4 158.1 61.2 157.8 61.0 157.6 60.8 157.2 60.6 156.8 60.4 156.4 60.3 156.0 60.1 155.6 60.0 155.2 59.9 154.8 59.9 154.4 59.8 154.0 59.8 153.6 59.8 153.2 59.8 152.8 59.8 152.4 59.9 152.0 59.9 151.6 60.0 151.3 60.1 151.0 60.2 150.6 60.3 150.2 60.5 149.8 60.7 149.4 60.9 149.0 61.2 148.6 61.4 148.3 61.6 148.1 61.8 147.9 62.0 147.7 62.2 147.5 62.4 147.4 62.7 147.2 63.0 147.0 63.4 146.8 63.8 146.7 64.2 146.6 64.6 146.6 65.0 146.6 65.4 146.7 65.8 146.8 66.2 146.9 66.6 147.1 67.0 147.4 67.2 147.5 67.4 147.7 67.6 147.9 67.8 148.1 68.0 148.3 68.2 148.6 68.4 148.8 68.6 149.2 68.8 149.6 69.0 150.0 69.1 150.4 69.3 150.8 69.4 151.2 69.5 151.6 69.5 152.0 69.6 152.4 69.6 152.8 69.6 153.2 69.6 153.6 69.6 154.0 69.5 154.4 69.5 154.8 69.4 155.1 69.3 155.4 69.2 155.8 69.1 156.2 68.9 156.6 68.7 157.0 68.5 157.4 68.2 157.8 68.0 158.1 67.8 158.3 67.6 158.5 67.4 158.7 67.2 158.9 67.0 159.0 66.7 159.2 66.4 159.4 66.0 159.6Z"/>
<path stroke="none" fill="#000" fill-opacity="0.08" d="M65.6 159.0 65.2 159.1 64.8 159.2 64.4 159.2 64.0 159.1 63.7 159.0 63.4 158.9 63.2 158.8 62.8 158.6 62.6 158.5 62.4 158.3 62.2 158.1 62.0 157.9 61.8 157.7 61.6 157.5 61.4 157.2 61.2 156.9 61.1 156.6 60.9 156.2 60.7 155.8 60.6 155.5 60.5 155.2 60.4 154.8 60.4 154.4 60.3 154.0 60.3 153.6 60.3 153.2 60.3 152.8 60.3 152.4 60.4 152.0 60.4 151.6 60.5 151.2 60.6 150.9 60.7 150.6 60.9 150.2 61.0 149.9 61.2 149.6 61.4 149.2 61.6 149.0 61.7 148.8 61.9 148.6 62.1 148.4 62.3 148.2 62.5 148.0 62.8 147.8 63.2 147.6 63.4 147.5 63.7 147.4 64.0 147.3 64.4 147.2 64.8 147.2 65.2 147.3 65.6 147.4 66.0 147.5 66.2 147.6 66.6 147.8 66.8 147.9 67.0 148.1 67.2 148.3 67.4 148.5 67.6 148.7 67.8 148.9 68.0 149.2 68.2 149.5 68.3 149.8 68.5 150.2 68.7 150.6 68.8 150.9 68.9 151.2 69.0 151.6 69.0 152.0 69.1 152.4 69.1 152.8 69.1 153.2 69.1 153.6 69.1 154.0 69.0 154.4 69.0 154.8 68.9 155.2 68.8 155.5 68.7 155.8 68.5 156.2 68.4 156.5 68.2 156.8 68.0 157.2 67.8 157.4 67.7 157.6 67.5 157.8 67.3 158.0 67.1 158.2 66.9 158.4 66.6 158.6 66.2 158.8 66.0 158.9 65.7 159.0Z"/>
<path stroke="none" fill="#000" fill-opacity="0.08" d="M65.2 158.4 64.8 158.5 64.4 158.4 64.1 158.4 63.8 158.3 63.5 158.2 63.2 158.1 62.8 157.8 62.6 157.6 62.4 157.5 62.2 157.2 62.0 157.0 61.8 156.7 61.6 156.4 61.4 156.0 61.2 155.6 61.1 155.2 61.0 154.9 60.9 154.6 60.9 154.2 60.8 153.8 60.8 153.4 60.8 153.0 60.8 152.6 60.9 152.2 60.9 151.8 61.0 151.5 61.1 151.2 61.2 150.9 61.3 150.6 61.5 150.2 61.7 149.8 62.0 149.4 62.2 149.2 62.3 149.0 62.6 148.8 62.8 148.6 63.1 148.4 63.4 148.2 63.8 148.1 64.1 148.0 64.4 148.0 64.8 147.9 65.2 148.0 65.6 148.1 65.9 148.2 66.2 148.3 66.6 148.6 66.8 148.8 67.0 148.9 67.2 149.2 67.4 149.4 67.6 149.7 67.8 150.0 68.0 150.4 68.2 150.8 68.3 151.2 68.4 151.5 68.5 151.8 68.5 152.2 68.6 152.6 68.6 153.0 68.6 153.4 68.6 153.8 68.5 154.2 68.5 154.6 68.4 154.9 68.3 155.2 68.2 155.5 68.1 155.8 67.9 156.2 67.7 156.6 67.4 157.0 67.2 157.2 67.1 157.4 66.8 157.6 66.6 157.8 66.3 158.0 66.0 158.2 65.6 158.3 65.3 158.4Z"/>
<path stroke="none" fill="#000" fill-opacity="0.09" d="M65.0 157.6 64.6 157.6 64.3 157.6 64.0 157.5 63.6 157.4 63.4 157.3 63.0 157.0 62.8 156.8 62.6 156.6 62.4 156.4 62.2 156.1 62.0 155.8 61.8 155.4 61.7 155.0 61.6 154.7 61.5 154.4 61.5 154.0 61.4 153.6 61.4 153.2 61.4 152.8 61.5 152.4 61.5 152.0 61.6 151.7 61.7 151.4 61.8 151.1 61.9 150.8 62.1 150.4 62.4 150.0 62.6 149.8 62.8 149.6 63.0 149.4 63.2 149.2 63.6 149.0 64.0 148.9 64.3 148.8 64.6 148.8 65.0 148.8 65.4 148.9 65.8 149.0 66.0 149.1 66.4 149.4 66.6 149.6 66.8 149.8 67.0 150.0 67.2 150.3 67.4 150.6 67.6 151.0 67.7 151.4 67.8 151.7 67.9 152.0 67.9 152.4 68.0 152.8 68.0 153.2 68.0 153.6 67.9 154.0 67.9 154.4 67.8 154.7 67.7 155.0 67.6 155.3 67.5 155.6 67.3 156.0 67.0 156.4 66.8 156.6 66.6 156.8 66.4 157.0 66.2 157.2 65.8 157.4 65.4 157.5 65.1 157.6Z"/>
<path stroke="none" fill="#fff" fill-opacity="0.6" d="M65.2 154.6 64.8 154.8 64.4 154.7 64.2 154.6 63.9 154.4 63.8 154.2 63.6 153.8 63.5 153.4 63.5 153.0 63.6 152.7 63.7 152.4 63.9 152.0 64.2 151.8 64.4 151.7 64.8 151.6 65.2 151.8 65.4 151.9 65.6 152.2 65.8 152.6 65.9 153.0 65.9 153.4 65.8 153.7 65.7 154.0 65.5 154.4 65.2 154.6Z"/>
<path stroke="#b4b4b4" d="M65.0 161.4 64.6 161.4 64.2 161.4 63.8 161.3 63.4 161.2 63.0 161.1 62.6 160.9 62.2 160.7 61.8 160.4 61.6 160.3 61.4 160.1 61.2 159.9 61.0 159.7 60.8 159.5 60.6 159.3 60.4 159.0 60.2 158.8 60.0 158.4 59.9 158.2 59.7 157.8 59.5 157.4 59.3 157.0 59.2 156.7 59.1 156.4 59.0 156.1 58.9 155.8 58.8 155.4 58.8 155.0 58.7 154.6 58.6 154.2 58.6 153.8 58.6 153.4 58.6 153.0 58.6 152.6 58.6 152.2 58.7 151.8 58.8 151.4 58.8 151.0 58.9 150.6 59.0 150.3 59.1 150.0 59.2 149.7 59.3 149.4 59.4 149.2 59.6 148.8 59.8 148.4 60.0 148.0 60.2 147.7 60.4 147.4 60.5 147.2 60.7 147.0 60.9 146.8 61.1 146.6 61.3 146.4 61.5 146.2 61.8 146.0 62.0 145.8 62.4 145.6 62.8 145.4 63.2 145.2 63.6 145.1 64.0 145.0 64.4 145.0 64.8 145.0 65.2 145.0 65.6 145.1 66.0 145.2 66.4 145.3 66.8 145.5 67.2 145.7 67.6 146.0 67.8 146.1 68.0 146.3 68.2 146.5 68.4 146.7 68.6 146.9 68.8 147.1 69.0 147.4 69.2 147.6 69.4 148.0 69.5 148.2 69.7 148.6 69.9 149.0 70.1 149.4 70.2 149.7 70.3 150.0 70.4 150.3 70.5 150.6 70.6 151.0 70.6 151.4 70.7 151.8 70.8 152.2 70.8 152.6 70.8 153.0 70.8 153.4 70.8 153.8 70.8 154.2 70.7 154.6 70.6 155.0 70.6 155.4 70.5 155.8 70.4 156.1 70.3 156.4 70.2 156.7 70.1 157.0 70.0 157.2 69.8 157.6 69.6 158.0 69.4 158.4 69.2 158.7 69.0 159.0 68.9 159.2 68.7 159.4 68.5 159.6 68.3 159.8 68.1 160.0 67.9 160.2 67.6 160.4 67.4 160.6 67.0 160.8 66.6 161.0 66.2 161.2 65.8 161.3 65.4 161.4 65.0 161.4Z"/>
<path stroke="#a6a6a6" d="M65.6 160.8 65.2 160.9 64.8 160.9 64.4 160.9 64.0 160.9 63.7 160.8 63.4 160.7 63.1 160.6 62.8 160.5 62.4 160.3 62.0 160.0 61.8 159.8 61.6 159.7 61.4 159.5 61.2 159.3 61.0 159.1 60.8 158.8 60.6 158.6 60.4 158.3 60.2 158.0 60.0 157.6 59.8 157.2 59.6 156.8 59.5 156.4 59.4 156.1 59.3 155.8 59.2 155.4 59.1 155.0 59.1 154.6 59.0 154.2 59.0 153.9 59.0 153.6 59.0 153.2 59.0 152.8 59.0 152.5 59.0 152.2 59.1 151.8 59.1 151.4 59.2 151.1 59.3 150.8 59.4 150.4 59.5 150.0 59.6 149.7 59.7 149.4 59.9 149.0 60.1 148.6 60.3 148.2 60.6 147.8 60.8 147.6 60.9 147.4 61.1 147.2 61.3 147.0 61.5 146.8 61.7 146.6 62.0 146.4 62.3 146.2 62.6 146.0 63.0 145.8 63.4 145.7 63.7 145.6 64.0 145.5 64.4 145.5 64.8 145.5 65.2 145.5 65.6 145.6 66.0 145.7 66.3 145.8 66.6 145.9 67.0 146.1 67.4 146.4 67.6 146.6 67.8 146.7 68.0 146.9 68.2 147.1 68.4 147.3 68.6 147.6 68.8 147.8 69.0 148.1 69.2 148.4 69.4 148.8 69.6 149.2 69.8 149.6 69.9 150.0 70.0 150.3 70.1 150.6 70.2 151.0 70.3 151.4 70.3 151.8 70.4 152.2 70.4 152.5 70.4 152.8 70.4 153.2 70.4 153.6 70.4 153.9 70.4 154.2 70.3 154.6 70.3 155.0 70.2 155.3 70.1 155.6 70.0 156.0 69.9 156.4 69.8 156.7 69.7 157.0 69.5 157.4 69.3 157.8 69.1 158.2 68.8 158.6 68.6 158.8 68.5 159.0 68.3 159.2 68.1 159.4 67.9 159.6 67.7 159.8 67.4 160.0 67.1 160.2 66.8 160.4 66.4 160.6 66.0 160.7 65.7 160.8Z"/>
<path stroke="#999999" d="M65.8 160.2 65.4 160.3 65.0 160.4 64.6 160.4 64.2 160.3 63.8 160.3 63.5 160.2 63.2 160.1 62.8 159.9 62.4 159.7 62.0 159.4 61.8 159.2 61.6 159.0 61.4 158.8 61.2 158.6 61.0 158.4 60.9 158.2 60.6 157.8 60.4 157.4 60.3 157.2 60.1 156.8 59.9 156.4 59.8 156.0 59.7 155.6 59.6 155.3 59.5 155.0 59.5 154.6 59.4 154.2 59.4 153.9 59.4 153.6 59.4 153.2 59.4 152.8 59.4 152.5 59.4 152.2 59.5 151.8 59.5 151.4 59.6 151.1 59.7 150.8 59.8 150.4 59.9 150.0 60.1 149.6 60.2 149.4 60.4 149.0 60.6 148.6 60.7 148.4 61.0 148.0 61.2 147.8 61.4 147.6 61.6 147.4 61.8 147.2 62.0 147.0 62.2 146.9 62.6 146.6 63.0 146.4 63.4 146.2 63.8 146.1 64.2 146.1 64.6 146.0 65.0 146.0 65.4 146.1 65.8 146.2 66.2 146.3 66.6 146.5 67.0 146.7 67.4 147.0 67.6 147.2 67.8 147.4 68.0 147.6 68.2 147.8 68.4 148.0 68.5 148.2 68.8 148.6 69.0 149.0 69.1 149.2 69.3 149.6 69.5 150.0 69.6 150.4 69.7 150.8 69.8 151.1 69.9 151.4 69.9 151.8 70.0 152.2 70.0 152.5 70.0 152.8 70.0 153.2 70.0 153.6 70.0 153.9 70.0 154.2 69.9 154.6 69.9 155.0 69.8 155.3 69.7 155.6 69.6 156.0 69.5 156.4 69.3 156.8 69.2 157.0 69.0 157.4 68.8 157.8 68.7 158.0 68.4 158.4 68.2 158.6 68.0 158.8 67.8 159.0 67.6 159.2 67.4 159.4 67.2 159.5 66.8 159.8 66.4 160.0 66.0 160.2Z"/>
<path stroke="#8c8c8c" d="M65.8 159.6 65.4 159.7 65.0 159.8 64.6 159.8 64.2 159.8 63.8 159.7 63.5 159.6 63.2 159.5 62.8 159.3 62.4 159.0 62.2 158.9 62.0 158.7 61.8 158.5 61.6 158.3 61.4 158.1 61.2 157.8 61.0 157.6 60.8 157.2 60.6 156.8 60.4 156.4 60.3 156.0 60.1 155.6 60.0 155.2 59.9 154.8 59.9 154.4 59.8 154.0 59.8 153.6 59.8 153.2 59.8 152.8 59.8 152.4 59.9 152.0 59.9 151.6 60.0 151.3 60.1 151.0 60.2 150.6 60.3 150.2 60.5 149.8 60.7 149.4 60.9 149.0 61.2 148.6 61.4 148.3 61.6 148.1 61.8 147.9 62.0 147.7 62.2 147.5 62.4 147.4 62.7 147.2 63.0 147.0 63.4 146.8 63.8 146.7 64.2 146.6 64.6 146.6 65.0 146.6 65.4 146.7 65.8 146.8 66.2 146.9 66.6 147.1 67.0 147.4 67.2 147.5 67.4 147.7 67.6 147.9 67.8 148.1 68.0 148.3 68.2 148.6 68.4 148.8 68.6 149.2 68.8 149.6 69.0 150.0 69.1 150.4 69.3 150.8 69.4 151.2 69.5 151.6 69.5 152.0 69.6 152.4 69.6 152.8 69.6 153.2 69.6 153.6 69.6 154.0 69.5 154.4 69.5 154.8 69.4 155.1 69.3 155.4 69.2 155.8 69.1 156.2 68.9 156.6 68.7 157.0 68.5 157.4 68.2 157.8 68.0 158.1 67.8 158.3 67.6 158.5 67.4 158.7 67.2 158.9 67.0 159.0 66.7 159.2 66.4 159.4 66.0 159.6Z"/>
<path stroke="#7e7e7e" d="M65.6 159.0 65.2 159.1 64.8 159.2 64.4 159.2 64.0 159.1 63.7 159.0 63.4 158.9 63.2 158.8 62.8 158.6 62.6 158.5 62.4 158.3 62.2 158.1 62.0 157.9 61.8 157.7 61.6 157.5 61.4 157.2 61.2 156.9 61.1 156.6 60.9 156.2 60.7 155.8 60.6 155.5 60.5 155.2 60.4 154.8 60.4 154.4 60.3 154.0 60.3 153.6 60.3 153.2 60.3 152.8 60.3 152.4 60.4 152.0 60.4 151.6 60.5 151.2 60.6 150.9 60.7 150.6 60.9 150.2 61.0 149.9 61.2 149.6 61.4 149.2 61.6 149.0 61.7 148.8 61.9 148.6 62.1 148.4 62.3 148.2 62.5 148.0 62.8 147.8 63.2 147.6 63.4 147.5 63.7 147.4 64.0 147.3 64.4 147.2 64.8 147.2 65.2 147.3 65.6 147.4 66.0 147.5 66.2 147.6 66.6 147.8 66.8 147.9 67.0 148.1 67.2 148.3 67.4 148.5 67.6 148.7 67.8 148.9 68.0 149.2 68.2 149.5 68.3 149.8 68.5 150.2 68.7 150.6 68.8 150.9 68.9 151.2 69.0 151.6 69.0 152.0 69.1 152.4 69.1 152.8 69.1 153.2 69.1 153.6 69.1 154.0 69.0 154.4 69.0 154.8 68.9 155.2 68.8 155.5 68.7 155.8 68.5 156.2 68.4 156.5 68.2 156.8 68.0 157.2 67.8 157.4 67.7 157.6 67.5 157.8 67.3 158.0 67.1 158.2 66.9 158.4 66.6 158.6 66.2 158.8 66.0 158.9 65.7 159.0Z"/>
<path stroke="#707070" d="M65.2 158.4 64.8 158.5 64.4 158.4 64.1 158.4 63.8 158.3 63.5 158.2 63.2 158.1 62.8 157.8 62.6 157.6 62.4 157.5 62.2 157.2 62.0 157.0 61.8 156.7 61.6 156.4 61.4 156.0 61.2 155.6 61.1 155.2 61.0 154.9 60.9 154.6 60.9 154.2 60.8 153.8 60.8 153.4 60.8 153.0 60.8 152.6 60.9 152.2 60.9 151.8 61.0 151.5 61.1 151.2 61.2 150.9 61.3 150.6 61.5 150.2 61.7 149.8 62.0 149.4 62.2 149.2 62.3 149.0 62.6 148.8 62.8 148.6 63.1 148.4 63.4 148.2 63.8 148.1 64.1 148.0 64.4 148.0 64.8 147.9 65.2 148.0 65.6 148.1 65.9 148.2 66.2 148.3 66.6 148.6 66.8 148.8 67.0 148.9 67.2 149.2 67.4 149.4 67.6 149.7 67.8 150.0 68.0 150.4 68.2 150.8 68.3 151.2 68.4 151.5 68.5 151.8 68.5 152.2 68.6 152.6 68.6 153.0 68.6 153.4 68.6 153.8 68.5 154.2 68.5 154.6 68.4 154.9 68.3 155.2 68.2 155.5 68.1 155.8 67.9 156.2 67.7 156.6 67.4 157.0 67.2 157.2 67.1 157.4 66.8 157.6 66.6 157.8 66.3 158.0 66.0 158.2 65.6 158.3 65.3 158.4Z"/>
<path stroke="#636363" d="M65.0 157.6 64.6 157.6 64.3 157.6 64.0 157.5 63.6 157.4 63.4 157.3 63.0 157.0 62.8 156.8 62.6 156.6 62.4 156.4 62.2 156.1 62.0 155.8 61.8 155.4 61.7 155.0 61.6 154.7 61.5 154.4 61.5 154.0 61.4 153.6 61.4 153.2 61.4 152.8 61.5 152.4 61.5 152.0 61.6 151.7 61.7 151.4 61.8 151.1 61.9 150.8 62.1 150.4 62.4 150.0 62.6 149.8 62.8 149.6 63.0 149.4 63.2 149.2 63.6 149.0 64.0 148.9 64.3 148.8 64.6 148.8 65.0 148.8 65.4 148.9 65.8 149.0 66.0 149.1 66.4 149.4 66.6 149.6 66.8 149.8 67.0 150.0 67.2 150.3 67.4 150.6 67.6 151.0 67.7 151.4 67.8 151.7 67.9 152.0 67.9 152.4 68.0 152.8 68.0 153.2 68.0 153.6 67.9 154.0 67.9 154.4 67.8 154.7 67.7 155.0 67.6 155.3 67.5 155.6 67.3 156.0 67.0 156.4 66.8 156.6 66.6 156.8 66.4 157.0 66.2 157.2 65.8 157.4 65.4 157.5 65.1 157.6Z"/>
<path stroke="#565656" d="M65.0 156.6 64.6 156.6 64.2 156.6 63.8 156.4 63.5 156.2 63.2 156.0 63.0 155.8 62.9 155.6 62.6 155.2 62.4 154.8 62.3 154.4 62.2 154.0 62.2 153.6 62.2 153.2 62.2 152.8 62.2 152.4 62.3 152.0 62.4 151.7 62.5 151.4 62.7 151.0 63.0 150.6 63.2 150.4 63.4 150.2 63.8 150.0 64.2 149.8 64.6 149.8 65.0 149.8 65.4 149.9 65.8 150.1 66.2 150.4 66.4 150.6 66.5 150.8 66.8 151.2 67.0 151.6 67.1 152.0 67.2 152.4 67.2 152.8 67.2 153.2 67.2 153.6 67.2 154.0 67.1 154.4 67.0 154.7 66.9 155.0 66.7 155.4 66.4 155.8 66.2 156.0 66.0 156.2 65.6 156.4 65.2 156.6Z"/>
<path stroke="#484848" d="M65.2 155.0 64.8 155.2 64.4 155.1 64.1 155.0 63.9 154.8 63.7 154.6 63.5 154.2 63.3 153.8 63.3 153.4 63.3 153.0 63.3 152.6 63.4 152.3 63.6 152.0 63.8 151.7 64.0 151.5 64.4 151.3 64.8 151.2 65.2 151.4 65.5 151.6 65.7 151.8 65.9 152.2 66.1 152.6 66.1 153.0 66.1 153.4 66.1 153.8 66.0 154.1 65.8 154.4 65.6 154.7 65.4 154.9Z"/>
<path stroke="none" fill="#000" fill-opacity="0.07" d="M138.3 149.2 137.9 149.3 137.5 149.3 137.1 149.3 136.7 149.3 136.3 149.3 135.9 149.3 135.5 149.3 135.1 149.3 134.7 149.2 134.3 149.2 133.9 149.1 133.5 149.0 133.1 148.9 132.7 148.8 132.3 148.7 131.9 148.6 131.7 148.5 131.4 148.4 131.1 148.3 130.7 148.1 130.3 147.9 129.9 147.6 129.6 147.4 129.3 147.2 129.1 147.0 128.9 146.8 128.7 146.6 128.6 146.4 128.3 146.0 128.1 145.6 128.0 145.2 127.9 144.8 127.9 144.4 128.0 144.0 128.1 143.6 128.3 143.2 128.5 142.9 128.7 142.6 128.9 142.4 129.1 142.2 129.3 142.0 129.5 141.9 129.9 141.6 130.1 141.5 130.5 141.2 130.9 141.0 131.3 140.8 131.7 140.7 131.9 140.6 132.3 140.5 132.6 140.4 132.9 140.3 133.3 140.2 133.7 140.1 134.1 140.1 134.5 140.0 134.9 140.0 135.3 139.9 135.7 139.9 136.1 139.9 136.5 139.9 136.9 139.9 137.3 139.9 137.7 139.9 138.1 140.0 138.4 140.0 138.7 140.0 139.1 140.1 139.5 140.2 139.9 140.3 140.3 140.4 140.7 140.5 141.1 140.6 141.3 140.7 141.6 140.8 141.9 140.9 142.3 141.1 142.7 141.3 143.1 141.6 143.4 141.8 143.7 142.0 143.9 142.2 144.1 142.4 144.3 142.6 144.4 142.8 144.7 143.2 144.9 143.6 145.0 144.0 145.1 144.4 145.1 144.8 145.0 145.2 144.9 145.6 144.7 146.0 144.5 146.3 144.3 146.6 144.1 146.8 143.9 147.0 143.7 147.2 143.5 147.3 143.1 147.6 142.9 147.7 142.5 148.0 142.1 148.2 141.7 148.4 141.3 148.5 141.1 148.6 140.7 148.7 140.4 148.8 140.1 148.9 139.7 149.0 139.3 149.1 138.9 149.1 138.5 149.2Z"/>
<path stroke="none" fill="#000" fill-opacity="0.06" d="M138.3 147.6 137.9 147.7 137.5 147.7 137.1 147.8 136.7 147.8 136.3 147.8 135.9 147.8 135.5 147.7 135.1 147.7 134.7 147.6 134.3 147.6 133.9 147.5 133.5 147.3 133.1 147.2 132.9 147.1 132.5 146.9 132.1 146.7 131.7 146.4 131.5 146.2 131.3 146.0 131.1 145.8 130.9 145.4 130.7 145.0 130.7 144.6 130.7 144.2 130.9 143.8 131.1 143.4 131.3 143.2 131.5 143.0 131.7 142.8 131.9 142.7 132.3 142.4 132.7 142.2 133.1 142.0 133.5 141.9 133.9 141.7 134.3 141.6 134.7 141.6 135.1 141.5 135.5 141.5 135.9 141.4 136.3 141.4 136.7 141.4 137.1 141.4 137.5 141.5 137.9 141.5 138.3 141.6 138.7 141.6 139.1 141.7 139.5 141.9 139.9 142.0 140.1 142.1 140.5 142.3 140.9 142.5 141.3 142.8 141.5 143.0 141.7 143.2 141.9 143.4 142.1 143.8 142.3 144.2 142.3 144.6 142.3 145.0 142.1 145.4 141.9 145.8 141.7 146.0 141.5 146.2 141.3 146.4 141.1 146.5 140.7 146.8 140.3 147.0 139.9 147.2 139.5 147.3 139.1 147.5 138.7 147.6Z"/>
<path stroke="none" fill="#000" fill-opacity="0.05" d="M136.9 146.8 136.5 146.8 136.1 146.8 135.7 146.8 135.3 146.7 134.9 146.6 134.5 146.5 134.1 146.4 133.7 146.2 133.4 146.0 133.1 145.8 132.9 145.6 132.7 145.4 132.5 145.0 132.5 144.6 132.5 144.3 132.6 144.0 132.9 143.6 133.1 143.4 133.3 143.2 133.7 143.0 134.1 142.8 134.5 142.7 134.9 142.6 135.3 142.5 135.7 142.4 136.1 142.4 136.5 142.4 136.9 142.4 137.3 142.4 137.7 142.5 138.1 142.6 138.5 142.7 138.9 142.8 139.3 143.0 139.6 143.2 139.9 143.4 140.1 143.6 140.3 143.8 140.5 144.2 140.5 144.6 140.5 144.9 140.4 145.2 140.1 145.6 139.9 145.8 139.7 146.0 139.3 146.2 138.9 146.4 138.5 146.5 138.1 146.6 137.7 146.7 137.3 146.8Z"/>
<path stroke="#cccccc" d="M138.3 149.2 137.9 149.3 137.5 149.3 137.1 149.3 136.7 149.3 136.3 149.3 135.9 149.3 135.5 149.3 135.1 149.3 134.7 149.2 134.3 149.2 133.9 149.1 133.5 149.0 133.1 148.9 132.7 148.8 132.3 148.7 131.9 148.6 131.7 148.5 131.4 148.4 131.1 148.3 130.7 148.1 130.3 147.9 129.9 147.6 129.6 147.4 129.3 147.2 129.1 147.0 128.9 146.8 128.7 146.6 128.6 146.4 128.3 146.0 128.1 145.6 128.0 145.2 127.9 144.8 127.9 144.4 128.0 144.0 128.1 143.6 128.3 143.2 128.5 142.9 128.7 142.6 128.9 142.4 129.1 142.2 129.3 142.0 129.5 141.9 129.9 141.6 130.1 141.5 130.5 141.2 130.9 141.0 131.3 140.8 131.7 140.7 131.9 140.6 132.3 140.5 132.6 140.4 132.9 140.3 133.3 140.2 133.7 140.1 134.1 140.1 134.5 140.0 134.9 140.0 135.3 139.9 135.7 139.9 136.1 139.9 136.5 139.9 136.9 139.9 137.3 139.9 137.7 139.9 138.1 140.0 138.4 140.0 138.7 140.0 139.1 140.1 139.5 140.2 139.9 140.3 140.3 140.4 140.7 140.5 141.1 140.6 141.3 140.7 141.6 140.8 141.9 140.9 142.3 141.1 142.7 141.3 143.1 141.6 143.4 141.8 143.7 142.0 143.9 142.2 144.1 142.4 144.3 142.6 144.4 142.8 144.7 143.2 144.9 143.6 145.0 144.0 145.1 144.4 145.1 144.8 145.0 145.2 144.9 145.6 144.7 146.0 144.5 146.3 144.3 146.6 144.1 146.8 143.9 147.0 143.7 147.2 143.5 147.3 143.1 147.6 142.9 147.7 142.5 148.0 142.1 148.2 141.7 148.4 141.3 148.5 141.1 148.6 140.7 148.7 140.4 148.8 140.1 148.9 139.7 149.0 139.3 149.1 138.9 149.1 138.5 149.2Z"/>
<path stroke="#c6c6c6" d="M138.3 147.6 137.9 147.7 137.5 147.7 137.1 147.8 136.7 147.8 136.3 147.8 135.9 147.8 135.5 147.7 135.1 147.7 134.7 147.6 134.3 147.6 133.9 147.5 133.5 147.3 133.1 147.2 132.9 147.1 132.5 146.9 132.1 146.7 131.7 146.4 131.5 146.2 131.3 146.0 131.1 145.8 130.9 145.4 130.7 145.0 130.7 144.6 130.7 144.2 130.9 143.8 131.1 143.4 131.3 143.2 131.5 143.0 131.7 142.8 131.9 142.7 132.3 142.4 132.7 142.2 133.1 142.0 133.5 141.9 133.9 141.7 134.3 141.6 134.7 141.6 135.1 141.5 135.5 141.5 135.9 141.4 136.3 141.4 136.7 141.4 137.1 141.4 137.5 141.5 137.9 141.5 138.3 141.6 138.7 141.6 139.1 141.7 139.5 141.9 139.9 142.0 140.1 142.1 140.5 142.3 140.9 142.5 141.3 142.8 141.5 143.0 141.7 143.2 141.9 143.4 142.1 143.8 142.3 144.2 142.3 144.6 142.3 145.0 142.1 145.4 141.9 145.8 141.7 146.0 141.5 146.2 141.3 146.4 141.1 146.5 140.7 146.8 140.3 147.0 139.9 147.2 139.5 147.3 139.1 147.5 138.7 147.6Z"/>
<path stroke="#c0c0c0" d="M136.9 146.8 136.5 146.8 136.1 146.8 135.7 146.8 135.3 146.7 134.9 146.6 134.5 146.5 134.1 146.4 133.7 146.2 133.4 146.0 133.1 145.8 132.9 145.6 132.7 145.4 132.5 145.0 132.5 144.6 132.5 144.3 132.6 144.0 132.9 143.6 133.1 143.4 133.3 143.2 133.7 143.0 134.1 142.8 134.5 142.7 134.9 142.6 135.3 142.5 135.7 142.4 136.1 142.4 136.5 142.4 136.9 142.4 137.3 142.4 137.7 142.5 138.1 142.6 138.5 142.7 138.9 142.8 139.3 143.0 139.6 143.2 139.9 143.4 140.1 143.6 140.3 143.8 140.5 144.2 140.5 144.6 140.5 144.9 140.4 145.2 140.1 145.6 139.9 145.8 139.7 146.0 139.3 146.2 138.9 146.4 138.5 146.5 138.1 146.6 137.7 146.7 137.3 146.8Z"/>
<path stroke="none" fill="#000" fill-opacity="0.07" d="M133.5 156.6 133.1 156.6 132.7 156.6 132.3 156.6 131.9 156.5 131.5 156.5 131.1 156.4 130.7 156.3 130.3 156.3 129.9 156.2 129.5 156.1 129.1 155.9 128.7 155.8 128.3 155.7 128.0 155.6 127.7 155.5 127.4 155.4 127.1 155.3 126.8 155.2 126.5 155.1 126.1 155.0 125.7 154.9 125.3 154.9 124.9 154.8 124.5 154.7 124.1 154.7 123.7 154.7 123.3 154.6 123.0 154.6 122.7 154.6 122.3 154.5 121.9 154.5 121.5 154.4 121.1 154.4 120.7 154.3 120.4 154.2 120.1 154.1 119.7 154.0 119.5 153.9 119.2 153.8 118.9 153.6 118.5 153.4 118.2 153.2 118.0 153.0 117.7 152.8 117.6 152.6 117.4 152.4 117.2 152.0 117.0 151.6 117.0 151.2 117.0 150.8 117.1 150.4 117.2 150.0 117.5 149.6 117.7 149.4 117.9 149.2 118.1 149.0 118.3 148.8 118.7 148.6 119.1 148.4 119.5 148.3 119.8 148.2 120.1 148.1 120.5 148.0 120.9 148.0 121.3 148.0 121.7 148.0 122.1 148.0 122.5 148.0 122.9 148.0 123.3 148.1 123.7 148.2 124.0 148.2 124.3 148.3 124.7 148.3 125.0 148.4 125.3 148.5 125.7 148.5 126.1 148.6 126.5 148.7 126.9 148.7 127.3 148.7 127.7 148.7 128.1 148.7 128.5 148.7 128.9 148.6 129.3 148.6 129.5 148.6 129.9 148.5 130.3 148.5 130.7 148.4 131.1 148.3 131.5 148.3 131.9 148.3 132.3 148.2 132.7 148.2 133.0 148.2 133.3 148.2 133.7 148.2 134.1 148.2 134.5 148.2 134.9 148.3 135.3 148.3 135.7 148.4 136.1 148.4 136.5 148.5 136.8 148.6 137.1 148.7 137.5 148.8 137.9 148.9 138.3 149.1 138.6 149.2 138.9 149.4 139.3 149.6 139.6 149.8 139.9 150.0 140.1 150.2 140.3 150.3 140.5 150.5 140.7 150.8 140.9 151.0 141.1 151.4 141.2 151.8 141.3 152.2 141.3 152.6 141.2 153.0 141.1 153.4 141.0 153.6 140.7 154.0 140.6 154.2 140.4 154.4 140.2 154.6 139.9 154.8 139.7 155.0 139.3 155.2 139.1 155.3 138.7 155.5 138.3 155.7 137.9 155.9 137.5 156.0 137.1 156.1 136.8 156.2 136.5 156.3 136.1 156.4 135.7 156.4 135.3 156.5 134.9 156.5 134.5 156.6 134.1 156.6 133.7 156.6Z"/>
<path stroke="#c0c0c0" d="M116.1 146.1 116.4 146.0 116.7 145.9 117.1 145.7 117.4 145.6 117.7 145.5 118.0 145.4 118.3 145.3 118.7 145.2 119.1 145.2 119.5 145.1 119.9 145.0 120.3 145.0 120.7 145.0 121.1 144.9 121.5 144.9 121.9 144.9 122.3 145.0 122.7 145.0 123.1 145.0 123.5 145.0 123.9 145.0 124.3 145.1 124.7 145.1 125.1 145.1 125.5 145.1 125.9 145.1 126.3 145.1 126.7 145.1 127.1 145.1 127.5 145.0 127.9 145.0 128.3 145.0 128.7 144.9 129.1 144.9 129.5 144.8 129.9 144.8 130.3 144.7 130.7 144.7 131.1 144.7 131.5 144.6 131.9 144.6 132.3 144.6 132.7 144.6 133.1 144.6 133.5 144.6 133.9 144.6 134.3 144.6 134.7 144.6 135.1 144.6 135.5 144.6 135.9 144.7 136.3 144.7 136.7 144.7 137.1 144.8 137.5 144.9 137.9 144.9 138.3 145.0 138.7 145.1 139.1 145.2 139.5 145.3 139.9 145.4 140.3 145.5 140.7 145.6 141.1 145.7 141.4 145.8 141.7 145.9 142.1 146.1 142.4 146.2 142.7 146.3 143.1 146.5 143.5 146.7 143.9 146.9 144.3 147.1 144.7 147.4 145.0 147.6 145.3 147.8 145.5 147.9 145.7 148.1 145.9 148.3 146.1 148.5 146.3 148.6 146.5 148.8 146.7 149.1 146.9 149.3 147.1 149.6 147.3 149.8 147.5 150.2 147.7 150.6 147.9 151.0 148.0 151.4 148.0 151.8 148.1 152.2 148.1 152.6 148.0 153.0 148.0 153.4 147.9 153.8 147.7 154.2 147.5 154.6 147.3 154.9 147.1 155.2 146.9 155.5 146.7 155.7 146.5 156.0 146.3 156.2 146.1 156.3 145.9 156.5 145.7 156.7 145.5 156.9 145.3 157.0 145.0 157.2 144.7 157.4 144.5 157.5 144.1 157.8 143.7 158.0 143.3 158.2 142.9 158.4 142.5 158.6 142.1 158.7 141.7 158.9 141.4 159.0 141.1 159.1 140.8 159.2 140.5 159.3 140.1 159.4 139.7 159.5 139.3 159.6 138.9 159.7 138.5 159.8 138.1 159.8 137.7 159.9 137.3 160.0 136.9 160.0 136.5 160.1 136.1 160.1 135.7 160.2 135.3 160.2 134.9 160.2 134.5 160.2 134.1 160.2 133.7 160.2 133.3 160.2 132.9 160.2 132.5 160.2 132.1 160.2 131.7 160.2 131.3 160.2 130.9 160.1 130.5 160.1 130.1 160.0 129.7 160.0 129.3 159.9 128.9 159.8 128.5 159.8 128.1 159.7 127.7 159.6 127.3 159.5 126.9 159.4 126.5 159.3 126.1 159.2 125.7 159.1 125.3 159.0 124.9 158.8 124.5 158.7 124.2 158.6 123.9 158.5 123.6 158.4 123.3 158.3 123.0 158.2 122.7 158.1 122.3 158.0 121.9 157.9 121.6 157.8 121.3 157.7 120.9 157.6 120.5 157.5 120.1 157.4 119.7 157.3 119.4 157.2 119.1 157.1 118.7 157.0 118.3 156.9 117.9 156.7 117.5 156.6 117.3 156.5 117.1 156.4 116.7 156.2 116.3 156.0 116.1 155.9"/>
<path stroke="#b6b6b6" d="M116.1 146.9 116.5 146.7 116.9 146.5 117.3 146.3 117.6 146.2 117.9 146.1 118.2 146.0 118.5 145.9 118.9 145.8 119.3 145.7 119.7 145.7 120.1 145.6 120.5 145.6 120.9 145.6 121.3 145.5 121.7 145.5 122.1 145.5 122.5 145.6 122.9 145.6 123.3 145.6 123.7 145.6 124.1 145.7 124.5 145.7 124.9 145.7 125.3 145.7 125.7 145.7 126.1 145.7 126.5 145.7 126.9 145.7 127.3 145.7 127.7 145.7 128.1 145.6 128.5 145.6 128.9 145.5 129.3 145.5 129.7 145.4 130.0 145.4 130.3 145.4 130.7 145.3 131.1 145.3 131.5 145.3 131.9 145.2 132.3 145.2 132.7 145.2 133.1 145.2 133.5 145.2 133.9 145.2 134.3 145.2 134.7 145.2 135.1 145.2 135.5 145.3 135.9 145.3 136.3 145.3 136.7 145.4 137.1 145.4 137.5 145.5 137.9 145.6 138.3 145.7 138.7 145.7 139.1 145.8 139.5 145.9 139.9 146.1 140.3 146.2 140.7 146.3 141.0 146.4 141.3 146.5 141.7 146.7 142.0 146.8 142.3 146.9 142.7 147.1 143.1 147.4 143.5 147.6 143.8 147.8 144.1 148.0 144.4 148.2 144.7 148.4 144.9 148.6 145.1 148.8 145.3 149.0 145.5 149.2 145.7 149.4 145.9 149.6 146.0 149.8 146.3 150.2 146.5 150.6 146.7 151.0 146.8 151.4 146.9 151.8 146.9 152.2 146.9 152.6 146.9 152.9 146.8 153.2 146.7 153.6 146.6 154.0 146.4 154.4 146.2 154.8 145.9 155.2 145.7 155.4 145.5 155.6 145.3 155.8 145.1 156.0 144.9 156.2 144.7 156.4 144.5 156.5 144.1 156.8 143.9 157.0 143.5 157.2 143.3 157.3 142.9 157.6 142.5 157.8 142.1 157.9 141.7 158.1 141.3 158.3 141.0 158.4 140.7 158.5 140.4 158.6 140.1 158.7 139.7 158.8 139.3 158.9 138.9 159.0 138.5 159.1 138.1 159.2 137.7 159.3 137.3 159.3 136.9 159.4 136.5 159.4 136.1 159.5 135.7 159.5 135.3 159.6 134.9 159.6 134.5 159.6 134.1 159.6 133.7 159.6 133.3 159.6 132.9 159.6 132.6 159.6 132.3 159.6 131.9 159.6 131.5 159.5 131.1 159.5 130.7 159.5 130.3 159.4 129.9 159.4 129.5 159.3 129.1 159.2 128.7 159.1 128.3 159.1 128.0 159.0 127.7 158.9 127.3 158.8 126.9 158.7 126.5 158.6 126.1 158.5 125.8 158.4 125.5 158.3 125.2 158.2 124.9 158.1 124.6 158.0 124.3 157.9 124.0 157.8 123.7 157.7 123.3 157.6 122.9 157.5 122.6 157.4 122.3 157.3 121.9 157.2 121.5 157.1 121.1 157.0 120.7 156.9 120.3 156.8 119.9 156.7 119.5 156.6 119.1 156.5 118.7 156.3 118.3 156.2 117.9 156.1 117.5 155.9 117.1 155.7 116.7 155.5 116.3 155.3 116.1 155.2"/>
<path stroke="#ababab" d="M116.1 147.9 116.3 147.7 116.7 147.5 117.1 147.2 117.5 147.0 117.9 146.9 118.3 146.7 118.7 146.6 119.1 146.5 119.5 146.4 119.9 146.3 120.3 146.3 120.7 146.2 121.1 146.2 121.5 146.2 121.9 146.2 122.3 146.2 122.7 146.2 123.1 146.3 123.5 146.3 123.9 146.3 124.3 146.4 124.7 146.4 125.1 146.4 125.5 146.5 125.9 146.5 126.3 146.5 126.7 146.5 127.1 146.5 127.5 146.4 127.9 146.4 128.3 146.4 128.7 146.3 129.1 146.3 129.5 146.2 129.9 146.2 130.3 146.1 130.7 146.1 131.1 146.0 131.5 146.0 131.9 146.0 132.3 145.9 132.7 145.9 133.1 145.9 133.5 145.9 133.9 145.9 134.3 145.9 134.7 145.9 135.1 146.0 135.4 146.0 135.7 146.0 136.1 146.1 136.5 146.1 136.9 146.2 137.3 146.2 137.7 146.3 138.1 146.4 138.5 146.5 138.9 146.6 139.3 146.7 139.6 146.8 139.9 146.9 140.2 147.0 140.5 147.1 140.9 147.3 141.2 147.4 141.5 147.6 141.9 147.7 142.3 148.0 142.7 148.2 142.9 148.3 143.3 148.6 143.5 148.8 143.7 148.9 143.9 149.1 144.1 149.3 144.3 149.5 144.5 149.7 144.7 150.0 144.9 150.3 145.1 150.6 145.3 151.0 145.4 151.4 145.5 151.8 145.6 152.2 145.6 152.6 145.5 153.0 145.4 153.4 145.3 153.7 145.2 154.0 145.0 154.4 144.7 154.8 144.5 155.0 144.4 155.2 144.2 155.4 144.0 155.6 143.8 155.8 143.5 156.0 143.3 156.2 143.0 156.4 142.7 156.6 142.4 156.8 142.1 156.9 141.7 157.2 141.3 157.3 140.9 157.5 140.5 157.7 140.2 157.8 139.9 157.9 139.6 158.0 139.3 158.1 138.9 158.2 138.5 158.3 138.1 158.4 137.7 158.5 137.3 158.6 137.0 158.6 136.7 158.6 136.3 158.7 135.9 158.8 135.5 158.8 135.1 158.8 134.7 158.9 134.3 158.9 133.9 158.9 133.5 158.9 133.1 158.9 132.7 158.9 132.3 158.9 131.9 158.8 131.6 158.8 131.3 158.8 130.9 158.7 130.5 158.7 130.1 158.6 129.7 158.6 129.3 158.5 128.9 158.4 128.5 158.3 128.1 158.2 127.7 158.1 127.3 158.0 126.9 157.9 126.6 157.8 126.3 157.7 126.0 157.6 125.7 157.5 125.4 157.4 125.1 157.3 124.8 157.2 124.5 157.1 124.1 157.0 123.7 156.9 123.4 156.8 123.1 156.7 122.7 156.6 122.3 156.5 121.9 156.4 121.5 156.3 121.1 156.3 120.8 156.2 120.5 156.1 120.1 156.0 119.7 155.9 119.3 155.8 118.9 155.7 118.5 155.5 118.2 155.4 117.9 155.3 117.5 155.1 117.1 154.9 116.7 154.6 116.4 154.4 116.1 154.2 116.1 154.2"/>
<path stroke="#a1a1a1" d="M116.1 149.3 116.3 149.1 116.5 148.8 116.7 148.6 116.9 148.4 117.1 148.3 117.5 148.0 117.9 147.8 118.3 147.6 118.7 147.5 119.1 147.3 119.5 147.2 119.9 147.1 120.3 147.1 120.7 147.0 121.1 147.0 121.5 147.0 121.9 147.0 122.3 147.0 122.7 147.0 123.1 147.1 123.5 147.1 123.9 147.1 124.3 147.2 124.7 147.2 125.1 147.3 125.5 147.3 125.9 147.4 126.3 147.4 126.7 147.4 127.1 147.4 127.5 147.4 127.9 147.4 128.3 147.3 128.7 147.3 129.1 147.2 129.5 147.2 129.9 147.1 130.3 147.1 130.7 147.0 131.1 147.0 131.5 146.9 131.9 146.9 132.3 146.9 132.7 146.9 133.1 146.8 133.5 146.8 133.9 146.8 134.3 146.9 134.7 146.9 135.1 146.9 135.5 147.0 135.9 147.0 136.3 147.1 136.7 147.1 137.1 147.2 137.5 147.3 137.9 147.4 138.3 147.5 138.7 147.6 139.1 147.7 139.5 147.9 139.8 148.0 140.1 148.1 140.5 148.3 140.9 148.5 141.3 148.8 141.7 149.0 141.9 149.2 142.1 149.3 142.3 149.5 142.5 149.7 142.7 149.9 142.9 150.1 143.1 150.4 143.3 150.6 143.5 151.0 143.7 151.4 143.8 151.8 143.8 152.2 143.8 152.6 143.8 153.0 143.7 153.3 143.6 153.6 143.4 154.0 143.1 154.4 143.0 154.6 142.8 154.8 142.6 155.0 142.4 155.2 142.2 155.4 141.9 155.6 141.7 155.8 141.4 156.0 141.1 156.2 140.7 156.4 140.3 156.6 139.9 156.8 139.5 156.9 139.1 157.1 138.7 157.2 138.3 157.3 138.0 157.4 137.7 157.5 137.3 157.6 136.9 157.6 136.5 157.7 136.1 157.8 135.7 157.8 135.3 157.9 134.9 157.9 134.5 157.9 134.1 157.9 133.7 158.0 133.3 158.0 132.9 157.9 132.5 157.9 132.1 157.9 131.7 157.9 131.3 157.8 130.9 157.8 130.5 157.7 130.1 157.6 129.8 157.6 129.5 157.5 129.1 157.4 128.7 157.3 128.3 157.2 127.9 157.1 127.5 157.0 127.1 156.9 126.7 156.7 126.3 156.6 125.9 156.5 125.6 156.4 125.3 156.3 125.0 156.2 124.7 156.1 124.3 156.0 123.9 155.9 123.5 155.8 123.1 155.8 122.7 155.7 122.3 155.6 121.9 155.6 121.5 155.5 121.1 155.4 120.7 155.3 120.3 155.2 119.9 155.1 119.5 155.0 119.1 154.9 118.7 154.7 118.4 154.6 118.1 154.4 117.7 154.2 117.4 154.0 117.1 153.8 116.9 153.6 116.7 153.5 116.5 153.2 116.3 153.0 116.1 152.8 116.1 152.7"/>
<path stroke="#969696" d="M133.5 156.6 133.1 156.6 132.7 156.6 132.3 156.6 131.9 156.5 131.5 156.5 131.1 156.4 130.7 156.3 130.3 156.3 129.9 156.2 129.5 156.1 129.1 155.9 128.7 155.8 128.3 155.7 128.0 155.6 127.7 155.5 127.4 155.4 127.1 155.3 126.8 155.2 126.5 155.1 126.1 155.0 125.7 154.9 125.3 154.9 124.9 154.8 124.5 154.7 124.1 154.7 123.7 154.7 123.3 154.6 123.0 154.6 122.7 154.6 122.3 154.5 121.9 154.5 121.5 154.4 121.1 154.4 120.7 154.3 120.4 154.2 120.1 154.1 119.7 154.0 119.5 153.9 119.2 153.8 118.9 153.6 118.5 153.4 118.2 153.2 118.0 153.0 117.7 152.8 117.6 152.6 117.4 152.4 117.2 152.0 117.0 151.6 117.0 151.2 117.0 150.8 117.1 150.4 117.2 150.0 117.5 149.6 117.7 149.4 117.9 149.2 118.1 149.0 118.3 148.8 118.7 148.6 119.1 148.4 119.5 148.3 119.8 148.2 120.1 148.1 120.5 148.0 120.9 148.0 121.3 148.0 121.7 148.0 122.1 148.0 122.5 148.0 122.9 148.0 123.3 148.1 123.7 148.2 124.0 148.2 124.3 148.3 124.7 148.3 125.0 148.4 125.3 148.5 125.7 148.5 126.1 148.6 126.5 148.7 126.9 148.7 127.3 148.7 127.7 148.7 128.1 148.7 128.5 148.7 128.9 148.6 129.3 148.6 129.5 148.6 129.9 148.5 130.3 148.5 130.7 148.4 131.1 148.3 131.5 148.3 131.9 148.3 132.3 148.2 132.7 148.2 133.0 148.2 133.3 148.2 133.7 148.2 134.1 148.2 134.5 148.2 134.9 148.3 135.3 148.3 135.7 148.4 136.1 148.4 136.5 148.5 136.8 148.6 137.1 148.7 137.5 148.8 137.9 148.9 138.3 149.1 138.6 149.2 138.9 149.4 139.3 149.6 139.6 149.8 139.9 150.0 140.1 150.2 140.3 150.3 140.5 150.5 140.7 150.8 140.9 151.0 141.1 151.4 141.2 151.8 141.3 152.2 141.3 152.6 141.2 153.0 141.1 153.4 141.0 153.6 140.7 154.0 140.6 154.2 140.4 154.4 140.2 154.6 139.9 154.8 139.7 155.0 139.3 155.2 139.1 155.3 138.7 155.5 138.3 155.7 137.9 155.9 137.5 156.0 137.1 156.1 136.8 156.2 136.5 156.3 136.1 156.4 135.7 156.4 135.3 156.5 134.9 156.5 134.5 156.6 134.1 156.6 133.7 156.6Z"/>
<path stroke="#8c8c8c" d="M123.5 152.8 123.1 152.9 122.7 152.9 122.3 152.9 121.9 152.9 121.5 152.9 121.1 152.8 120.7 152.7 120.3 152.5 120.1 152.4 119.8 152.2 119.5 152.0 119.4 151.8 119.2 151.4 119.1 151.0 119.2 150.6 119.5 150.2 119.7 150.0 120.0 149.8 120.3 149.7 120.7 149.6 121.1 149.5 121.5 149.4 121.9 149.4 122.3 149.5 122.7 149.5 123.0 149.6 123.3 149.7 123.6 149.8 123.9 149.9 124.3 150.1 124.7 150.4 124.9 150.5 125.1 150.7 125.3 150.9 125.5 151.2 125.5 151.6 125.3 152.0 125.1 152.2 124.9 152.3 124.5 152.5 124.1 152.7 123.7 152.8Z"/>
<path stroke="none" fill="#000" fill-opacity="0.05" d="M138.7 158.8 138.3 158.8 137.9 158.8 137.5 158.8 137.1 158.8 136.7 158.8 136.3 158.7 135.9 158.7 135.5 158.6 135.1 158.4 134.7 158.3 134.4 158.2 134.1 158.1 133.7 157.9 133.3 157.6 132.9 157.4 132.7 157.2 132.5 157.1 132.3 156.9 132.1 156.7 131.9 156.5 131.7 156.3 131.5 156.1 131.3 155.8 131.1 155.5 130.9 155.2 130.8 154.8 130.6 154.4 130.5 154.0 130.4 153.6 130.4 153.2 130.4 152.8 130.4 152.4 130.5 152.0 130.6 151.6 130.7 151.3 130.8 151.0 131.0 150.6 131.3 150.2 131.4 150.0 131.6 149.8 131.8 149.6 132.0 149.4 132.2 149.2 132.4 149.0 132.7 148.8 132.9 148.6 133.2 148.4 133.5 148.2 133.9 148.0 134.3 147.8 134.7 147.7 135.0 147.6 135.3 147.5 135.7 147.4 136.1 147.3 136.5 147.2 136.9 147.2 137.3 147.2 137.7 147.2 138.1 147.2 138.5 147.2 138.9 147.2 139.3 147.3 139.7 147.3 140.1 147.4 140.5 147.6 140.9 147.7 141.2 147.8 141.5 147.9 141.9 148.1 142.3 148.4 142.7 148.6 142.9 148.8 143.1 148.9 143.3 149.1 143.5 149.3 143.7 149.5 143.9 149.7 144.1 149.9 144.3 150.2 144.5 150.5 144.7 150.8 144.8 151.2 145.0 151.6 145.1 152.0 145.2 152.4 145.2 152.8 145.2 153.2 145.2 153.6 145.1 154.0 145.0 154.4 144.9 154.7 144.8 155.0 144.6 155.4 144.3 155.8 144.2 156.0 144.0 156.2 143.8 156.4 143.6 156.6 143.4 156.8 143.2 157.0 142.9 157.2 142.7 157.4 142.4 157.6 142.1 157.8 141.7 158.0 141.3 158.2 140.9 158.3 140.6 158.4 140.3 158.5 139.9 158.6 139.5 158.7 139.1 158.8 138.7 158.8Z"/>
<path stroke="none" fill="#000" fill-opacity="0.05" d="M138.7 158.2 138.3 158.3 137.9 158.3 137.5 158.3 137.1 158.2 136.7 158.2 136.3 158.1 135.9 158.1 135.5 157.9 135.1 157.8 134.7 157.7 134.3 157.5 133.9 157.3 133.5 157.0 133.2 156.8 132.9 156.6 132.7 156.4 132.5 156.2 132.3 156.0 132.1 155.8 132.0 155.6 131.7 155.2 131.5 154.8 131.4 154.4 131.2 154.0 131.2 153.6 131.1 153.2 131.1 152.8 131.2 152.4 131.2 152.0 131.4 151.6 131.5 151.3 131.6 151.0 131.9 150.6 132.1 150.3 132.3 150.0 132.5 149.8 132.7 149.6 132.9 149.4 133.1 149.3 133.3 149.1 133.7 148.8 134.1 148.6 134.5 148.4 134.9 148.3 135.3 148.1 135.7 148.0 136.1 147.9 136.5 147.8 136.9 147.8 137.3 147.7 137.7 147.7 138.1 147.7 138.5 147.8 138.9 147.8 139.3 147.9 139.7 147.9 140.1 148.1 140.5 148.2 140.9 148.3 141.3 148.5 141.7 148.7 142.1 149.0 142.4 149.2 142.7 149.4 142.9 149.6 143.1 149.8 143.3 150.0 143.5 150.2 143.6 150.4 143.9 150.8 144.1 151.2 144.2 151.6 144.4 152.0 144.4 152.4 144.5 152.8 144.5 153.2 144.4 153.6 144.4 154.0 144.2 154.4 144.1 154.7 144.0 155.0 143.7 155.4 143.5 155.7 143.3 156.0 143.1 156.2 142.9 156.4 142.7 156.6 142.5 156.7 142.3 156.9 141.9 157.2 141.5 157.4 141.1 157.6 140.7 157.7 140.3 157.9 139.9 158.0 139.5 158.1 139.1 158.2Z"/>
<path stroke="none" fill="#000" fill-opacity="0.05" d="M138.3 157.6 137.9 157.6 137.5 157.6 137.2 157.6 136.9 157.6 136.5 157.5 136.1 157.4 135.7 157.3 135.3 157.2 135.1 157.1 134.9 157.0 134.5 156.8 134.1 156.6 133.9 156.5 133.6 156.2 133.3 156.0 133.1 155.8 133.0 155.6 132.8 155.4 132.5 155.0 132.3 154.6 132.1 154.2 132.0 153.8 132.0 153.4 131.9 153.0 132.0 152.6 132.0 152.2 132.1 151.9 132.2 151.6 132.4 151.2 132.6 150.8 132.9 150.5 133.1 150.2 133.3 150.0 133.5 149.9 133.7 149.7 134.1 149.4 134.5 149.2 134.7 149.1 135.1 148.9 135.3 148.8 135.7 148.7 136.0 148.6 136.3 148.5 136.7 148.5 137.1 148.4 137.5 148.4 137.9 148.4 138.3 148.4 138.7 148.4 139.1 148.5 139.5 148.6 139.9 148.7 140.3 148.8 140.5 148.9 140.7 149.0 141.1 149.2 141.5 149.4 141.7 149.5 142.0 149.8 142.3 150.0 142.5 150.2 142.6 150.4 142.8 150.6 143.1 151.0 143.3 151.4 143.5 151.8 143.6 152.2 143.6 152.6 143.7 153.0 143.6 153.4 143.6 153.8 143.5 154.1 143.4 154.4 143.2 154.8 143.0 155.2 142.7 155.5 142.5 155.8 142.3 156.0 142.1 156.1 141.9 156.3 141.5 156.6 141.1 156.8 140.9 156.9 140.5 157.1 140.3 157.2 139.9 157.3 139.6 157.4 139.3 157.5 138.9 157.5 138.5 157.6Z"/>
<path stroke="none" fill="#000" fill-opacity="0.06" d="M138.7 156.8 138.3 156.9 137.9 156.9 137.5 156.9 137.1 156.8 136.8 156.8 136.5 156.7 136.1 156.6 135.7 156.5 135.4 156.4 135.1 156.2 134.7 156.0 134.4 155.8 134.2 155.6 133.9 155.4 133.8 155.2 133.6 155.0 133.3 154.6 133.1 154.2 133.0 153.8 132.9 153.4 132.9 153.0 132.9 152.7 132.9 152.4 133.1 152.0 133.2 151.6 133.4 151.2 133.7 150.9 133.9 150.6 134.1 150.4 134.3 150.3 134.5 150.1 134.9 149.9 135.3 149.7 135.7 149.5 136.0 149.4 136.3 149.3 136.7 149.2 137.1 149.2 137.5 149.1 137.9 149.1 138.3 149.1 138.7 149.2 139.1 149.3 139.5 149.4 139.9 149.5 140.2 149.6 140.5 149.8 140.9 150.0 141.2 150.2 141.4 150.4 141.7 150.6 141.8 150.8 142.0 151.0 142.3 151.4 142.5 151.8 142.6 152.2 142.7 152.6 142.7 153.0 142.7 153.3 142.7 153.6 142.5 154.0 142.4 154.4 142.2 154.8 141.9 155.1 141.7 155.4 141.5 155.6 141.3 155.7 141.1 155.9 140.7 156.1 140.3 156.3 139.9 156.5 139.6 156.6 139.3 156.7 138.9 156.8Z"/>
<path stroke="none" fill="#000" fill-opacity="0.06" d="M138.9 155.8 138.5 155.9 138.1 155.9 137.7 155.9 137.3 155.9 136.9 155.9 136.6 155.8 136.3 155.7 136.0 155.6 135.7 155.4 135.3 155.2 135.1 155.0 134.9 154.9 134.7 154.6 134.5 154.4 134.3 154.0 134.1 153.6 134.1 153.2 134.1 152.8 134.1 152.4 134.3 152.0 134.5 151.6 134.7 151.4 134.8 151.2 135.1 151.0 135.3 150.8 135.6 150.6 135.9 150.5 136.3 150.3 136.6 150.2 136.9 150.1 137.3 150.1 137.7 150.1 138.1 150.1 138.5 150.1 138.9 150.2 139.3 150.3 139.6 150.4 139.9 150.6 140.3 150.8 140.5 151.0 140.7 151.1 140.9 151.4 141.1 151.6 141.3 152.0 141.5 152.4 141.5 152.8 141.5 153.2 141.5 153.6 141.3 154.0 141.1 154.4 140.9 154.6 140.8 154.8 140.5 155.0 140.3 155.2 140.0 155.4 139.7 155.5 139.3 155.7 139.0 155.8Z"/>
<path stroke="none" fill="#fff" fill-opacity="0.7" d="M138.1 154.0 137.7 154.1 137.4 154.0 137.1 153.9 136.7 153.6 136.5 153.2 136.5 152.8 136.7 152.4 136.9 152.2 137.3 152.0 137.7 151.9 138.1 152.0 138.5 152.1 138.9 152.4 139.1 152.8 139.1 153.2 138.9 153.6 138.7 153.8 138.3 154.0Z"/>
<path stroke="#9c9c9c" d="M138.7 158.8 138.3 158.8 137.9 158.8 137.5 158.8 137.1 158.8 136.7 158.8 136.3 158.7 135.9 158.7 135.5 158.6 135.1 158.4 134.7 158.3 134.4 158.2 134.1 158.1 133.7 157.9 133.3 157.6 132.9 157.4 132.7 157.2 132.5 157.1 132.3 156.9 132.1 156.7 131.9 156.5 131.7 156.3 131.5 156.1 131.3 155.8 131.1 155.5 130.9 155.2 130.8 154.8 130.6 154.4 130.5 154.0 130.4 153.6 130.4 153.2 130.4 152.8 130.4 152.4 130.5 152.0 130.6 151.6 130.7 151.3 130.8 151.0 131.0 150.6 131.3 150.2 131.4 150.0 131.6 149.8 131.8 149.6 132.0 149.4 132.2 149.2 132.4 149.0 132.7 148.8 132.9 148.6 133.2 148.4 133.5 148.2 133.9 148.0 134.3 147.8 134.7 147.7 135.0 147.6 135.3 147.5 135.7 147.4 136.1 147.3 136.5 147.2 136.9 147.2 137.3 147.2 137.7 147.2 138.1 147.2 138.5 147.2 138.9 147.2 139.3 147.3 139.7 147.3 140.1 147.4 140.5 147.6 140.9 147.7 141.2 147.8 141.5 147.9 141.9 148.1 142.3 148.4 142.7 148.6 142.9 148.8 143.1 148.9 143.3 149.1 143.5 149.3 143.7 149.5 143.9 149.7 144.1 149.9 144.3 150.2 144.5 150.5 144.7 150.8 144.8 151.2 145.0 151.6 145.1 152.0 145.2 152.4 145.2 152.8 145.2 153.2 145.2 153.6 145.1 154.0 145.0 154.4 144.9 154.7 144.8 155.0 144.6 155.4 144.3 155.8 144.2 156.0 144.0 156.2 143.8 156.4 143.6 156.6 143.4 156.8 143.2 157.0 142.9 157.2 142.7 157.4 142.4 157.6 142.1 157.8 141.7 158.0 141.3 158.2 140.9 158.3 140.6 158.4 140.3 158.5 139.9 158.6 139.5 158.7 139.1 158.8 138.7 158.8Z"/>
<path stroke="#909090" d="M138.7 158.2 138.3 158.3 137.9 158.3 137.5 158.3 137.1 158.2 136.7 158.2 136.3 158.1 135.9 158.1 135.5 157.9 135.1 157.8 134.7 157.7 134.3 157.5 133.9 157.3 133.5 157.0 133.2 156.8 132.9 156.6 132.7 156.4 132.5 156.2 132.3 156.0 132.1 155.8 132.0 155.6 131.7 155.2 131.5 154.8 131.4 154.4 131.2 154.0 131.2 153.6 131.1 153.2 131.1 152.8 131.2 152.4 131.2 152.0 131.4 151.6 131.5 151.3 131.6 151.0 131.9 150.6 132.1 150.3 132.3 150.0 132.5 149.8 132.7 149.6 132.9 149.4 133.1 149.3 133.3 149.1 133.7 148.8 134.1 148.6 134.5 148.4 134.9 148.3 135.3 148.1 135.7 148.0 136.1 147.9 136.5 147.8 136.9 147.8 137.3 147.7 137.7 147.7 138.1 147.7 138.5 147.8 138.9 147.8 139.3 147.9 139.7 147.9 140.1 148.1 140.5 148.2 140.9 148.3 141.3 148.5 141.7 148.7 142.1 149.0 142.4 149.2 142.7 149.4 142.9 149.6 143.1 149.8 143.3 150.0 143.5 150.2 143.6 150.4 143.9 150.8 144.1 151.2 144.2 151.6 144.4 152.0 144.4 152.4 144.5 152.8 144.5 153.2 144.4 153.6 144.4 154.0 144.2 154.4 144.1 154.7 144.0 155.0 143.7 155.4 143.5 155.7 143.3 156.0 143.1 156.2 142.9 156.4 142.7 156.6 142.5 156.7 142.3 156.9 141.9 157.2 141.5 157.4 141.1 157.6 140.7 157.7 140.3 157.9 139.9 158.0 139.5 158.1 139.1 158.2Z"/>
<path stroke="#848484" d="M138.3 157.6 137.9 157.6 137.5 157.6 137.2 157.6 136.9 157.6 136.5 157.5 136.1 157.4 135.7 157.3 135.3 157.2 135.1 157.1 134.9 157.0 134.5 156.8 134.1 156.6 133.9 156.5 133.6 156.2 133.3 156.0 133.1 155.8 133.0 155.6 132.8 155.4 132.5 155.0 132.3 154.6 132.1 154.2 132.0 153.8 132.0 153.4 131.9 153.0 132.0 152.6 132.0 152.2 132.1 151.9 132.2 151.6 132.4 151.2 132.6 150.8 132.9 150.5 133.1 150.2 133.3 150.0 133.5 149.9 133.7 149.7 134.1 149.4 134.5 149.2 134.7 149.1 135.1 148.9 135.3 148.8 135.7 148.7 136.0 148.6 136.3 148.5 136.7 148.5 137.1 148.4 137.5 148.4 137.9 148.4 138.3 148.4 138.7 148.4 139.1 148.5 139.5 148.6 139.9 148.7 140.3 148.8 140.5 148.9 140.7 149.0 141.1 149.2 141.5 149.4 141.7 149.5 142.0 149.8 142.3 150.0 142.5 150.2 142.6 150.4 142.8 150.6 143.1 151.0 143.3 151.4 143.5 151.8 143.6 152.2 143.6 152.6 143.7 153.0 143.6 153.4 143.6 153.8 143.5 154.1 143.4 154.4 143.2 154.8 143.0 155.2 142.7 155.5 142.5 155.8 142.3 156.0 142.1 156.1 141.9 156.3 141.5 156.6 141.1 156.8 140.9 156.9 140.5 157.1 140.3 157.2 139.9 157.3 139.6 157.4 139.3 157.5 138.9 157.5 138.5 157.6Z"/>
<path stroke="#787878" d="M138.7 156.8 138.3 156.9 137.9 156.9 137.5 156.9 137.1 156.8 136.8 156.8 136.5 156.7 136.1 156.6 135.7 156.5 135.4 156.4 135.1 156.2 134.7 156.0 134.4 155.8 134.2 155.6 133.9 155.4 133.8 155.2 133.6 155.0 133.3 154.6 133.1 154.2 133.0 153.8 132.9 153.4 132.9 153.0 132.9 152.7 132.9 152.4 133.1 152.0 133.2 151.6 133.4 151.2 133.7 150.9 133.9 150.6 134.1 150.4 134.3 150.3 134.5 150.1 134.9 149.9 135.3 149.7 135.7 149.5 136.0 149.4 136.3 149.3 136.7 149.2 137.1 149.2 137.5 149.1 137.9 149.1 138.3 149.1 138.7 149.2 139.1 149.3 139.5 149.4 139.9 149.5 140.2 149.6 140.5 149.8 140.9 150.0 141.2 150.2 141.4 150.4 141.7 150.6 141.8 150.8 142.0 151.0 142.3 151.4 142.5 151.8 142.6 152.2 142.7 152.6 142.7 153.0 142.7 153.3 142.7 153.6 142.5 154.0 142.4 154.4 142.2 154.8 141.9 155.1 141.7 155.4 141.5 155.6 141.3 155.7 141.1 155.9 140.7 156.1 140.3 156.3 139.9 156.5 139.6 156.6 139.3 156.7 138.9 156.8Z"/>
<path stroke="#6c6c6c" d="M138.9 155.8 138.5 155.9 138.1 155.9 137.7 155.9 137.3 155.9 136.9 155.9 136.6 155.8 136.3 155.7 136.0 155.6 135.7 155.4 135.3 155.2 135.1 155.0 134.9 154.9 134.7 154.6 134.5 154.4 134.3 154.0 134.1 153.6 134.1 153.2 134.1 152.8 134.1 152.4 134.3 152.0 134.5 151.6 134.7 151.4 134.8 151.2 135.1 151.0 135.3 150.8 135.6 150.6 135.9 150.5 136.3 150.3 136.6 150.2 136.9 150.1 137.3 150.1 137.7 150.1 138.1 150.1 138.5 150.1 138.9 150.2 139.3 150.3 139.6 150.4 139.9 150.6 140.3 150.8 140.5 151.0 140.7 151.1 140.9 151.4 141.1 151.6 141.3 152.0 141.5 152.4 141.5 152.8 141.5 153.2 141.5 153.6 141.3 154.0 141.1 154.4 140.9 154.6 140.8 154.8 140.5 155.0 140.3 155.2 140.0 155.4 139.7 155.5 139.3 155.7 139.0 155.8Z"/>
<path stroke="#606060" d="M138.5 154.4 138.1 154.5 137.7 154.5 137.3 154.5 137.1 154.4 136.7 154.2 136.4 154.0 136.2 153.8 135.9 153.4 135.9 153.0 135.9 152.6 136.1 152.3 136.3 152.1 136.5 151.9 136.9 151.7 137.3 151.5 137.7 151.5 138.1 151.5 138.5 151.6 138.9 151.8 139.2 152.0 139.4 152.2 139.7 152.6 139.7 153.0 139.7 153.4 139.5 153.7 139.3 153.9 139.1 154.1 138.7 154.3Z"/>
<path stroke="none" fill="#000" fill-opacity="0.1" d="M118.3 153.6 117.9 153.5 117.7 153.3 117.5 153.0 117.4 152.8 117.2 152.4 117.1 152.1 117.0 151.8 117.0 151.4 116.9 151.0 116.9 150.6 116.9 150.2 116.9 149.8 117.0 149.4 117.1 149.0 117.2 148.6 117.3 148.3 117.5 148.0 117.7 147.7 117.9 147.5 118.3 147.4 118.7 147.5 118.9 147.7 119.1 148.0 119.2 148.2 119.4 148.6 119.5 148.9 119.6 149.2 119.6 149.6 119.7 150.0 119.7 150.4 119.7 150.8 119.7 151.2 119.6 151.6 119.5 152.0 119.4 152.4 119.3 152.7 119.1 153.0 118.9 153.3 118.7 153.5 118.3 153.6Z"/>
<path stroke="none" fill="#000" fill-opacity="0.1" d="M118.5 152.1 118.1 152.1 117.9 151.9 117.7 151.6 117.6 151.2 117.6 150.8 117.5 150.4 117.6 150.0 117.7 149.6 117.8 149.2 118.1 148.9 118.5 148.9 118.7 149.1 118.9 149.4 119.0 149.8 119.0 150.2 119.1 150.6 119.0 151.0 118.9 151.4 118.8 151.8Z"/>
<path stroke="#9a9a9a" d="M118.3 153.6 117.9 153.5 117.7 153.3 117.5 153.0 117.4 152.8 117.2 152.4 117.1 152.1 117.0 151.8 117.0 151.4 116.9 151.0 116.9 150.6 116.9 150.2 116.9 149.8 117.0 149.4 117.1 149.0 117.2 148.6 117.3 148.3 117.5 148.0 117.7 147.7 117.9 147.5 118.3 147.4 118.7 147.5 118.9 147.7 119.1 148.0 119.2 148.2 119.4 148.6 119.5 148.9 119.6 149.2 119.6 149.6 119.7 150.0 119.7 150.4 119.7 150.8 119.7 151.2 119.6 151.6 119.5 152.0 119.4 152.4 119.3 152.7 119.1 153.0 118.9 153.3 118.7 153.5 118.3 153.6Z"/>
<path stroke="#909090" d="M118.5 152.1 118.1 152.1 117.9 151.9 117.7 151.6 117.6 151.2 117.6 150.8 117.5 150.4 117.6 150.0 117.7 149.6 117.8 149.2 118.1 148.9 118.5 148.9 118.7 149.1 118.9 149.4 119.0 149.8 119.0 150.2 119.1 150.6 119.0 151.0 118.9 151.4 118.8 151.8Z"/>
</g>
<rect x="38.6" y="30.4" width="57.4" height="57.3" fill="none" stroke="#c4c4c4" stroke-width="0.7"/>
<rect x="116.1" y="30.4" width="57.8" height="57.3" fill="none" stroke="#c4c4c4" stroke-width="0.7"/>
<rect x="38.6" y="107" width="57.4" height="57.2" fill="none" stroke="#c4c4c4" stroke-width="0.7"/>
<rect x="116.1" y="107" width="57.8" height="57.2" fill="none" stroke="#c4c4c4" stroke-width="0.7"/>
<rect x="39.3" y="43.3" width="21.3" height="18.8" fill="none" stroke="#686868" stroke-width="0.95"/>
<rect x="116.6" y="43.3" width="21" height="19" fill="none" stroke="#686868" stroke-width="0.95"/>
<rect x="38.9" y="125.3" width="17.6" height="21.6" fill="none" stroke="#686868" stroke-width="0.95"/>
<rect x="57.9" y="146.2" width="12.8" height="18" fill="none" stroke="#686868" stroke-width="0.95"/>
<rect x="116.6" y="125" width="17.9" height="21.9" fill="none" stroke="#686868" stroke-width="0.95"/>
<rect x="135" y="146.1" width="13.5" height="18.1" fill="none" stroke="#686868" stroke-width="0.95"/>
<text x="79.6" y="51.88" font-size="5.8" text-anchor="middle" fill="#333" stroke="#333" stroke-width="0.22">13</text>
<text x="156" y="51.88" font-size="5.8" text-anchor="middle" fill="#333" stroke="#333" stroke-width="0.22">32</text>
<text x="47.9" y="123.48" font-size="5.8" text-anchor="middle" fill="#333" stroke="#333" stroke-width="0.22">8</text>
<text x="79.3" y="158.58" font-size="5.8" text-anchor="middle" fill="#333" stroke="#333" stroke-width="0.22">72</text>
<text x="124.3" y="122.98" font-size="5.8" text-anchor="middle" fill="#333" stroke="#333" stroke-width="0.22">10</text>
<text x="156" y="158.08" font-size="5.8" text-anchor="middle" fill="#333" stroke="#333" stroke-width="0.22">34</text>
<text x="33.4" y="39.9" font-size="5.6" text-anchor="end" fill="#333" stroke="#333" stroke-width="0.08">10<tspan font-size="3.7" dy="-3.25" font-weight="bold">5</tspan></text>
<text x="33.4" y="54.2" font-size="5.6" text-anchor="end" fill="#333" stroke="#333" stroke-width="0.08">10<tspan font-size="3.7" dy="-3.25" font-weight="bold">4</tspan></text>
<text x="33.4" y="68.5" font-size="5.6" text-anchor="end" fill="#333" stroke="#333" stroke-width="0.08">10<tspan font-size="3.7" dy="-3.25" font-weight="bold">3</tspan></text>
<text x="33.4" y="82.5" font-size="5.6" text-anchor="end" fill="#333" stroke="#333" stroke-width="0.08">10<tspan font-size="3.7" dy="-3.25" font-weight="bold">2</tspan></text>
<text x="33.4" y="116.7" font-size="5.6" text-anchor="end" fill="#333" stroke="#333" stroke-width="0.08">10<tspan font-size="3.7" dy="-3.25" font-weight="bold">5</tspan></text>
<text x="33.4" y="131.4" font-size="5.6" text-anchor="end" fill="#333" stroke="#333" stroke-width="0.08">10<tspan font-size="3.7" dy="-3.25" font-weight="bold">4</tspan></text>
<text x="33.4" y="145.6" font-size="5.6" text-anchor="end" fill="#333" stroke="#333" stroke-width="0.08">10<tspan font-size="3.7" dy="-3.25" font-weight="bold">3</tspan></text>
<text x="33.4" y="160.1" font-size="5.6" text-anchor="end" fill="#333" stroke="#333" stroke-width="0.08">10<tspan font-size="3.7" dy="-3.25" font-weight="bold">2</tspan></text>
<text x="110.9" y="39.9" font-size="5.6" text-anchor="end" fill="#333" stroke="#333" stroke-width="0.08">10<tspan font-size="3.7" dy="-3.25" font-weight="bold">5</tspan></text>
<text x="110.9" y="54.2" font-size="5.6" text-anchor="end" fill="#333" stroke="#333" stroke-width="0.08">10<tspan font-size="3.7" dy="-3.25" font-weight="bold">4</tspan></text>
<text x="110.9" y="68.5" font-size="5.6" text-anchor="end" fill="#333" stroke="#333" stroke-width="0.08">10<tspan font-size="3.7" dy="-3.25" font-weight="bold">3</tspan></text>
<text x="110.9" y="82.5" font-size="5.6" text-anchor="end" fill="#333" stroke="#333" stroke-width="0.08">10<tspan font-size="3.7" dy="-3.25" font-weight="bold">2</tspan></text>
<text x="110.9" y="116.7" font-size="5.6" text-anchor="end" fill="#333" stroke="#333" stroke-width="0.08">10<tspan font-size="3.7" dy="-3.25" font-weight="bold">5</tspan></text>
<text x="110.9" y="131.4" font-size="5.6" text-anchor="end" fill="#333" stroke="#333" stroke-width="0.08">10<tspan font-size="3.7" dy="-3.25" font-weight="bold">4</tspan></text>
<text x="110.9" y="145.6" font-size="5.6" text-anchor="end" fill="#333" stroke="#333" stroke-width="0.08">10<tspan font-size="3.7" dy="-3.25" font-weight="bold">3</tspan></text>
<text x="110.9" y="160.1" font-size="5.6" text-anchor="end" fill="#333" stroke="#333" stroke-width="0.08">10<tspan font-size="3.7" dy="-3.25" font-weight="bold">2</tspan></text>
<text x="46.8" y="98.5" font-size="5.6" text-anchor="middle" fill="#333" stroke="#333" stroke-width="0.08">10<tspan font-size="3.7" dy="-3.25" font-weight="bold">2</tspan></text>
<text x="46.8" y="175" font-size="5.6" text-anchor="middle" fill="#333" stroke="#333" stroke-width="0.08">10<tspan font-size="3.7" dy="-3.25" font-weight="bold">2</tspan></text>
<text x="61.15" y="98.5" font-size="5.6" text-anchor="middle" fill="#333" stroke="#333" stroke-width="0.08">10<tspan font-size="3.7" dy="-3.25" font-weight="bold">3</tspan></text>
<text x="61.15" y="175" font-size="5.6" text-anchor="middle" fill="#333" stroke="#333" stroke-width="0.08">10<tspan font-size="3.7" dy="-3.25" font-weight="bold">3</tspan></text>
<text x="75.5" y="98.5" font-size="5.6" text-anchor="middle" fill="#333" stroke="#333" stroke-width="0.08">10<tspan font-size="3.7" dy="-3.25" font-weight="bold">4</tspan></text>
<text x="75.5" y="175" font-size="5.6" text-anchor="middle" fill="#333" stroke="#333" stroke-width="0.08">10<tspan font-size="3.7" dy="-3.25" font-weight="bold">4</tspan></text>
<text x="89.9" y="98.5" font-size="5.6" text-anchor="middle" fill="#333" stroke="#333" stroke-width="0.08">10<tspan font-size="3.7" dy="-3.25" font-weight="bold">5</tspan></text>
<text x="89.9" y="175" font-size="5.6" text-anchor="middle" fill="#333" stroke="#333" stroke-width="0.08">10<tspan font-size="3.7" dy="-3.25" font-weight="bold">5</tspan></text>
<text x="124.3" y="98.5" font-size="5.6" text-anchor="middle" fill="#333" stroke="#333" stroke-width="0.08">10<tspan font-size="3.7" dy="-3.25" font-weight="bold">2</tspan></text>
<text x="124.3" y="175" font-size="5.6" text-anchor="middle" fill="#333" stroke="#333" stroke-width="0.08">10<tspan font-size="3.7" dy="-3.25" font-weight="bold">2</tspan></text>
<text x="138.65" y="98.5" font-size="5.6" text-anchor="middle" fill="#333" stroke="#333" stroke-width="0.08">10<tspan font-size="3.7" dy="-3.25" font-weight="bold">3</tspan></text>
<text x="138.65" y="175" font-size="5.6" text-anchor="middle" fill="#333" stroke="#333" stroke-width="0.08">10<tspan font-size="3.7" dy="-3.25" font-weight="bold">3</tspan></text>
<text x="153" y="98.5" font-size="5.6" text-anchor="middle" fill="#333" stroke="#333" stroke-width="0.08">10<tspan font-size="3.7" dy="-3.25" font-weight="bold">4</tspan></text>
<text x="153" y="175" font-size="5.6" text-anchor="middle" fill="#333" stroke="#333" stroke-width="0.08">10<tspan font-size="3.7" dy="-3.25" font-weight="bold">4</tspan></text>
<text x="167.4" y="98.5" font-size="5.6" text-anchor="middle" fill="#333" stroke="#333" stroke-width="0.08">10<tspan font-size="3.7" dy="-3.25" font-weight="bold">5</tspan></text>
<text x="167.4" y="175" font-size="5.6" text-anchor="middle" fill="#333" stroke="#333" stroke-width="0.08">10<tspan font-size="3.7" dy="-3.25" font-weight="bold">5</tspan></text>
<line x1="37.3" y1="37.9" x2="38.8" y2="37.9" stroke="#4a4a4a" stroke-width="0.8"/>
<line x1="37.3" y1="52.2" x2="38.8" y2="52.2" stroke="#4a4a4a" stroke-width="0.8"/>
<line x1="37.3" y1="66.5" x2="38.8" y2="66.5" stroke="#4a4a4a" stroke-width="0.8"/>
<line x1="37.3" y1="80.5" x2="38.8" y2="80.5" stroke="#4a4a4a" stroke-width="0.8"/>
<line x1="37.8" y1="47.93" x2="38.7" y2="47.93" stroke="#888" stroke-width="0.6"/>
<line x1="37.8" y1="42.27" x2="38.7" y2="42.27" stroke="#888" stroke-width="0.6"/>
<line x1="37.8" y1="62.23" x2="38.7" y2="62.23" stroke="#888" stroke-width="0.6"/>
<line x1="37.8" y1="56.57" x2="38.7" y2="56.57" stroke="#888" stroke-width="0.6"/>
<line x1="37.8" y1="76.23" x2="38.7" y2="76.23" stroke="#888" stroke-width="0.6"/>
<line x1="37.8" y1="70.57" x2="38.7" y2="70.57" stroke="#888" stroke-width="0.6"/>
<line x1="46.9" y1="87.5" x2="46.9" y2="89" stroke="#4a4a4a" stroke-width="0.8"/>
<line x1="61.25" y1="87.5" x2="61.25" y2="89" stroke="#4a4a4a" stroke-width="0.8"/>
<line x1="75.6" y1="87.5" x2="75.6" y2="89" stroke="#4a4a4a" stroke-width="0.8"/>
<line x1="90" y1="87.5" x2="90" y2="89" stroke="#4a4a4a" stroke-width="0.8"/>
<line x1="42.57" y1="87.6" x2="42.57" y2="88.6" stroke="#888" stroke-width="0.6"/>
<line x1="51.23" y1="87.6" x2="51.23" y2="88.6" stroke="#888" stroke-width="0.6"/>
<line x1="56.97" y1="87.6" x2="56.97" y2="88.6" stroke="#888" stroke-width="0.6"/>
<line x1="65.58" y1="87.6" x2="65.58" y2="88.6" stroke="#888" stroke-width="0.6"/>
<line x1="71.32" y1="87.6" x2="71.32" y2="88.6" stroke="#888" stroke-width="0.6"/>
<line x1="79.93" y1="87.6" x2="79.93" y2="88.6" stroke="#888" stroke-width="0.6"/>
<line x1="85.67" y1="87.6" x2="85.67" y2="88.6" stroke="#888" stroke-width="0.6"/>
<line x1="114.8" y1="37.9" x2="116.3" y2="37.9" stroke="#4a4a4a" stroke-width="0.8"/>
<line x1="114.8" y1="52.2" x2="116.3" y2="52.2" stroke="#4a4a4a" stroke-width="0.8"/>
<line x1="114.8" y1="66.5" x2="116.3" y2="66.5" stroke="#4a4a4a" stroke-width="0.8"/>
<line x1="114.8" y1="80.5" x2="116.3" y2="80.5" stroke="#4a4a4a" stroke-width="0.8"/>
<line x1="115.3" y1="47.93" x2="116.2" y2="47.93" stroke="#888" stroke-width="0.6"/>
<line x1="115.3" y1="42.27" x2="116.2" y2="42.27" stroke="#888" stroke-width="0.6"/>
<line x1="115.3" y1="62.23" x2="116.2" y2="62.23" stroke="#888" stroke-width="0.6"/>
<line x1="115.3" y1="56.57" x2="116.2" y2="56.57" stroke="#888" stroke-width="0.6"/>
<line x1="115.3" y1="76.23" x2="116.2" y2="76.23" stroke="#888" stroke-width="0.6"/>
<line x1="115.3" y1="70.57" x2="116.2" y2="70.57" stroke="#888" stroke-width="0.6"/>
<line x1="124.4" y1="87.5" x2="124.4" y2="89" stroke="#4a4a4a" stroke-width="0.8"/>
<line x1="138.75" y1="87.5" x2="138.75" y2="89" stroke="#4a4a4a" stroke-width="0.8"/>
<line x1="153.1" y1="87.5" x2="153.1" y2="89" stroke="#4a4a4a" stroke-width="0.8"/>
<line x1="167.5" y1="87.5" x2="167.5" y2="89" stroke="#4a4a4a" stroke-width="0.8"/>
<line x1="120.07" y1="87.6" x2="120.07" y2="88.6" stroke="#888" stroke-width="0.6"/>
<line x1="128.73" y1="87.6" x2="128.73" y2="88.6" stroke="#888" stroke-width="0.6"/>
<line x1="134.47" y1="87.6" x2="134.47" y2="88.6" stroke="#888" stroke-width="0.6"/>
<line x1="143.08" y1="87.6" x2="143.08" y2="88.6" stroke="#888" stroke-width="0.6"/>
<line x1="148.82" y1="87.6" x2="148.82" y2="88.6" stroke="#888" stroke-width="0.6"/>
<line x1="157.43" y1="87.6" x2="157.43" y2="88.6" stroke="#888" stroke-width="0.6"/>
<line x1="163.17" y1="87.6" x2="163.17" y2="88.6" stroke="#888" stroke-width="0.6"/>
<line x1="37.3" y1="114.7" x2="38.8" y2="114.7" stroke="#4a4a4a" stroke-width="0.8"/>
<line x1="37.3" y1="129.4" x2="38.8" y2="129.4" stroke="#4a4a4a" stroke-width="0.8"/>
<line x1="37.3" y1="143.6" x2="38.8" y2="143.6" stroke="#4a4a4a" stroke-width="0.8"/>
<line x1="37.3" y1="158.1" x2="38.8" y2="158.1" stroke="#4a4a4a" stroke-width="0.8"/>
<line x1="37.8" y1="125.13" x2="38.7" y2="125.13" stroke="#888" stroke-width="0.6"/>
<line x1="37.8" y1="119.47" x2="38.7" y2="119.47" stroke="#888" stroke-width="0.6"/>
<line x1="37.8" y1="139.33" x2="38.7" y2="139.33" stroke="#888" stroke-width="0.6"/>
<line x1="37.8" y1="133.67" x2="38.7" y2="133.67" stroke="#888" stroke-width="0.6"/>
<line x1="37.8" y1="153.83" x2="38.7" y2="153.83" stroke="#888" stroke-width="0.6"/>
<line x1="37.8" y1="148.17" x2="38.7" y2="148.17" stroke="#888" stroke-width="0.6"/>
<line x1="46.9" y1="164" x2="46.9" y2="165.5" stroke="#4a4a4a" stroke-width="0.8"/>
<line x1="61.25" y1="164" x2="61.25" y2="165.5" stroke="#4a4a4a" stroke-width="0.8"/>
<line x1="75.6" y1="164" x2="75.6" y2="165.5" stroke="#4a4a4a" stroke-width="0.8"/>
<line x1="90" y1="164" x2="90" y2="165.5" stroke="#4a4a4a" stroke-width="0.8"/>
<line x1="42.57" y1="164.1" x2="42.57" y2="165.1" stroke="#888" stroke-width="0.6"/>
<line x1="51.23" y1="164.1" x2="51.23" y2="165.1" stroke="#888" stroke-width="0.6"/>
<line x1="56.97" y1="164.1" x2="56.97" y2="165.1" stroke="#888" stroke-width="0.6"/>
<line x1="65.58" y1="164.1" x2="65.58" y2="165.1" stroke="#888" stroke-width="0.6"/>
<line x1="71.32" y1="164.1" x2="71.32" y2="165.1" stroke="#888" stroke-width="0.6"/>
<line x1="79.93" y1="164.1" x2="79.93" y2="165.1" stroke="#888" stroke-width="0.6"/>
<line x1="85.67" y1="164.1" x2="85.67" y2="165.1" stroke="#888" stroke-width="0.6"/>
<line x1="114.8" y1="114.7" x2="116.3" y2="114.7" stroke="#4a4a4a" stroke-width="0.8"/>
<line x1="114.8" y1="129.4" x2="116.3" y2="129.4" stroke="#4a4a4a" stroke-width="0.8"/>
<line x1="114.8" y1="143.6" x2="116.3" y2="143.6" stroke="#4a4a4a" stroke-width="0.8"/>
<line x1="114.8" y1="158.1" x2="116.3" y2="158.1" stroke="#4a4a4a" stroke-width="0.8"/>
<line x1="115.3" y1="125.13" x2="116.2" y2="125.13" stroke="#888" stroke-width="0.6"/>
<line x1="115.3" y1="119.47" x2="116.2" y2="119.47" stroke="#888" stroke-width="0.6"/>
<line x1="115.3" y1="139.33" x2="116.2" y2="139.33" stroke="#888" stroke-width="0.6"/>
<line x1="115.3" y1="133.67" x2="116.2" y2="133.67" stroke="#888" stroke-width="0.6"/>
<line x1="115.3" y1="153.83" x2="116.2" y2="153.83" stroke="#888" stroke-width="0.6"/>
<line x1="115.3" y1="148.17" x2="116.2" y2="148.17" stroke="#888" stroke-width="0.6"/>
<line x1="124.4" y1="164" x2="124.4" y2="165.5" stroke="#4a4a4a" stroke-width="0.8"/>
<line x1="138.75" y1="164" x2="138.75" y2="165.5" stroke="#4a4a4a" stroke-width="0.8"/>
<line x1="153.1" y1="164" x2="153.1" y2="165.5" stroke="#4a4a4a" stroke-width="0.8"/>
<line x1="167.5" y1="164" x2="167.5" y2="165.5" stroke="#4a4a4a" stroke-width="0.8"/>
<line x1="120.07" y1="164.1" x2="120.07" y2="165.1" stroke="#888" stroke-width="0.6"/>
<line x1="128.73" y1="164.1" x2="128.73" y2="165.1" stroke="#888" stroke-width="0.6"/>
<line x1="134.47" y1="164.1" x2="134.47" y2="165.1" stroke="#888" stroke-width="0.6"/>
<line x1="143.08" y1="164.1" x2="143.08" y2="165.1" stroke="#888" stroke-width="0.6"/>
<line x1="148.82" y1="164.1" x2="148.82" y2="165.1" stroke="#888" stroke-width="0.6"/>
<line x1="157.43" y1="164.1" x2="157.43" y2="165.1" stroke="#888" stroke-width="0.6"/>
<line x1="163.17" y1="164.1" x2="163.17" y2="165.1" stroke="#888" stroke-width="0.6"/>
<line x1="19.3" y1="76.8" x2="19.3" y2="36.5" stroke="#000" stroke-width="1.4"/>
<path d="M19.3 29.8 L16.2 37 L22.4 37 Z" fill="#000"/>
<line x1="18.9" y1="146.4" x2="18.9" y2="113.9" stroke="#000" stroke-width="1.4"/>
<path d="M18.9 107.2 L15.8 114.4 L22 114.4 Z" fill="#000"/>
<text x="22.4" y="89.2" font-size="7.8" text-anchor="middle" fill="#111" stroke="#111" stroke-width="0.22" textLength="19" lengthAdjust="spacingAndGlyphs" transform="rotate(-90 22.4 89.2)">CD19</text>
<text x="22" y="159" font-size="7.8" text-anchor="middle" fill="#111" stroke="#111" stroke-width="0.22" textLength="19" lengthAdjust="spacingAndGlyphs" transform="rotate(-90 22 159)">CD56</text>
<text x="43.2" y="184.77" font-size="8.3" text-anchor="middle" fill="#111" stroke="#111" stroke-width="0.22" textLength="14.5" lengthAdjust="spacingAndGlyphs">CD3</text>
<line x1="53" y1="182.5" x2="170" y2="182.5" stroke="#000" stroke-width="1.4"/>
<path d="M176.6 182.5 L168.2 179.2 L168.2 185.8 Z" fill="#000"/>
<line x1="230.6" y1="53.3" x2="230.6" y2="151" stroke="#000" stroke-width="1.35"/>
<line x1="227.2" y1="150.3" x2="370.8" y2="150.3" stroke="#000" stroke-width="1.35"/>
<line x1="227.3" y1="150.3" x2="230.6" y2="150.3" stroke="#000" stroke-width="1.1"/>
<text x="224.5" y="152.41" font-size="5.9" text-anchor="end" stroke="#1f1f1f" stroke-width="0.22" textLength="3.6" lengthAdjust="spacingAndGlyphs">0</text>
<line x1="227.3" y1="127" x2="230.6" y2="127" stroke="#000" stroke-width="1.1"/>
<text x="224.5" y="129.11" font-size="5.9" text-anchor="end" stroke="#1f1f1f" stroke-width="0.22" textLength="6.4" lengthAdjust="spacingAndGlyphs">25</text>
<line x1="227.3" y1="103.7" x2="230.6" y2="103.7" stroke="#000" stroke-width="1.1"/>
<text x="224.5" y="105.81" font-size="5.9" text-anchor="end" stroke="#1f1f1f" stroke-width="0.22" textLength="6.4" lengthAdjust="spacingAndGlyphs">50</text>
<line x1="227.3" y1="80.4" x2="230.6" y2="80.4" stroke="#000" stroke-width="1.1"/>
<text x="224.5" y="82.51" font-size="5.9" text-anchor="end" stroke="#1f1f1f" stroke-width="0.22" textLength="6.4" lengthAdjust="spacingAndGlyphs">75</text>
<line x1="227.3" y1="57.1" x2="230.6" y2="57.1" stroke="#000" stroke-width="1.1"/>
<text x="224.5" y="59.21" font-size="5.9" text-anchor="end" stroke="#1f1f1f" stroke-width="0.22" textLength="9.8" lengthAdjust="spacingAndGlyphs">100</text>
<text x="208.2" y="101.8" font-size="8.2" text-anchor="middle" stroke="#1f1f1f" stroke-width="0.22" textLength="68.5" lengthAdjust="spacingAndGlyphs" transform="rotate(-90 208.2 101.8)">Remaining cells (%)</text>
<rect x="239.1" y="57.1" width="11.8" height="93.2" fill="#d08e80"/>
<rect x="256.9" y="77.42" width="11.6" height="72.88" fill="#8d97c0"/>
<circle cx="242.5" cy="56.7" r="2.4" fill="#a80028"/>
<circle cx="245" cy="56.7" r="2.4" fill="#a80028"/>
<circle cx="247.5" cy="56.7" r="2.4" fill="#a80028"/>
<circle cx="259.7" cy="61.5" r="2.3" fill="#263c6e"/>
<circle cx="265.5" cy="65.4" r="2.3" fill="#263c6e"/>
<circle cx="262.7" cy="105" r="2.3" fill="#263c6e"/>
<line x1="253.8" y1="150.3" x2="253.8" y2="152.9" stroke="#000" stroke-width="1.1"/>
<text x="253.8" y="161.99" font-size="6.4" text-anchor="middle" stroke="#1f1f1f" stroke-width="0.22">B cells</text>
<rect x="286.1" y="57.1" width="11.8" height="93.2" fill="#d08e80"/>
<rect x="303.9" y="126.72" width="11.6" height="23.58" fill="#8d97c0"/>
<circle cx="289.5" cy="56.7" r="2.4" fill="#a80028"/>
<circle cx="292" cy="56.7" r="2.4" fill="#a80028"/>
<circle cx="294.5" cy="56.7" r="2.4" fill="#a80028"/>
<circle cx="309.4" cy="117.6" r="2.3" fill="#263c6e"/>
<circle cx="312.7" cy="128.8" r="2.3" fill="#263c6e"/>
<circle cx="306.5" cy="135" r="2.3" fill="#263c6e"/>
<line x1="300.8" y1="150.3" x2="300.8" y2="152.9" stroke="#000" stroke-width="1.1"/>
<text x="300.8" y="161.99" font-size="6.4" text-anchor="middle" stroke="#1f1f1f" stroke-width="0.22">NK cells</text>
<rect x="333.2" y="57.1" width="11.8" height="93.2" fill="#d08e80"/>
<rect x="351" y="135.39" width="11.6" height="14.91" fill="#8d97c0"/>
<circle cx="336.6" cy="56.7" r="2.4" fill="#a80028"/>
<circle cx="339.1" cy="56.7" r="2.4" fill="#a80028"/>
<circle cx="341.6" cy="56.7" r="2.4" fill="#a80028"/>
<circle cx="356.5" cy="119.6" r="2.3" fill="#263c6e"/>
<circle cx="359.4" cy="141.3" r="2.3" fill="#263c6e"/>
<circle cx="353.3" cy="144.2" r="2.3" fill="#263c6e"/>
<line x1="347.9" y1="150.3" x2="347.9" y2="152.9" stroke="#000" stroke-width="1.1"/>
<text x="347.9" y="161.99" font-size="6.4" text-anchor="middle" stroke="#1f1f1f" stroke-width="0.22">T cells</text>
<line x1="244.5" y1="47" x2="262.8" y2="47" stroke="#000" stroke-width="1.25"/>
<text x="253.8" y="44.9" font-size="5.6" text-anchor="middle" stroke="#1f1f1f" stroke-width="0.22">ns</text>
<line x1="289.9" y1="47" x2="308.4" y2="47" stroke="#000" stroke-width="1.25"/>
<line x1="337" y1="47" x2="355.5" y2="47" stroke="#000" stroke-width="1.25"/>
<text x="299.8" y="46.5" font-size="6.8" text-anchor="middle" stroke="#1f1f1f" stroke-width="0.22">***</text>
<text x="346.8" y="46.5" font-size="6.8" text-anchor="middle" stroke="#1f1f1f" stroke-width="0.22">***</text>
<rect x="374" y="93" width="10.6" height="6.2" fill="#a80028"/>
<rect x="374" y="106.5" width="10.6" height="6.2" fill="#2d4d7e"/>
<text x="387.5" y="99.08" font-size="5.8" stroke="#1f1f1f" stroke-width="0.22" textLength="40.4" lengthAdjust="spacingAndGlyphs">CD7<tspan font-size="3.77" dy="-2.44">KO</tspan><tspan dy="2.44"> Ctrl CAR</tspan></text>
<text x="387.5" y="112.28" font-size="5.8" stroke="#1f1f1f" stroke-width="0.22" textLength="42.3" lengthAdjust="spacingAndGlyphs">CD7<tspan font-size="3.77" dy="-2.44">KO</tspan><tspan dy="2.44"> CD7 CAR</tspan></text>
<text x="112.65" y="219.5" font-size="8.6" text-anchor="middle" font-weight="bold" fill="#000" stroke="#000" stroke-width="0.1" textLength="34.3" lengthAdjust="spacingAndGlyphs">Donor A</text>
<text x="266.3" y="219.5" font-size="8.6" text-anchor="middle" font-weight="bold" fill="#000" stroke="#000" stroke-width="0.1" textLength="33.6" lengthAdjust="spacingAndGlyphs">Donor B</text>
<text x="420.65" y="219.5" font-size="8.6" text-anchor="middle" font-weight="bold" fill="#000" stroke="#000" stroke-width="0.1" textLength="33.9" lengthAdjust="spacingAndGlyphs">Donor C</text>
<line x1="45.7" y1="224.1" x2="45.7" y2="292.5" stroke="#000" stroke-width="1.35"/>
<line x1="42.7" y1="291.9" x2="179.1" y2="291.9" stroke="#000" stroke-width="1.35"/>
<line x1="42.7" y1="292" x2="45.7" y2="292" stroke="#000" stroke-width="1.1"/>
<text x="40.2" y="294.22" font-size="6.2" text-anchor="end" stroke="#1f1f1f" stroke-width="0.22" textLength="3.7" lengthAdjust="spacingAndGlyphs">0</text>
<line x1="42.7" y1="283.91" x2="45.7" y2="283.91" stroke="#000" stroke-width="1.1"/>
<text x="40.2" y="286.13" font-size="6.2" text-anchor="end" stroke="#1f1f1f" stroke-width="0.22" textLength="7.2" lengthAdjust="spacingAndGlyphs">50</text>
<line x1="42.7" y1="275.82" x2="45.7" y2="275.82" stroke="#000" stroke-width="1.1"/>
<text x="40.2" y="278.04" font-size="6.2" text-anchor="end" stroke="#1f1f1f" stroke-width="0.22" textLength="11" lengthAdjust="spacingAndGlyphs">100</text>
<line x1="42.7" y1="267.73" x2="45.7" y2="267.73" stroke="#000" stroke-width="1.1"/>
<text x="40.2" y="269.95" font-size="6.2" text-anchor="end" stroke="#1f1f1f" stroke-width="0.22" textLength="11" lengthAdjust="spacingAndGlyphs">150</text>
<line x1="42.7" y1="259.64" x2="45.7" y2="259.64" stroke="#000" stroke-width="1.1"/>
<text x="40.2" y="261.86" font-size="6.2" text-anchor="end" stroke="#1f1f1f" stroke-width="0.22" textLength="11" lengthAdjust="spacingAndGlyphs">200</text>
<line x1="42.7" y1="251.55" x2="45.7" y2="251.55" stroke="#000" stroke-width="1.1"/>
<text x="40.2" y="253.77" font-size="6.2" text-anchor="end" stroke="#1f1f1f" stroke-width="0.22" textLength="11" lengthAdjust="spacingAndGlyphs">250</text>
<line x1="42.7" y1="243.46" x2="45.7" y2="243.46" stroke="#000" stroke-width="1.1"/>
<text x="40.2" y="245.68" font-size="6.2" text-anchor="end" stroke="#1f1f1f" stroke-width="0.22" textLength="11" lengthAdjust="spacingAndGlyphs">300</text>
<line x1="42.7" y1="235.37" x2="45.7" y2="235.37" stroke="#000" stroke-width="1.1"/>
<text x="40.2" y="237.59" font-size="6.2" text-anchor="end" stroke="#1f1f1f" stroke-width="0.22" textLength="11" lengthAdjust="spacingAndGlyphs">350</text>
<line x1="42.7" y1="227.28" x2="45.7" y2="227.28" stroke="#000" stroke-width="1.1"/>
<text x="40.2" y="229.5" font-size="6.2" text-anchor="end" stroke="#1f1f1f" stroke-width="0.22" textLength="11" lengthAdjust="spacingAndGlyphs">400</text>
<text x="24" y="257.8" font-size="8.2" text-anchor="middle" stroke="#1f1f1f" stroke-width="0.22" textLength="57.8" lengthAdjust="spacingAndGlyphs" transform="rotate(-90 24 257.8)">SFC / 1x10<tspan font-size="5.6" dy="-3.3">5</tspan><tspan dy="3.3"> cells</tspan></text>
<rect x="63.65" y="245.61" width="8.9" height="46.29" fill="#a80028"/>
<rect x="75.85" y="243.04" width="8.9" height="48.86" fill="#2d4d7e"/>
<rect x="108.25" y="247.1" width="8.9" height="44.8" fill="#a80028"/>
<rect x="120.45" y="248.88" width="8.9" height="43.02" fill="#2d4d7e"/>
<rect x="140.95" y="290.06" width="8.9" height="1.84" fill="#542366"/>
<rect x="153.05" y="255.03" width="8.9" height="36.87" fill="#a80028"/>
<rect x="165.25" y="265.95" width="8.9" height="25.95" fill="#2d4d7e"/>
<text x="68.1" y="303.52" font-size="6.2" text-anchor="middle" stroke="#1f1f1f" stroke-width="0.22" textLength="13.2" lengthAdjust="spacingAndGlyphs">NTR</text>
<text x="112.5" y="303.32" font-size="6.2" text-anchor="middle" stroke="#1f1f1f" stroke-width="0.22" textLength="18.8" lengthAdjust="spacingAndGlyphs">CD7<tspan font-size="3.9" dy="-3.1">KO</tspan></text>
<text x="157.3" y="303.32" font-size="6.2" text-anchor="middle" stroke="#1f1f1f" stroke-width="0.22" textLength="18.8" lengthAdjust="spacingAndGlyphs">CD7<tspan font-size="3.9" dy="-3.1">KO</tspan></text>
<text x="112.7" y="311.52" font-size="6.2" text-anchor="middle" stroke="#1f1f1f" stroke-width="0.22" textLength="13.2" lengthAdjust="spacingAndGlyphs">NTR</text>
<text x="157.5" y="311.52" font-size="6.2" text-anchor="middle" stroke="#1f1f1f" stroke-width="0.22" textLength="28" lengthAdjust="spacingAndGlyphs">CD7 CAR</text>
<line x1="68.1" y1="291.9" x2="68.1" y2="294.7" stroke="#000" stroke-width="1.1"/>
<line x1="112.7" y1="291.9" x2="112.7" y2="294.7" stroke="#000" stroke-width="1.1"/>
<line x1="157.5" y1="291.9" x2="157.5" y2="294.7" stroke="#000" stroke-width="1.1"/>
<line x1="199.6" y1="224.6" x2="199.6" y2="245.5" stroke="#000" stroke-width="1.35"/>
<line x1="199.6" y1="250.6" x2="199.6" y2="292.5" stroke="#000" stroke-width="1.35"/>
<line x1="196.9" y1="245.5" x2="202.7" y2="245.5" stroke="#000" stroke-width="1.3"/>
<line x1="196.9" y1="250.6" x2="202.7" y2="250.6" stroke="#000" stroke-width="1.3"/>
<line x1="197" y1="291.9" x2="332.3" y2="291.9" stroke="#000" stroke-width="1.35"/>
<line x1="196.7" y1="244.8" x2="199.6" y2="244.8" stroke="#000" stroke-width="1.1"/>
<text x="193.2" y="247.02" font-size="6.2" text-anchor="end" stroke="#1f1f1f" stroke-width="0.22" textLength="11" lengthAdjust="spacingAndGlyphs">150</text>
<line x1="196.7" y1="239" x2="199.6" y2="239" stroke="#000" stroke-width="1.1"/>
<text x="193.2" y="241.22" font-size="6.2" text-anchor="end" stroke="#1f1f1f" stroke-width="0.22" textLength="11" lengthAdjust="spacingAndGlyphs">200</text>
<line x1="196.7" y1="233.2" x2="199.6" y2="233.2" stroke="#000" stroke-width="1.1"/>
<text x="193.2" y="235.42" font-size="6.2" text-anchor="end" stroke="#1f1f1f" stroke-width="0.22" textLength="11" lengthAdjust="spacingAndGlyphs">250</text>
<line x1="196.7" y1="227.4" x2="199.6" y2="227.4" stroke="#000" stroke-width="1.1"/>
<text x="193.2" y="229.62" font-size="6.2" text-anchor="end" stroke="#1f1f1f" stroke-width="0.22" textLength="11" lengthAdjust="spacingAndGlyphs">300</text>
<line x1="196.7" y1="292" x2="199.6" y2="292" stroke="#000" stroke-width="1.1"/>
<text x="193.2" y="294.22" font-size="6.2" text-anchor="end" stroke="#1f1f1f" stroke-width="0.22" textLength="3.7" lengthAdjust="spacingAndGlyphs">0</text>
<line x1="196.7" y1="281.75" x2="199.6" y2="281.75" stroke="#000" stroke-width="1.1"/>
<text x="193.2" y="283.97" font-size="6.2" text-anchor="end" stroke="#1f1f1f" stroke-width="0.22" textLength="3.7" lengthAdjust="spacingAndGlyphs">5</text>
<line x1="196.7" y1="271.5" x2="199.6" y2="271.5" stroke="#000" stroke-width="1.1"/>
<text x="193.2" y="273.72" font-size="6.2" text-anchor="end" stroke="#1f1f1f" stroke-width="0.22" textLength="7.2" lengthAdjust="spacingAndGlyphs">10</text>
<line x1="196.7" y1="261.25" x2="199.6" y2="261.25" stroke="#000" stroke-width="1.1"/>
<text x="193.2" y="263.47" font-size="6.2" text-anchor="end" stroke="#1f1f1f" stroke-width="0.22" textLength="7.2" lengthAdjust="spacingAndGlyphs">15</text>
<text x="193.2" y="253.22" font-size="6.2" text-anchor="end" stroke="#1f1f1f" stroke-width="0.22" textLength="7.2" lengthAdjust="spacingAndGlyphs">20</text>
<rect x="217.75" y="233.3" width="8.9" height="12.5" fill="#a80028"/>
<rect x="217.75" y="250.4" width="8.9" height="41.5" fill="#a80028"/>
<rect x="229.85" y="273.1" width="8.9" height="18.8" fill="#2d4d7e"/>
<rect x="262.05" y="235.8" width="8.9" height="10" fill="#a80028"/>
<rect x="262.05" y="250.4" width="8.9" height="41.5" fill="#a80028"/>
<rect x="274.15" y="273" width="8.9" height="18.9" fill="#2d4d7e"/>
<rect x="294.25" y="269.2" width="8.9" height="22.7" fill="#542366"/>
<rect x="306.35" y="230.3" width="8.9" height="15.5" fill="#a80028"/>
<rect x="306.35" y="250.4" width="8.9" height="41.5" fill="#a80028"/>
<rect x="318.45" y="269.2" width="8.9" height="22.7" fill="#2d4d7e"/>
<text x="222.2" y="303.52" font-size="6.2" text-anchor="middle" stroke="#1f1f1f" stroke-width="0.22" textLength="13.2" lengthAdjust="spacingAndGlyphs">NTR</text>
<text x="266.3" y="303.32" font-size="6.2" text-anchor="middle" stroke="#1f1f1f" stroke-width="0.22" textLength="18.8" lengthAdjust="spacingAndGlyphs">CD7<tspan font-size="3.9" dy="-3.1">KO</tspan></text>
<text x="310.6" y="303.32" font-size="6.2" text-anchor="middle" stroke="#1f1f1f" stroke-width="0.22" textLength="18.8" lengthAdjust="spacingAndGlyphs">CD7<tspan font-size="3.9" dy="-3.1">KO</tspan></text>
<text x="266.5" y="311.52" font-size="6.2" text-anchor="middle" stroke="#1f1f1f" stroke-width="0.22" textLength="13.2" lengthAdjust="spacingAndGlyphs">NTR</text>
<text x="310.8" y="311.52" font-size="6.2" text-anchor="middle" stroke="#1f1f1f" stroke-width="0.22" textLength="28" lengthAdjust="spacingAndGlyphs">CD7 CAR</text>
<line x1="222.2" y1="291.9" x2="222.2" y2="294.7" stroke="#000" stroke-width="1.1"/>
<line x1="266.5" y1="291.9" x2="266.5" y2="294.7" stroke="#000" stroke-width="1.1"/>
<line x1="310.8" y1="291.9" x2="310.8" y2="294.7" stroke="#000" stroke-width="1.1"/>
<line x1="353.2" y1="223.6" x2="353.2" y2="292.5" stroke="#000" stroke-width="1.35"/>
<line x1="350.5" y1="291.9" x2="489" y2="291.9" stroke="#000" stroke-width="1.35"/>
<line x1="350.3" y1="292" x2="353.2" y2="292" stroke="#000" stroke-width="1.1"/>
<text x="347.2" y="294.22" font-size="6.2" text-anchor="end" stroke="#1f1f1f" stroke-width="0.22" textLength="3.7" lengthAdjust="spacingAndGlyphs">0</text>
<line x1="350.3" y1="278.85" x2="353.2" y2="278.85" stroke="#000" stroke-width="1.1"/>
<text x="347.2" y="281.07" font-size="6.2" text-anchor="end" stroke="#1f1f1f" stroke-width="0.22" textLength="7.2" lengthAdjust="spacingAndGlyphs">50</text>
<line x1="350.3" y1="265.7" x2="353.2" y2="265.7" stroke="#000" stroke-width="1.1"/>
<text x="347.2" y="267.92" font-size="6.2" text-anchor="end" stroke="#1f1f1f" stroke-width="0.22" textLength="11" lengthAdjust="spacingAndGlyphs">100</text>
<line x1="350.3" y1="252.55" x2="353.2" y2="252.55" stroke="#000" stroke-width="1.1"/>
<text x="347.2" y="254.77" font-size="6.2" text-anchor="end" stroke="#1f1f1f" stroke-width="0.22" textLength="11" lengthAdjust="spacingAndGlyphs">150</text>
<line x1="350.3" y1="239.4" x2="353.2" y2="239.4" stroke="#000" stroke-width="1.1"/>
<text x="347.2" y="241.62" font-size="6.2" text-anchor="end" stroke="#1f1f1f" stroke-width="0.22" textLength="11" lengthAdjust="spacingAndGlyphs">200</text>
<line x1="350.3" y1="226.25" x2="353.2" y2="226.25" stroke="#000" stroke-width="1.1"/>
<text x="347.2" y="228.47" font-size="6.2" text-anchor="end" stroke="#1f1f1f" stroke-width="0.22" textLength="11" lengthAdjust="spacingAndGlyphs">250</text>
<rect x="371.25" y="237.9" width="8.9" height="54" fill="#a80028"/>
<rect x="383.75" y="259.2" width="8.9" height="32.7" fill="#2d4d7e"/>
<rect x="416.35" y="239.8" width="8.9" height="52.1" fill="#a80028"/>
<rect x="428.85" y="280.1" width="8.9" height="11.8" fill="#2d4d7e"/>
<rect x="449.15" y="289.4" width="8.9" height="2.5" fill="#542366"/>
<rect x="461.25" y="275" width="8.9" height="16.9" fill="#a80028"/>
<rect x="473.75" y="280.1" width="8.9" height="11.8" fill="#2d4d7e"/>
<text x="375.7" y="303.52" font-size="6.2" text-anchor="middle" stroke="#1f1f1f" stroke-width="0.22" textLength="13.2" lengthAdjust="spacingAndGlyphs">NTR</text>
<text x="420.6" y="303.32" font-size="6.2" text-anchor="middle" stroke="#1f1f1f" stroke-width="0.22" textLength="18.8" lengthAdjust="spacingAndGlyphs">CD7<tspan font-size="3.9" dy="-3.1">KO</tspan></text>
<text x="465.5" y="303.32" font-size="6.2" text-anchor="middle" stroke="#1f1f1f" stroke-width="0.22" textLength="18.8" lengthAdjust="spacingAndGlyphs">CD7<tspan font-size="3.9" dy="-3.1">KO</tspan></text>
<text x="420.8" y="311.52" font-size="6.2" text-anchor="middle" stroke="#1f1f1f" stroke-width="0.22" textLength="13.2" lengthAdjust="spacingAndGlyphs">NTR</text>
<text x="465.7" y="311.52" font-size="6.2" text-anchor="middle" stroke="#1f1f1f" stroke-width="0.22" textLength="28" lengthAdjust="spacingAndGlyphs">CD7 CAR</text>
<line x1="375.7" y1="291.9" x2="375.7" y2="294.7" stroke="#000" stroke-width="1.1"/>
<line x1="420.8" y1="291.9" x2="420.8" y2="294.7" stroke="#000" stroke-width="1.1"/>
<line x1="465.7" y1="291.9" x2="465.7" y2="294.7" stroke="#000" stroke-width="1.1"/>
<rect x="437.4" y="225.65" width="7.2" height="3.3" fill="#542366"/>
<text x="447.7" y="229.27" font-size="5.5" stroke="#1f1f1f" stroke-width="0.22" textLength="28.7" lengthAdjust="spacingAndGlyphs">Neg Control</text>
<rect x="437.4" y="235.45" width="7.2" height="3.3" fill="#a80028"/>
<text x="447.7" y="239.07" font-size="5.5" stroke="#1f1f1f" stroke-width="0.22" textLength="29.3" lengthAdjust="spacingAndGlyphs">Pos. Control</text>
<rect x="437.4" y="245.45" width="7.2" height="3.3" fill="#2d4d7e"/>
<text x="447.7" y="249.07" font-size="5.5" stroke="#1f1f1f" stroke-width="0.22" textLength="53.6" lengthAdjust="spacingAndGlyphs">CMV/EBV/Adv pepmix</text>
<line x1="45.9" y1="345.2" x2="45.9" y2="424.1" stroke="#000" stroke-width="1.35"/>
<line x1="43.2" y1="423.6" x2="158.7" y2="423.6" stroke="#000" stroke-width="1.35"/>
<line x1="42.9" y1="423.6" x2="45.9" y2="423.6" stroke="#000" stroke-width="1.1"/>
<text x="39.6" y="425.82" font-size="6.2" text-anchor="end" stroke="#1f1f1f" stroke-width="0.22" textLength="3.44" lengthAdjust="spacingAndGlyphs">0</text>
<line x1="42.9" y1="411.05" x2="45.9" y2="411.05" stroke="#000" stroke-width="1.1"/>
<text x="39.6" y="413.27" font-size="6.2" text-anchor="end" stroke="#1f1f1f" stroke-width="0.22" textLength="10.23" lengthAdjust="spacingAndGlyphs">100</text>
<line x1="42.9" y1="398.5" x2="45.9" y2="398.5" stroke="#000" stroke-width="1.1"/>
<text x="39.6" y="400.72" font-size="6.2" text-anchor="end" stroke="#1f1f1f" stroke-width="0.22" textLength="10.23" lengthAdjust="spacingAndGlyphs">200</text>
<line x1="42.9" y1="385.95" x2="45.9" y2="385.95" stroke="#000" stroke-width="1.1"/>
<text x="39.6" y="388.17" font-size="6.2" text-anchor="end" stroke="#1f1f1f" stroke-width="0.22" textLength="10.23" lengthAdjust="spacingAndGlyphs">300</text>
<line x1="42.9" y1="373.4" x2="45.9" y2="373.4" stroke="#000" stroke-width="1.1"/>
<text x="39.6" y="375.62" font-size="6.2" text-anchor="end" stroke="#1f1f1f" stroke-width="0.22" textLength="10.23" lengthAdjust="spacingAndGlyphs">400</text>
<line x1="42.9" y1="360.85" x2="45.9" y2="360.85" stroke="#000" stroke-width="1.1"/>
<text x="39.6" y="363.07" font-size="6.2" text-anchor="end" stroke="#1f1f1f" stroke-width="0.22" textLength="10.23" lengthAdjust="spacingAndGlyphs">500</text>
<line x1="42.9" y1="348.3" x2="45.9" y2="348.3" stroke="#000" stroke-width="1.1"/>
<text x="39.6" y="350.52" font-size="6.2" text-anchor="end" stroke="#1f1f1f" stroke-width="0.22" textLength="10.23" lengthAdjust="spacingAndGlyphs">600</text>
<text x="24" y="383.9" font-size="8.2" text-anchor="middle" stroke="#1f1f1f" stroke-width="0.22" textLength="58.2" lengthAdjust="spacingAndGlyphs" transform="rotate(-90 24 383.9)">SFC / 1x10<tspan font-size="5.6" dy="-3.3">5</tspan><tspan dy="3.3"> cells</tspan></text>
<rect x="57" y="394" width="6" height="29.6" fill="#d08e80"/>
<rect x="65" y="416.2" width="6" height="7.4" fill="#8d97c0"/>
<rect x="58.2" y="387" width="3.2" height="3.2" fill="#a80028"/>
<rect x="60.9" y="393.2" width="3.2" height="3.2" fill="#a80028"/>
<rect x="57" y="397.1" width="3.2" height="3.2" fill="#a80028"/>
<path d="M67.6 407.8 L66 410.8 L69.2 410.8 Z" fill="#1e3060"/>
<path d="M68.6 418.6 L67 421.6 L70.2 421.6 Z" fill="#1e3060"/>
<path d="M68 419.8 L66.4 422.8 L69.6 422.8 Z" fill="#1e3060"/>
<circle cx="52.3" cy="423.4" r="1.5" fill="#3c2150"/>
<line x1="60" y1="423.6" x2="60" y2="426.2" stroke="#000" stroke-width="1.1"/>
<rect x="85.2" y="390.9" width="6" height="32.7" fill="#d08e80"/>
<rect x="93.2" y="411.8" width="6" height="11.8" fill="#8d97c0"/>
<rect x="86.7" y="383.1" width="3.2" height="3.2" fill="#a80028"/>
<rect x="84.9" y="392.9" width="3.2" height="3.2" fill="#a80028"/>
<rect x="88.7" y="392.9" width="3.2" height="3.2" fill="#a80028"/>
<path d="M96 400 L94.4 403 L97.6 403 Z" fill="#1e3060"/>
<path d="M96 413.2 L94.4 416.2 L97.6 416.2 Z" fill="#1e3060"/>
<path d="M96 419.3 L94.4 422.3 L97.6 422.3 Z" fill="#1e3060"/>
<circle cx="80.5" cy="423.4" r="1.5" fill="#3c2150"/>
<line x1="88.2" y1="423.6" x2="88.2" y2="426.2" stroke="#000" stroke-width="1.1"/>
<rect x="113.9" y="385.3" width="6" height="38.3" fill="#d08e80"/>
<rect x="121.9" y="393.7" width="6" height="29.9" fill="#8d97c0"/>
<rect x="115.3" y="372.6" width="3.2" height="3.2" fill="#a80028"/>
<rect x="115.3" y="386.1" width="3.2" height="3.2" fill="#a80028"/>
<rect x="115.3" y="392.5" width="3.2" height="3.2" fill="#a80028"/>
<path d="M124.7 351.8 L123.1 354.8 L126.3 354.8 Z" fill="#1e3060"/>
<path d="M124.7 407.5 L123.1 410.5 L126.3 410.5 Z" fill="#1e3060"/>
<path d="M124.7 418.3 L123.1 421.3 L126.3 421.3 Z" fill="#1e3060"/>
<circle cx="109.2" cy="423.4" r="1.5" fill="#3c2150"/>
<line x1="116.9" y1="423.6" x2="116.9" y2="426.2" stroke="#000" stroke-width="1.1"/>
<rect x="142.3" y="384.7" width="6" height="38.9" fill="#d08e80"/>
<rect x="150.3" y="392.1" width="6" height="31.5" fill="#8d97c0"/>
<rect x="143.7" y="367.8" width="3.2" height="3.2" fill="#a80028"/>
<rect x="143.7" y="383.7" width="3.2" height="3.2" fill="#a80028"/>
<rect x="143.7" y="399.6" width="3.2" height="3.2" fill="#a80028"/>
<path d="M152.7 355.2 L151.1 358.2 L154.3 358.2 Z" fill="#1e3060"/>
<path d="M152.7 402.9 L151.1 405.9 L154.3 405.9 Z" fill="#1e3060"/>
<path d="M152.7 414.3 L151.1 417.3 L154.3 417.3 Z" fill="#1e3060"/>
<circle cx="137.6" cy="423.4" r="1.5" fill="#3c2150"/>
<line x1="145.3" y1="423.6" x2="145.3" y2="426.2" stroke="#000" stroke-width="1.1"/>
<line x1="69.4" y1="377.7" x2="98.5" y2="377.7" stroke="#000" stroke-width="1.2"/>
<text x="83.4" y="375.9" font-size="5.6" text-anchor="middle" stroke="#1f1f1f" stroke-width="0.22">ns</text>
<line x1="123.5" y1="344" x2="152.7" y2="344" stroke="#000" stroke-width="1.2"/>
<text x="138.1" y="342.2" font-size="5.6" text-anchor="middle" stroke="#1f1f1f" stroke-width="0.22">ns</text>
<text x="60" y="435.69" font-size="6.4" text-anchor="middle" stroke="#1f1f1f" stroke-width="0.22">Ctrl gRNA</text>
<text x="60" y="443.59" font-size="6.4" text-anchor="middle" stroke="#1f1f1f" stroke-width="0.22">CD4+</text>
<text x="88.2" y="435.69" font-size="6.4" text-anchor="middle" stroke="#1f1f1f" stroke-width="0.22">CD7 KO</text>
<text x="88.2" y="443.59" font-size="6.4" text-anchor="middle" stroke="#1f1f1f" stroke-width="0.22">CD4+</text>
<text x="116.9" y="435.69" font-size="6.4" text-anchor="middle" stroke="#1f1f1f" stroke-width="0.22">Ctrl gRNA</text>
<text x="116.9" y="443.59" font-size="6.4" text-anchor="middle" stroke="#1f1f1f" stroke-width="0.22">CD8+</text>
<text x="145.3" y="435.69" font-size="6.4" text-anchor="middle" stroke="#1f1f1f" stroke-width="0.22">CD7 KO</text>
<text x="145.3" y="443.59" font-size="6.4" text-anchor="middle" stroke="#1f1f1f" stroke-width="0.22">CD8+</text>
<rect x="161.9" y="372" width="8.8" height="4.6" fill="#542366"/>
<text x="173.8" y="376.27" font-size="5.5" stroke="#1f1f1f" stroke-width="0.22" textLength="28.1" lengthAdjust="spacingAndGlyphs">Neg Control</text>
<rect x="161.9" y="382.1" width="8.8" height="4.6" fill="#a80028"/>
<text x="173.8" y="386.37" font-size="5.5" stroke="#1f1f1f" stroke-width="0.22" textLength="29.2" lengthAdjust="spacingAndGlyphs">Pos. Control</text>
<rect x="161.9" y="392.3" width="8.8" height="4.6" fill="#2d4d7e"/>
<text x="173.8" y="396.57" font-size="5.5" stroke="#1f1f1f" stroke-width="0.22" textLength="53.5" lengthAdjust="spacingAndGlyphs">CMV/EBV/Adv pepmix</text>
</g>
<path d="M0 0H520V452H0Z M1.2 1.1V450.3H518.7V1.1Z" fill="#000" fill-rule="evenodd"/>
</svg>
</body></html>
